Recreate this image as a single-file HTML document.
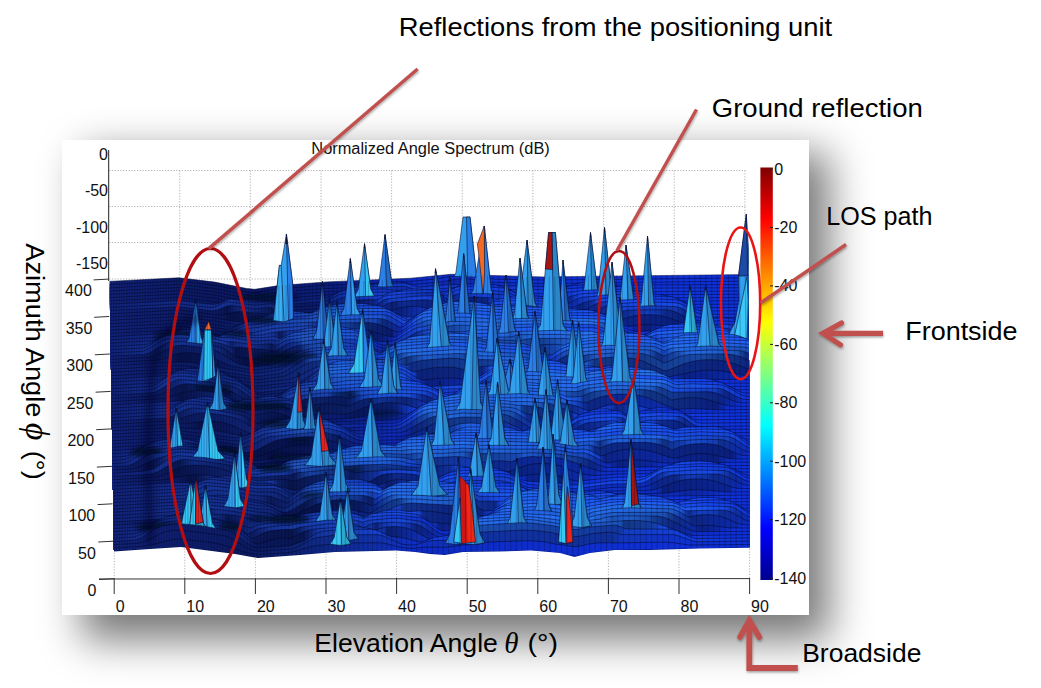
<!DOCTYPE html>
<html><head><meta charset="utf-8"><title>Normalized Angle Spectrum</title>
<style>
html,body{margin:0;padding:0;background:#fff;}
body{width:1041px;height:688px;overflow:hidden;position:relative;font-family:"Liberation Sans", sans-serif;}
.panel{position:absolute;left:62px;top:140px;width:747px;height:475px;background:#fff;}
.sh{position:absolute;left:82px;top:153px;width:747px;height:487px;background:rgba(0,0,0,0.53);filter:blur(20px);}
svg{position:absolute;left:0;top:0;}
text{font-family:"Liberation Sans", sans-serif;}
.tk{font-size:16px;fill:#111;}
.an{font-size:25.5px;fill:#000;}
.ml{fill:none;stroke:#02082a;stroke-width:0.6;stroke-opacity:0.85;}
.pk{stroke:#06103a;stroke-width:0.6;stroke-linejoin:round;}
.rl{fill:none;stroke:#06103a;stroke-width:0.5;stroke-opacity:0.7;}
</style></head><body>
<div class="sh"></div>
<div class="panel"></div>
<svg width="1041" height="688" viewBox="0 0 1041 688">
<defs>
<linearGradient id="jet" x1="0" y1="0" x2="0" y2="1">
<stop offset="0" stop-color="#800000"/>
<stop offset="0.125" stop-color="#ff0000"/>
<stop offset="0.375" stop-color="#ffff00"/>
<stop offset="0.5" stop-color="#80ff80"/>
<stop offset="0.625" stop-color="#00ffff"/>
<stop offset="0.875" stop-color="#0000ff"/>
<stop offset="1" stop-color="#00008f"/>
</linearGradient>
<filter id="b3" x="-30%" y="-80%" width="160%" height="260%"><feGaussianBlur stdDeviation="2.2"/></filter>
<filter id="b4" x="-50%" y="-10%" width="200%" height="120%"><feGaussianBlur stdDeviation="3.5"/></filter>
<filter id="ash" x="-20%" y="-20%" width="140%" height="140%"><feDropShadow dx="0.5" dy="1.5" stdDeviation="1.2" flood-color="#000" flood-opacity="0.35"/></filter>
<clipPath id="sc"><path d="M109.5,281.5 L108,281.5 L112,281.4 L116,281.2 L120,281.1 L124,280.9 L128,280.7 L132,280.5 L136,280.3 L140,280.1 L144,279.8 L148,279.6 L152,279.3 L156,279.1 L160,278.8 L164,278.5 L168,278.3 L172,278 L176,277.9 L180,277.8 L184,278.1 L188,278.5 L192,279 L196,279.5 L200,280 L204,280.5 L208,281 L212,281.5 L216,282.1 L220,282.8 L224,283.6 L228,284.4 L232,285.2 L236,286 L240,286.9 L244,287.7 L248,288.5 L252,289.1 L256,289.3 L260,288.9 L264,288.3 L268,287.5 L272,286.7 L276,286.1 L280,285.6 L284,285.3 L288,284.9 L292,284.6 L296,284.2 L300,283.9 L304,283.5 L308,283.2 L312,282.9 L316,282.5 L320,282.2 L324,282 L328,281.9 L332,281.8 L336,281.7 L340,281.6 L344,281.5 L348,281.4 L352,281.3 L356,281.2 L360,281.1 L364,281 L368,280.9 L372,280.7 L376,280.4 L380,280.2 L384,280 L388,279.7 L392,279.5 L396,279.3 L400,279 L404,278.8 L408,278.5 L412,278.2 L416,277.8 L420,277.4 L424,277 L428,276.6 L432,276.1 L436,275.7 L440,275.3 L444,274.9 L448,274.5 L452,274.3 L456,274.2 L460,274.3 L464,274.5 L468,274.7 L472,274.8 L476,275 L480,275.2 L484,275.4 L488,275.6 L492,275.7 L496,275.9 L500,276 L504,276.1 L508,276.2 L512,276.3 L516,276.4 L520,276.5 L524,276.6 L528,276.7 L532,276.8 L536,276.9 L540,276.9 L544,276.9 L548,276.8 L552,276.6 L556,276.5 L560,276.3 L564,276.1 L568,276 L572,275.8 L576,275.7 L580,275.6 L584,275.5 L588,275.4 L592,275.4 L596,275.4 L600,275.3 L604,275.3 L608,275.3 L612,275.2 L616,275.2 L620,275.2 L624,275.1 L628,275.1 L632,275.1 L636,275 L640,275 L644,275 L648,275 L652,274.9 L656,274.9 L660,274.9 L664,274.9 L668,274.9 L672,274.9 L676,274.8 L680,274.8 L684,274.8 L688,274.8 L692,274.8 L696,274.7 L700,274.7 L704,274.7 L708,274.7 L712,274.7 L716,274.6 L720,274.6 L724,274.6 L728,274.6 L732,274.6 L736,274.5 L740,274.5 L744,274.5 L748,274.5 L752,274.5 L748.5,274.5 L750,547.7 L700,548.5 L650,550 L615,550 L590,553 L574.5,557 L560,553 L531,550.5 L500,551.5 L463,552 L445,555 L430,554 L415,552 L396,550.5 L335,552 L300,555 L258,558 L235,554 L181,547 L150,549 L114,551.5Z"/></clipPath>
<clipPath id="oc"><path d="M104,150 L109.5,281.5 L114,551.5 L150,549 L181,547 L235,554 L258,558 L300,555 L335,552 L396,550.5 L415,552 L430,554 L445,555 L463,552 L500,551.5 L531,550.5 L560,553 L574.5,557 L590,553 L615,550 L650,550 L700,548.5 L750,547.7 L748.6,274.5 L753,150 Z"/></clipPath>
<linearGradient id="r0" gradientUnits="userSpaceOnUse" x1="109" y1="0" x2="751" y2="0"><stop offset="-0.004" stop-color="#12237b"/><stop offset="0.171" stop-color="#0c1a64"/><stop offset="0.352" stop-color="#0c1e7e"/><stop offset="0.389" stop-color="#0d2395"/><stop offset="0.427" stop-color="#0d27ac"/><stop offset="0.477" stop-color="#0e2cc5"/><stop offset="1.001" stop-color="#0e30d9"/></linearGradient>
<linearGradient id="r1" gradientUnits="userSpaceOnUse" x1="109" y1="0" x2="751" y2="0"><stop offset="-0.004" stop-color="#12237b"/><stop offset="0.171" stop-color="#0c1a64"/><stop offset="0.352" stop-color="#0c1e7e"/><stop offset="0.389" stop-color="#0d2395"/><stop offset="0.421" stop-color="#0e28ac"/><stop offset="0.477" stop-color="#0e2cc5"/><stop offset="0.576" stop-color="#1032d4"/><stop offset="1.001" stop-color="#0e30d9"/></linearGradient>
<linearGradient id="r2" gradientUnits="userSpaceOnUse" x1="109" y1="0" x2="751" y2="0"><stop offset="-0.004" stop-color="#12237b"/><stop offset="0.171" stop-color="#0c1a64"/><stop offset="0.352" stop-color="#0c1e7e"/><stop offset="0.389" stop-color="#0e2599"/><stop offset="0.408" stop-color="#1130b1"/><stop offset="0.452" stop-color="#1234c9"/><stop offset="0.539" stop-color="#0d27a7"/><stop offset="0.583" stop-color="#0e2dc1"/><stop offset="0.889" stop-color="#0e30d8"/><stop offset="1.001" stop-color="#0e30d9"/></linearGradient>
<linearGradient id="r3" gradientUnits="userSpaceOnUse" x1="109" y1="0" x2="751" y2="0"><stop offset="-0.004" stop-color="#12237b"/><stop offset="0.171" stop-color="#0c1a64"/><stop offset="0.352" stop-color="#0c1e7e"/><stop offset="0.377" stop-color="#0e2798"/><stop offset="0.396" stop-color="#1232b2"/><stop offset="0.433" stop-color="#153ac9"/><stop offset="1.001" stop-color="#0e30d9"/></linearGradient>
<linearGradient id="r4" gradientUnits="userSpaceOnUse" x1="109" y1="0" x2="751" y2="0"><stop offset="-0.004" stop-color="#12237b"/><stop offset="0.171" stop-color="#0c1a64"/><stop offset="0.346" stop-color="#0b1f7c"/><stop offset="0.358" stop-color="#0f2893"/><stop offset="0.371" stop-color="#1233ac"/><stop offset="0.402" stop-color="#153bc3"/><stop offset="0.458" stop-color="#102ea9"/><stop offset="0.477" stop-color="#0f2fc9"/><stop offset="0.726" stop-color="#133ee2"/><stop offset="1.001" stop-color="#0e30d9"/></linearGradient>
<linearGradient id="r5" gradientUnits="userSpaceOnUse" x1="109" y1="0" x2="751" y2="0"><stop offset="-0.003" stop-color="#12237b"/><stop offset="0.171" stop-color="#0c1a64"/><stop offset="0.346" stop-color="#0d2486"/><stop offset="0.358" stop-color="#1232a6"/><stop offset="0.383" stop-color="#143abd"/><stop offset="0.533" stop-color="#1033d4"/><stop offset="1.001" stop-color="#0e30d9"/></linearGradient>
<linearGradient id="r6" gradientUnits="userSpaceOnUse" x1="109" y1="0" x2="751" y2="0"><stop offset="-0.003" stop-color="#12237b"/><stop offset="0.171" stop-color="#0c1a64"/><stop offset="0.190" stop-color="#12267c"/><stop offset="0.215" stop-color="#163294"/><stop offset="0.252" stop-color="#102373"/><stop offset="0.271" stop-color="#0b185c"/><stop offset="0.333" stop-color="#0b1c73"/><stop offset="0.358" stop-color="#102e97"/><stop offset="0.371" stop-color="#1438b5"/><stop offset="0.433" stop-color="#163ecf"/><stop offset="0.546" stop-color="#1644e6"/><stop offset="1.001" stop-color="#0e30d9"/></linearGradient>
<linearGradient id="r7" gradientUnits="userSpaceOnUse" x1="109" y1="0" x2="751" y2="0"><stop offset="-0.003" stop-color="#12237b"/><stop offset="0.190" stop-color="#173398"/><stop offset="0.265" stop-color="#0f2374"/><stop offset="0.277" stop-color="#0b185c"/><stop offset="0.334" stop-color="#0b1c73"/><stop offset="0.371" stop-color="#0e298b"/><stop offset="0.383" stop-color="#1234ac"/><stop offset="0.427" stop-color="#153dcd"/><stop offset="0.452" stop-color="#1949e4"/><stop offset="0.527" stop-color="#1031c3"/><stop offset="0.546" stop-color="#1640db"/><stop offset="0.627" stop-color="#1236c1"/><stop offset="0.633" stop-color="#123add"/><stop offset="0.689" stop-color="#0f31d5"/><stop offset="0.702" stop-color="#0d2aa2"/><stop offset="0.720" stop-color="#133ccb"/><stop offset="0.733" stop-color="#1747ea"/><stop offset="0.870" stop-color="#0e30d7"/><stop offset="1.001" stop-color="#0e30d9"/></linearGradient>
<linearGradient id="r8" gradientUnits="userSpaceOnUse" x1="109" y1="0" x2="751" y2="0"><stop offset="-0.003" stop-color="#12237b"/><stop offset="0.190" stop-color="#173295"/><stop offset="0.259" stop-color="#11277b"/><stop offset="0.271" stop-color="#0c1c63"/><stop offset="0.346" stop-color="#0b1f7b"/><stop offset="0.377" stop-color="#081759"/><stop offset="0.415" stop-color="#0d2586"/><stop offset="0.421" stop-color="#143ac4"/><stop offset="0.433" stop-color="#1947dc"/><stop offset="0.533" stop-color="#0c248d"/><stop offset="0.552" stop-color="#1133af"/><stop offset="0.558" stop-color="#143bc8"/><stop offset="0.596" stop-color="#1540d8"/><stop offset="0.608" stop-color="#1236b6"/><stop offset="0.614" stop-color="#1643e1"/><stop offset="0.702" stop-color="#1035da"/><stop offset="0.708" stop-color="#0f2fb8"/><stop offset="0.714" stop-color="#0b2384"/><stop offset="0.720" stop-color="#0e2b9b"/><stop offset="0.727" stop-color="#1239c5"/><stop offset="0.739" stop-color="#1848e8"/><stop offset="0.889" stop-color="#0e31d9"/><stop offset="1.001" stop-color="#0e30d9"/></linearGradient>
<linearGradient id="r9" gradientUnits="userSpaceOnUse" x1="109" y1="0" x2="751" y2="0"><stop offset="-0.003" stop-color="#12237b"/><stop offset="0.165" stop-color="#0c1a63"/><stop offset="0.184" stop-color="#08144c"/><stop offset="0.196" stop-color="#0f216c"/><stop offset="0.209" stop-color="#142d87"/><stop offset="0.246" stop-color="#0c1c5f"/><stop offset="0.259" stop-color="#08144d"/><stop offset="0.315" stop-color="#0a1a66"/><stop offset="0.346" stop-color="#0c207f"/><stop offset="0.377" stop-color="#0e2799"/><stop offset="0.409" stop-color="#0f2cab"/><stop offset="0.421" stop-color="#0c2380"/><stop offset="0.433" stop-color="#1234a8"/><stop offset="0.440" stop-color="#1640cb"/><stop offset="0.496" stop-color="#1845dc"/><stop offset="0.502" stop-color="#143bc1"/><stop offset="0.508" stop-color="#102e9b"/><stop offset="0.533" stop-color="#0d28ac"/><stop offset="0.539" stop-color="#0a2187"/><stop offset="0.589" stop-color="#0c237e"/><stop offset="0.596" stop-color="#123ac4"/><stop offset="0.602" stop-color="#1643e6"/><stop offset="0.714" stop-color="#1036da"/><stop offset="0.720" stop-color="#0d299f"/><stop offset="0.745" stop-color="#143dc6"/><stop offset="0.758" stop-color="#1748e8"/><stop offset="0.907" stop-color="#0e30d8"/><stop offset="1.001" stop-color="#0e30d9"/></linearGradient>
<linearGradient id="r10" gradientUnits="userSpaceOnUse" x1="109" y1="0" x2="751" y2="0"><stop offset="-0.003" stop-color="#12237b"/><stop offset="0.172" stop-color="#0d1a64"/><stop offset="0.190" stop-color="#071247"/><stop offset="0.240" stop-color="#0d1e66"/><stop offset="0.246" stop-color="#11287e"/><stop offset="0.265" stop-color="#0c1b62"/><stop offset="0.327" stop-color="#0e237f"/><stop offset="0.340" stop-color="#112d97"/><stop offset="0.359" stop-color="#1539b3"/><stop offset="0.434" stop-color="#0e288c"/><stop offset="0.440" stop-color="#0b1e6d"/><stop offset="0.458" stop-color="#0f2b91"/><stop offset="0.508" stop-color="#0b217c"/><stop offset="0.521" stop-color="#1134d5"/><stop offset="0.608" stop-color="#194cee"/><stop offset="0.720" stop-color="#1035da"/><stop offset="0.727" stop-color="#0e2eb4"/><stop offset="0.733" stop-color="#0a207c"/><stop offset="0.752" stop-color="#0f2e9e"/><stop offset="0.758" stop-color="#143fcd"/><stop offset="0.770" stop-color="#194dec"/><stop offset="0.908" stop-color="#1035dd"/><stop offset="1.001" stop-color="#0e30d9"/></linearGradient>
<linearGradient id="r11" gradientUnits="userSpaceOnUse" x1="109" y1="0" x2="751" y2="0"><stop offset="-0.003" stop-color="#12237b"/><stop offset="0.172" stop-color="#0c1a64"/><stop offset="0.246" stop-color="#12287f"/><stop offset="0.328" stop-color="#1535a4"/><stop offset="0.340" stop-color="#1840bd"/><stop offset="0.365" stop-color="#1e57d8"/><stop offset="0.427" stop-color="#153dce"/><stop offset="0.452" stop-color="#0b2079"/><stop offset="0.496" stop-color="#1134c3"/><stop offset="0.533" stop-color="#1238da"/><stop offset="0.627" stop-color="#1a50f1"/><stop offset="0.727" stop-color="#1034d9"/><stop offset="0.739" stop-color="#0e2dbd"/><stop offset="0.745" stop-color="#0d299f"/><stop offset="0.758" stop-color="#0d288c"/><stop offset="0.770" stop-color="#1239b6"/><stop offset="0.777" stop-color="#1644d5"/><stop offset="0.789" stop-color="#1a4ff2"/><stop offset="0.914" stop-color="#1035dc"/><stop offset="1.001" stop-color="#0e30d9"/></linearGradient>
<linearGradient id="r12" gradientUnits="userSpaceOnUse" x1="109" y1="0" x2="751" y2="0"><stop offset="-0.003" stop-color="#12237b"/><stop offset="0.172" stop-color="#0c1a64"/><stop offset="0.222" stop-color="#132a84"/><stop offset="0.240" stop-color="#1838a2"/><stop offset="0.328" stop-color="#1a45bc"/><stop offset="0.346" stop-color="#1f5ad4"/><stop offset="0.440" stop-color="#1740d5"/><stop offset="0.527" stop-color="#194bed"/><stop offset="0.702" stop-color="#1745d5"/><stop offset="0.758" stop-color="#0e2da7"/><stop offset="0.764" stop-color="#0b227e"/><stop offset="0.783" stop-color="#133cbf"/><stop offset="0.789" stop-color="#1747da"/><stop offset="0.883" stop-color="#194deb"/><stop offset="0.895" stop-color="#143fcc"/><stop offset="1.001" stop-color="#0e30d9"/></linearGradient>
<linearGradient id="r13" gradientUnits="userSpaceOnUse" x1="109" y1="0" x2="751" y2="0"><stop offset="-0.003" stop-color="#12237b"/><stop offset="0.172" stop-color="#0c1a64"/><stop offset="0.209" stop-color="#142c88"/><stop offset="0.222" stop-color="#1938a3"/><stop offset="0.321" stop-color="#1c4dc2"/><stop offset="0.353" stop-color="#2161db"/><stop offset="0.427" stop-color="#1f5be5"/><stop offset="0.446" stop-color="#1742d9"/><stop offset="0.509" stop-color="#1e57f0"/><stop offset="0.527" stop-color="#2570f3"/><stop offset="0.602" stop-color="#1a4ef0"/><stop offset="0.764" stop-color="#1036db"/><stop offset="0.777" stop-color="#0e2b9d"/><stop offset="0.802" stop-color="#1643d0"/><stop offset="0.883" stop-color="#1237ad"/><stop offset="0.895" stop-color="#0d298f"/><stop offset="0.914" stop-color="#0e2cba"/><stop offset="0.920" stop-color="#0e2fd2"/><stop offset="1.001" stop-color="#0e30d9"/></linearGradient>
<linearGradient id="r14" gradientUnits="userSpaceOnUse" x1="109" y1="0" x2="751" y2="0"><stop offset="-0.003" stop-color="#12237b"/><stop offset="0.172" stop-color="#0c1a64"/><stop offset="0.197" stop-color="#12257b"/><stop offset="0.209" stop-color="#18349a"/><stop offset="0.297" stop-color="#183aa6"/><stop offset="0.322" stop-color="#1d50c2"/><stop offset="0.353" stop-color="#2162da"/><stop offset="0.440" stop-color="#1844d4"/><stop offset="0.490" stop-color="#1c52ed"/><stop offset="0.502" stop-color="#256ef3"/><stop offset="0.739" stop-color="#1c56f2"/><stop offset="0.770" stop-color="#143fe3"/><stop offset="0.789" stop-color="#0b2481"/><stop offset="0.820" stop-color="#1133a4"/><stop offset="0.839" stop-color="#143cbd"/><stop offset="0.858" stop-color="#1033a2"/><stop offset="0.864" stop-color="#0e2a8a"/><stop offset="0.895" stop-color="#0a207d"/><stop offset="0.901" stop-color="#0b2595"/><stop offset="0.908" stop-color="#0d2bb8"/><stop offset="0.914" stop-color="#0e2fd2"/><stop offset="1.001" stop-color="#0e30d9"/></linearGradient>
<linearGradient id="r15" gradientUnits="userSpaceOnUse" x1="109" y1="0" x2="751" y2="0"><stop offset="-0.003" stop-color="#12237b"/><stop offset="0.172" stop-color="#0c1a64"/><stop offset="0.203" stop-color="#142b85"/><stop offset="0.216" stop-color="#18369c"/><stop offset="0.303" stop-color="#1c4dba"/><stop offset="0.353" stop-color="#205cd1"/><stop offset="0.421" stop-color="#1e59db"/><stop offset="0.434" stop-color="#153eb0"/><stop offset="0.459" stop-color="#1235cc"/><stop offset="0.477" stop-color="#1a4bea"/><stop offset="0.490" stop-color="#246af1"/><stop offset="0.771" stop-color="#194ef1"/><stop offset="0.795" stop-color="#133ce1"/><stop offset="0.802" stop-color="#0b2486"/><stop offset="0.883" stop-color="#0a1f7c"/><stop offset="0.889" stop-color="#0b2497"/><stop offset="0.895" stop-color="#0d2bba"/><stop offset="0.901" stop-color="#0e30d3"/><stop offset="0.951" stop-color="#1645ea"/><stop offset="1.001" stop-color="#0e30d9"/></linearGradient>
<linearGradient id="r16" gradientUnits="userSpaceOnUse" x1="109" y1="0" x2="751" y2="0"><stop offset="-0.003" stop-color="#12237b"/><stop offset="0.172" stop-color="#0c1a64"/><stop offset="0.197" stop-color="#12267c"/><stop offset="0.209" stop-color="#18359c"/><stop offset="0.303" stop-color="#1c48b3"/><stop offset="0.322" stop-color="#143594"/><stop offset="0.340" stop-color="#1948af"/><stop offset="0.353" stop-color="#1d57ca"/><stop offset="0.415" stop-color="#1845b1"/><stop offset="0.421" stop-color="#123693"/><stop offset="0.428" stop-color="#0e287c"/><stop offset="0.453" stop-color="#0e289b"/><stop offset="0.459" stop-color="#1337ce"/><stop offset="0.471" stop-color="#1948e5"/><stop offset="0.484" stop-color="#2265ef"/><stop offset="0.783" stop-color="#194cf0"/><stop offset="0.808" stop-color="#1034da"/><stop offset="0.814" stop-color="#0d2bb2"/><stop offset="0.820" stop-color="#0b2495"/><stop offset="0.839" stop-color="#0a1f7e"/><stop offset="0.858" stop-color="#0d29a7"/><stop offset="0.864" stop-color="#0f31c8"/><stop offset="0.920" stop-color="#133ce2"/><stop offset="1.001" stop-color="#0e30d9"/></linearGradient>
<linearGradient id="r17" gradientUnits="userSpaceOnUse" x1="109" y1="0" x2="751" y2="0"><stop offset="-0.002" stop-color="#12237b"/><stop offset="0.197" stop-color="#173398"/><stop offset="0.303" stop-color="#1c48b7"/><stop offset="0.334" stop-color="#183fba"/><stop offset="0.372" stop-color="#153fa2"/><stop offset="0.378" stop-color="#12348b"/><stop offset="0.397" stop-color="#0d2670"/><stop offset="0.440" stop-color="#091a69"/><stop offset="0.446" stop-color="#0e279b"/><stop offset="0.453" stop-color="#1130c4"/><stop offset="0.471" stop-color="#1948e6"/><stop offset="0.484" stop-color="#1b50c6"/><stop offset="0.496" stop-color="#256ee9"/><stop offset="0.783" stop-color="#1a50f3"/><stop offset="0.808" stop-color="#1035db"/><stop offset="1.001" stop-color="#0e30d9"/></linearGradient>
<linearGradient id="r18" gradientUnits="userSpaceOnUse" x1="109" y1="0" x2="751" y2="0"><stop offset="-0.002" stop-color="#12237b"/><stop offset="0.178" stop-color="#163295"/><stop offset="0.247" stop-color="#193aa6"/><stop offset="0.259" stop-color="#132c85"/><stop offset="0.266" stop-color="#0a1a59"/><stop offset="0.272" stop-color="#0f2472"/><stop offset="0.278" stop-color="#153396"/><stop offset="0.297" stop-color="#183aa6"/><stop offset="0.309" stop-color="#1e51c1"/><stop offset="0.390" stop-color="#1945d1"/><stop offset="0.397" stop-color="#1335a9"/><stop offset="0.403" stop-color="#0d257f"/><stop offset="0.409" stop-color="#091a61"/><stop offset="0.434" stop-color="#0c2186"/><stop offset="0.440" stop-color="#0d26a3"/><stop offset="0.446" stop-color="#102dbd"/><stop offset="0.465" stop-color="#1744de"/><stop offset="0.490" stop-color="#1a4cb7"/><stop offset="0.503" stop-color="#2161d3"/><stop offset="0.621" stop-color="#246be5"/><stop offset="0.764" stop-color="#2672f2"/><stop offset="0.783" stop-color="#184bd6"/><stop offset="0.808" stop-color="#1032ce"/><stop offset="0.864" stop-color="#1543e8"/><stop offset="0.951" stop-color="#194cf1"/><stop offset="0.964" stop-color="#1542d7"/><stop offset="0.970" stop-color="#1238b7"/><stop offset="0.976" stop-color="#0c2481"/><stop offset="0.983" stop-color="#1239ce"/><stop offset="1.001" stop-color="#0e30d9"/></linearGradient>
<linearGradient id="r19" gradientUnits="userSpaceOnUse" x1="109" y1="0" x2="751" y2="0"><stop offset="-0.002" stop-color="#12237b"/><stop offset="0.097" stop-color="#163294"/><stop offset="0.260" stop-color="#193aa5"/><stop offset="0.303" stop-color="#1f54c4"/><stop offset="0.378" stop-color="#1d55d9"/><stop offset="0.397" stop-color="#163ec7"/><stop offset="0.415" stop-color="#0f2bad"/><stop offset="0.478" stop-color="#1640c4"/><stop offset="0.484" stop-color="#1a4fdb"/><stop offset="0.503" stop-color="#194bb1"/><stop offset="0.528" stop-color="#2060cf"/><stop offset="0.596" stop-color="#256de8"/><stop offset="0.758" stop-color="#2774f5"/><stop offset="0.771" stop-color="#1a4fb9"/><stop offset="0.783" stop-color="#1133a2"/><stop offset="0.802" stop-color="#0f31bb"/><stop offset="0.808" stop-color="#1035db"/><stop offset="0.858" stop-color="#194ef1"/><stop offset="1.001" stop-color="#123be2"/></linearGradient>
<linearGradient id="r20" gradientUnits="userSpaceOnUse" x1="109" y1="0" x2="751" y2="0"><stop offset="-0.002" stop-color="#12237b"/><stop offset="0.085" stop-color="#173499"/><stop offset="0.179" stop-color="#1a3aa4"/><stop offset="0.260" stop-color="#132c84"/><stop offset="0.266" stop-color="#18379e"/><stop offset="0.303" stop-color="#2059c8"/><stop offset="0.384" stop-color="#1d56db"/><stop offset="0.403" stop-color="#163dc8"/><stop offset="0.422" stop-color="#0e29ad"/><stop offset="0.472" stop-color="#0c247f"/><stop offset="0.490" stop-color="#153eb3"/><stop offset="0.496" stop-color="#1a4bd0"/><stop offset="0.509" stop-color="#1d55e2"/><stop offset="0.521" stop-color="#1a4cba"/><stop offset="0.534" stop-color="#16439d"/><stop offset="0.565" stop-color="#1f5cc8"/><stop offset="0.577" stop-color="#2369e9"/><stop offset="0.777" stop-color="#1747db"/><stop offset="0.852" stop-color="#1a50f3"/><stop offset="1.001" stop-color="#1541e8"/></linearGradient>
<linearGradient id="r21" gradientUnits="userSpaceOnUse" x1="109" y1="0" x2="751" y2="0"><stop offset="-0.002" stop-color="#12237b"/><stop offset="0.079" stop-color="#17359a"/><stop offset="0.179" stop-color="#1a3aa5"/><stop offset="0.191" stop-color="#0e2068"/><stop offset="0.197" stop-color="#132a81"/><stop offset="0.216" stop-color="#173498"/><stop offset="0.247" stop-color="#0e226d"/><stop offset="0.253" stop-color="#0a1956"/><stop offset="0.260" stop-color="#0e226d"/><stop offset="0.266" stop-color="#132e89"/><stop offset="0.285" stop-color="#1739a3"/><stop offset="0.303" stop-color="#1f57c3"/><stop offset="0.378" stop-color="#1d57d8"/><stop offset="0.391" stop-color="#1743bb"/><stop offset="0.422" stop-color="#0e29aa"/><stop offset="0.453" stop-color="#1030c4"/><stop offset="0.478" stop-color="#1641df"/><stop offset="0.521" stop-color="#1e58f0"/><stop offset="0.559" stop-color="#1b4ecd"/><stop offset="0.571" stop-color="#2266ee"/><stop offset="0.777" stop-color="#1a4ff2"/><stop offset="0.895" stop-color="#2267f4"/><stop offset="0.964" stop-color="#1a50f4"/><stop offset="1.001" stop-color="#1440e1"/></linearGradient>
<linearGradient id="r22" gradientUnits="userSpaceOnUse" x1="109" y1="0" x2="751" y2="0"><stop offset="-0.002" stop-color="#12237b"/><stop offset="0.091" stop-color="#18369b"/><stop offset="0.191" stop-color="#102371"/><stop offset="0.197" stop-color="#08144c"/><stop offset="0.266" stop-color="#0d1f66"/><stop offset="0.285" stop-color="#122d86"/><stop offset="0.297" stop-color="#17379f"/><stop offset="0.303" stop-color="#1e52bc"/><stop offset="0.409" stop-color="#1336bc"/><stop offset="0.453" stop-color="#163fd8"/><stop offset="0.478" stop-color="#1f5cee"/><stop offset="0.497" stop-color="#2673f3"/><stop offset="0.559" stop-color="#1c54f0"/><stop offset="0.615" stop-color="#2368e1"/><stop offset="0.627" stop-color="#1d55bc"/><stop offset="0.634" stop-color="#2265d8"/><stop offset="0.752" stop-color="#2774f5"/><stop offset="0.827" stop-color="#1c57f3"/><stop offset="0.852" stop-color="#1849cf"/><stop offset="0.858" stop-color="#1c56e7"/><stop offset="0.883" stop-color="#1f5fe9"/><stop offset="0.989" stop-color="#1644ea"/><stop offset="1.001" stop-color="#1541e8"/></linearGradient>
<linearGradient id="r23" gradientUnits="userSpaceOnUse" x1="109" y1="0" x2="751" y2="0"><stop offset="-0.002" stop-color="#12237b"/><stop offset="0.073" stop-color="#0c1c63"/><stop offset="0.098" stop-color="#122a7e"/><stop offset="0.110" stop-color="#17379b"/><stop offset="0.173" stop-color="#112676"/><stop offset="0.185" stop-color="#0b1b5d"/><stop offset="0.216" stop-color="#071146"/><stop offset="0.297" stop-color="#0e226d"/><stop offset="0.303" stop-color="#14358a"/><stop offset="0.316" stop-color="#1a47ad"/><stop offset="0.347" stop-color="#1d52c6"/><stop offset="0.409" stop-color="#1438c0"/><stop offset="0.441" stop-color="#1742d7"/><stop offset="0.459" stop-color="#2264ee"/><stop offset="0.565" stop-color="#2774f4"/><stop offset="0.634" stop-color="#1a4dae"/><stop offset="0.652" stop-color="#2162d3"/><stop offset="0.727" stop-color="#2367dd"/><stop offset="0.740" stop-color="#2774f5"/><stop offset="0.846" stop-color="#1e5bf4"/><stop offset="0.864" stop-color="#1747c2"/><stop offset="0.871" stop-color="#1f5df2"/><stop offset="0.902" stop-color="#2674f5"/><stop offset="0.989" stop-color="#1c55f4"/><stop offset="1.001" stop-color="#1748ee"/></linearGradient>
<linearGradient id="r24" gradientUnits="userSpaceOnUse" x1="109" y1="0" x2="751" y2="0"><stop offset="-0.002" stop-color="#12237b"/><stop offset="0.079" stop-color="#0b1a5c"/><stop offset="0.285" stop-color="#10287d"/><stop offset="0.291" stop-color="#143395"/><stop offset="0.310" stop-color="#193eaf"/><stop offset="0.335" stop-color="#1d4fc8"/><stop offset="0.422" stop-color="#1338c4"/><stop offset="0.434" stop-color="#1946dc"/><stop offset="0.447" stop-color="#2265ec"/><stop offset="0.652" stop-color="#17459e"/><stop offset="0.659" stop-color="#123683"/><stop offset="0.684" stop-color="#1745a0"/><stop offset="0.715" stop-color="#1f5cca"/><stop offset="0.721" stop-color="#2774f5"/><stop offset="0.858" stop-color="#1d59f3"/><stop offset="0.883" stop-color="#2673f5"/><stop offset="1.001" stop-color="#1b53f4"/></linearGradient>
<linearGradient id="r25" gradientUnits="userSpaceOnUse" x1="109" y1="0" x2="751" y2="0"><stop offset="-0.002" stop-color="#12237b"/><stop offset="0.092" stop-color="#0c1b62"/><stop offset="0.110" stop-color="#071249"/><stop offset="0.185" stop-color="#0c1a61"/><stop offset="0.285" stop-color="#122b85"/><stop offset="0.297" stop-color="#183aa6"/><stop offset="0.316" stop-color="#1c4cbf"/><stop offset="0.353" stop-color="#1f5ad6"/><stop offset="0.422" stop-color="#1640cf"/><stop offset="0.441" stop-color="#2366ec"/><stop offset="0.665" stop-color="#1b51cf"/><stop offset="0.671" stop-color="#103083"/><stop offset="0.702" stop-color="#194db9"/><stop offset="0.709" stop-color="#2267f4"/><stop offset="1.001" stop-color="#2164f5"/></linearGradient>
<linearGradient id="r26" gradientUnits="userSpaceOnUse" x1="109" y1="0" x2="751" y2="0"><stop offset="-0.002" stop-color="#12237b"/><stop offset="0.142" stop-color="#0c1c64"/><stop offset="0.291" stop-color="#122d88"/><stop offset="0.304" stop-color="#193fa6"/><stop offset="0.322" stop-color="#1c4ec0"/><stop offset="0.391" stop-color="#1d54d7"/><stop offset="0.416" stop-color="#153dbe"/><stop offset="0.422" stop-color="#1845d9"/><stop offset="0.441" stop-color="#2266e1"/><stop offset="0.671" stop-color="#194ef0"/><stop offset="0.684" stop-color="#1031a6"/><stop offset="0.690" stop-color="#143dca"/><stop offset="0.702" stop-color="#1c54e2"/><stop offset="0.715" stop-color="#256eea"/><stop offset="0.864" stop-color="#1c57db"/><stop offset="0.877" stop-color="#2671f0"/><stop offset="1.002" stop-color="#1e5dde"/></linearGradient>
<linearGradient id="r27" gradientUnits="userSpaceOnUse" x1="109" y1="0" x2="751" y2="0"><stop offset="-0.002" stop-color="#12237b"/><stop offset="0.173" stop-color="#0c1a64"/><stop offset="0.304" stop-color="#10297b"/><stop offset="0.310" stop-color="#153896"/><stop offset="0.316" stop-color="#1944ae"/><stop offset="0.354" stop-color="#1c51c6"/><stop offset="0.378" stop-color="#1c52cf"/><stop offset="0.428" stop-color="#1947dc"/><stop offset="0.435" stop-color="#143aa8"/><stop offset="0.447" stop-color="#1e59c3"/><stop offset="0.459" stop-color="#256ee9"/><stop offset="0.665" stop-color="#1b51d9"/><stop offset="0.684" stop-color="#123acd"/><stop offset="0.690" stop-color="#1033b2"/><stop offset="0.709" stop-color="#194cb7"/><stop offset="0.721" stop-color="#2163d6"/><stop offset="0.734" stop-color="#256fed"/><stop offset="0.852" stop-color="#1f5bc8"/><stop offset="0.864" stop-color="#1540b2"/><stop offset="0.877" stop-color="#1e5dcb"/><stop offset="0.883" stop-color="#246be5"/><stop offset="0.995" stop-color="#1b51bc"/><stop offset="1.002" stop-color="#1541ab"/></linearGradient>
<linearGradient id="r28" gradientUnits="userSpaceOnUse" x1="109" y1="0" x2="751" y2="0"><stop offset="-0.002" stop-color="#12237b"/><stop offset="0.168" stop-color="#0c1a64"/><stop offset="0.324" stop-color="#102c7f"/><stop offset="0.337" stop-color="#163ea4"/><stop offset="0.350" stop-color="#1d51ce"/><stop offset="0.444" stop-color="#1948b7"/><stop offset="0.450" stop-color="#143c8f"/><stop offset="0.462" stop-color="#1e58c1"/><stop offset="0.469" stop-color="#2366da"/><stop offset="0.556" stop-color="#246ce6"/><stop offset="0.569" stop-color="#1e58c1"/><stop offset="0.582" stop-color="#246be4"/><stop offset="0.657" stop-color="#194cb9"/><stop offset="0.663" stop-color="#1b52dd"/><stop offset="0.707" stop-color="#0d2982"/><stop offset="0.726" stop-color="#194baa"/><stop offset="0.732" stop-color="#1f5bc8"/><stop offset="0.738" stop-color="#2368df"/><stop offset="0.839" stop-color="#1d56be"/><stop offset="0.845" stop-color="#1846a2"/><stop offset="0.857" stop-color="#0f2e84"/><stop offset="0.889" stop-color="#1a4eb1"/><stop offset="0.895" stop-color="#205ecd"/><stop offset="0.908" stop-color="#246be4"/><stop offset="0.976" stop-color="#1d57c0"/><stop offset="0.983" stop-color="#1745a0"/><stop offset="0.989" stop-color="#113486"/><stop offset="1.002" stop-color="#0d2783"/></linearGradient>
<linearGradient id="r29" gradientUnits="userSpaceOnUse" x1="109" y1="0" x2="751" y2="0"><stop offset="-0.001" stop-color="#12237b"/><stop offset="0.180" stop-color="#0d1b64"/><stop offset="0.318" stop-color="#112b86"/><stop offset="0.325" stop-color="#1638a9"/><stop offset="0.343" stop-color="#1945c2"/><stop offset="0.356" stop-color="#2160dc"/><stop offset="0.456" stop-color="#1642a3"/><stop offset="0.462" stop-color="#103079"/><stop offset="0.481" stop-color="#1a4cab"/><stop offset="0.494" stop-color="#205dcc"/><stop offset="0.550" stop-color="#194bab"/><stop offset="0.556" stop-color="#143c8f"/><stop offset="0.569" stop-color="#2161d2"/><stop offset="0.632" stop-color="#2165de"/><stop offset="0.694" stop-color="#194ef0"/><stop offset="0.719" stop-color="#113496"/><stop offset="0.738" stop-color="#123684"/><stop offset="0.751" stop-color="#1a4eb0"/><stop offset="0.763" stop-color="#205fcf"/><stop offset="0.820" stop-color="#194aa8"/><stop offset="0.826" stop-color="#133a8b"/><stop offset="0.926" stop-color="#1847a4"/><stop offset="0.958" stop-color="#123684"/><stop offset="1.002" stop-color="#0b2380"/></linearGradient>
<linearGradient id="r30" gradientUnits="userSpaceOnUse" x1="109" y1="0" x2="751" y2="0"><stop offset="-0.001" stop-color="#12237b"/><stop offset="0.143" stop-color="#163193"/><stop offset="0.187" stop-color="#11267b"/><stop offset="0.206" stop-color="#0d1b63"/><stop offset="0.312" stop-color="#102985"/><stop offset="0.325" stop-color="#173aad"/><stop offset="0.337" stop-color="#1e56ce"/><stop offset="0.362" stop-color="#246be5"/><stop offset="0.456" stop-color="#1c4fe8"/><stop offset="0.469" stop-color="#0f2c83"/><stop offset="0.600" stop-color="#153e97"/><stop offset="0.607" stop-color="#1b51ba"/><stop offset="0.613" stop-color="#2267e5"/><stop offset="0.720" stop-color="#194ef0"/><stop offset="0.745" stop-color="#1d57d0"/><stop offset="0.751" stop-color="#16429c"/><stop offset="0.757" stop-color="#123684"/><stop offset="0.995" stop-color="#0a1f7d"/><stop offset="1.002" stop-color="#0b2494"/></linearGradient>
<linearGradient id="r31" gradientUnits="userSpaceOnUse" x1="109" y1="0" x2="751" y2="0"><stop offset="-0.001" stop-color="#12237b"/><stop offset="0.105" stop-color="#163192"/><stop offset="0.212" stop-color="#0f2170"/><stop offset="0.312" stop-color="#132f92"/><stop offset="0.325" stop-color="#183eb5"/><stop offset="0.331" stop-color="#1f56cc"/><stop offset="0.356" stop-color="#256ce5"/><stop offset="0.463" stop-color="#1b4de9"/><stop offset="0.475" stop-color="#153ed0"/><stop offset="0.481" stop-color="#0c2279"/><stop offset="0.582" stop-color="#0d2782"/><stop offset="0.588" stop-color="#1234a0"/><stop offset="0.594" stop-color="#1b51e7"/><stop offset="0.613" stop-color="#236af3"/><stop offset="0.757" stop-color="#1a51f2"/><stop offset="0.851" stop-color="#1137dd"/><stop offset="0.883" stop-color="#0d2ab3"/><stop offset="0.889" stop-color="#0c269b"/><stop offset="0.895" stop-color="#0a2083"/><stop offset="0.983" stop-color="#0c28a9"/><stop offset="0.995" stop-color="#0e2ece"/><stop offset="1.002" stop-color="#0e30d7"/></linearGradient>
<linearGradient id="r32" gradientUnits="userSpaceOnUse" x1="109" y1="0" x2="751" y2="0"><stop offset="-0.001" stop-color="#12237b"/><stop offset="0.093" stop-color="#153092"/><stop offset="0.218" stop-color="#112578"/><stop offset="0.231" stop-color="#0c1a60"/><stop offset="0.306" stop-color="#10277f"/><stop offset="0.318" stop-color="#1637a2"/><stop offset="0.331" stop-color="#1c4eba"/><stop offset="0.344" stop-color="#2366dc"/><stop offset="0.463" stop-color="#1844c9"/><stop offset="0.488" stop-color="#0f2bae"/><stop offset="0.494" stop-color="#0a1f7f"/><stop offset="0.557" stop-color="#0c27a3"/><stop offset="0.569" stop-color="#1134cb"/><stop offset="0.582" stop-color="#1643e5"/><stop offset="0.601" stop-color="#2163f2"/><stop offset="0.832" stop-color="#184aee"/><stop offset="0.876" stop-color="#0f31d8"/><stop offset="1.002" stop-color="#0e30d9"/></linearGradient>
<linearGradient id="r33" gradientUnits="userSpaceOnUse" x1="109" y1="0" x2="751" y2="0"><stop offset="-0.001" stop-color="#12237b"/><stop offset="0.093" stop-color="#18369d"/><stop offset="0.218" stop-color="#132b85"/><stop offset="0.231" stop-color="#0d1d67"/><stop offset="0.293" stop-color="#11287e"/><stop offset="0.306" stop-color="#143196"/><stop offset="0.325" stop-color="#183eb5"/><stop offset="0.344" stop-color="#1d56bf"/><stop offset="0.356" stop-color="#2365d9"/><stop offset="0.438" stop-color="#2365e2"/><stop offset="0.450" stop-color="#1d55ca"/><stop offset="0.456" stop-color="#1e57e4"/><stop offset="0.475" stop-color="#153eda"/><stop offset="0.594" stop-color="#1c55e4"/><stop offset="0.607" stop-color="#2570f1"/><stop offset="0.851" stop-color="#1a50f3"/><stop offset="0.883" stop-color="#1036dc"/><stop offset="1.002" stop-color="#0e30d9"/></linearGradient>
<linearGradient id="r34" gradientUnits="userSpaceOnUse" x1="109" y1="0" x2="751" y2="0"><stop offset="-0.001" stop-color="#12237b"/><stop offset="0.106" stop-color="#18379d"/><stop offset="0.212" stop-color="#12297f"/><stop offset="0.231" stop-color="#0d1b62"/><stop offset="0.275" stop-color="#11267c"/><stop offset="0.287" stop-color="#153397"/><stop offset="0.312" stop-color="#1940b2"/><stop offset="0.369" stop-color="#1f5ccb"/><stop offset="0.438" stop-color="#1f5dd6"/><stop offset="0.475" stop-color="#1743e0"/><stop offset="0.576" stop-color="#1237c9"/><stop offset="0.582" stop-color="#1132ad"/><stop offset="0.601" stop-color="#1a4fc0"/><stop offset="0.613" stop-color="#246dea"/><stop offset="0.851" stop-color="#2774f5"/><stop offset="0.864" stop-color="#1c57f3"/><stop offset="0.933" stop-color="#143fe5"/><stop offset="1.002" stop-color="#0e30d9"/></linearGradient>
<linearGradient id="r35" gradientUnits="userSpaceOnUse" x1="109" y1="0" x2="751" y2="0"><stop offset="-0.001" stop-color="#12237b"/><stop offset="0.087" stop-color="#0c1d63"/><stop offset="0.112" stop-color="#132d85"/><stop offset="0.124" stop-color="#18389e"/><stop offset="0.193" stop-color="#12297f"/><stop offset="0.206" stop-color="#0d1e63"/><stop offset="0.269" stop-color="#122a82"/><stop offset="0.281" stop-color="#1738a1"/><stop offset="0.312" stop-color="#1b46b8"/><stop offset="0.356" stop-color="#1d53d2"/><stop offset="0.419" stop-color="#2266e9"/><stop offset="0.469" stop-color="#1b4fea"/><stop offset="0.513" stop-color="#1135d6"/><stop offset="0.594" stop-color="#1a4ef0"/><stop offset="0.607" stop-color="#1d55cc"/><stop offset="0.613" stop-color="#194baf"/><stop offset="0.619" stop-color="#1e5bca"/><stop offset="0.632" stop-color="#246ce5"/><stop offset="0.864" stop-color="#2673f5"/><stop offset="0.876" stop-color="#1a50f3"/><stop offset="0.970" stop-color="#1035de"/><stop offset="1.002" stop-color="#0e30d9"/></linearGradient>
<linearGradient id="r36" gradientUnits="userSpaceOnUse" x1="109" y1="0" x2="751" y2="0"><stop offset="-0.001" stop-color="#12237b"/><stop offset="0.087" stop-color="#0c1b61"/><stop offset="0.118" stop-color="#08164e"/><stop offset="0.131" stop-color="#0d2067"/><stop offset="0.187" stop-color="#08154e"/><stop offset="0.206" stop-color="#0f2473"/><stop offset="0.269" stop-color="#142f8d"/><stop offset="0.281" stop-color="#1839a4"/><stop offset="0.312" stop-color="#1c4abb"/><stop offset="0.363" stop-color="#1d55d2"/><stop offset="0.450" stop-color="#205dea"/><stop offset="0.507" stop-color="#1744e5"/><stop offset="0.601" stop-color="#1f5cf2"/><stop offset="0.638" stop-color="#2673f4"/><stop offset="0.670" stop-color="#2264d7"/><stop offset="0.688" stop-color="#2570f0"/><stop offset="0.883" stop-color="#1a51f3"/><stop offset="0.977" stop-color="#1138e0"/><stop offset="1.002" stop-color="#0e30d9"/></linearGradient>
<linearGradient id="r37" gradientUnits="userSpaceOnUse" x1="109" y1="0" x2="751" y2="0"><stop offset="-0.001" stop-color="#12237b"/><stop offset="0.099" stop-color="#0c1b62"/><stop offset="0.112" stop-color="#08134b"/><stop offset="0.162" stop-color="#0e226c"/><stop offset="0.181" stop-color="#132b83"/><stop offset="0.225" stop-color="#18369d"/><stop offset="0.319" stop-color="#1a47b7"/><stop offset="0.356" stop-color="#1b4ac6"/><stop offset="0.425" stop-color="#205de1"/><stop offset="0.507" stop-color="#1745df"/><stop offset="0.557" stop-color="#1a4def"/><stop offset="0.576" stop-color="#2265f2"/><stop offset="0.858" stop-color="#2673f2"/><stop offset="0.876" stop-color="#1d57d8"/><stop offset="0.933" stop-color="#1a50ef"/><stop offset="0.964" stop-color="#1540d1"/><stop offset="1.002" stop-color="#0e30d9"/></linearGradient>
<linearGradient id="r38" gradientUnits="userSpaceOnUse" x1="109" y1="0" x2="751" y2="0"><stop offset="-0.001" stop-color="#12237b"/><stop offset="0.206" stop-color="#18369e"/><stop offset="0.288" stop-color="#112b81"/><stop offset="0.306" stop-color="#173a9f"/><stop offset="0.338" stop-color="#1945b8"/><stop offset="0.369" stop-color="#13369d"/><stop offset="0.375" stop-color="#0d2671"/><stop offset="0.382" stop-color="#143b9d"/><stop offset="0.388" stop-color="#1949bc"/><stop offset="0.413" stop-color="#1d55d4"/><stop offset="0.476" stop-color="#1d54e6"/><stop offset="0.494" stop-color="#1640c7"/><stop offset="0.507" stop-color="#1131a8"/><stop offset="0.519" stop-color="#1132bf"/><stop offset="0.526" stop-color="#1238da"/><stop offset="0.551" stop-color="#1d57f0"/><stop offset="0.588" stop-color="#2671f4"/><stop offset="0.726" stop-color="#2369e2"/><stop offset="0.732" stop-color="#1e59c3"/><stop offset="0.739" stop-color="#2266dc"/><stop offset="0.851" stop-color="#256eea"/><stop offset="0.864" stop-color="#1d56bf"/><stop offset="0.883" stop-color="#194ce3"/><stop offset="0.945" stop-color="#143ec2"/><stop offset="0.952" stop-color="#10319e"/><stop offset="0.964" stop-color="#0c2584"/><stop offset="0.977" stop-color="#0d28a0"/><stop offset="0.983" stop-color="#0d2cba"/><stop offset="0.989" stop-color="#0e2fd3"/><stop offset="1.002" stop-color="#0e30d9"/></linearGradient>
<linearGradient id="r39" gradientUnits="userSpaceOnUse" x1="109" y1="0" x2="751" y2="0"><stop offset="-0.001" stop-color="#12237b"/><stop offset="0.131" stop-color="#163194"/><stop offset="0.281" stop-color="#183aa6"/><stop offset="0.294" stop-color="#0d2069"/><stop offset="0.300" stop-color="#08154e"/><stop offset="0.325" stop-color="#0c216a"/><stop offset="0.369" stop-color="#09195a"/><stop offset="0.382" stop-color="#0d257b"/><stop offset="0.394" stop-color="#163eaf"/><stop offset="0.407" stop-color="#1b4fd1"/><stop offset="0.463" stop-color="#1c50da"/><stop offset="0.476" stop-color="#1640ba"/><stop offset="0.488" stop-color="#0e2a8e"/><stop offset="0.501" stop-color="#0c247e"/><stop offset="0.507" stop-color="#153fdc"/><stop offset="0.551" stop-color="#2162f2"/><stop offset="0.707" stop-color="#2060d8"/><stop offset="0.714" stop-color="#1a4db3"/><stop offset="0.739" stop-color="#153f95"/><stop offset="0.745" stop-color="#1a4eb0"/><stop offset="0.751" stop-color="#205fce"/><stop offset="0.764" stop-color="#246ce6"/><stop offset="0.845" stop-color="#1f5cc9"/><stop offset="0.852" stop-color="#194aa9"/><stop offset="0.858" stop-color="#143c8f"/><stop offset="0.952" stop-color="#0c2481"/><stop offset="0.977" stop-color="#0d2cbe"/><stop offset="0.983" stop-color="#0e2fd5"/><stop offset="1.002" stop-color="#0e30d9"/></linearGradient>
<linearGradient id="r40" gradientUnits="userSpaceOnUse" x1="109" y1="0" x2="751" y2="0"><stop offset="-0.001" stop-color="#12237b"/><stop offset="0.119" stop-color="#163396"/><stop offset="0.288" stop-color="#0f2575"/><stop offset="0.300" stop-color="#091754"/><stop offset="0.407" stop-color="#0c226d"/><stop offset="0.419" stop-color="#113293"/><stop offset="0.463" stop-color="#0c2477"/><stop offset="0.488" stop-color="#1130a6"/><stop offset="0.494" stop-color="#1641e1"/><stop offset="0.545" stop-color="#1f5cf1"/><stop offset="0.576" stop-color="#2774f4"/><stop offset="0.714" stop-color="#1e5cef"/><stop offset="0.733" stop-color="#194bc2"/><stop offset="0.739" stop-color="#10328a"/><stop offset="0.770" stop-color="#1847a3"/><stop offset="0.783" stop-color="#1d56bf"/><stop offset="0.826" stop-color="#17449e"/><stop offset="0.833" stop-color="#123685"/><stop offset="0.946" stop-color="#0a1f7c"/><stop offset="0.958" stop-color="#0d29b0"/><stop offset="0.964" stop-color="#0e2dca"/><stop offset="1.002" stop-color="#0e30d9"/></linearGradient>
<linearGradient id="r41" gradientUnits="userSpaceOnUse" x1="109" y1="0" x2="751" y2="0"><stop offset="-0.000" stop-color="#12237b"/><stop offset="0.112" stop-color="#163295"/><stop offset="0.269" stop-color="#0f2472"/><stop offset="0.275" stop-color="#0a1a59"/><stop offset="0.350" stop-color="#0b1d72"/><stop offset="0.388" stop-color="#081659"/><stop offset="0.444" stop-color="#0b2070"/><stop offset="0.476" stop-color="#143cd8"/><stop offset="0.507" stop-color="#1d54ef"/><stop offset="0.520" stop-color="#256ff3"/><stop offset="0.701" stop-color="#2062d6"/><stop offset="0.726" stop-color="#1849cc"/><stop offset="0.733" stop-color="#133ab0"/><stop offset="0.745" stop-color="#0c2682"/><stop offset="0.877" stop-color="#0e2cb1"/><stop offset="0.933" stop-color="#0e2ecb"/><stop offset="1.002" stop-color="#0e30d9"/></linearGradient>
<linearGradient id="r42" gradientUnits="userSpaceOnUse" x1="109" y1="0" x2="751" y2="0"><stop offset="-0.000" stop-color="#12237b"/><stop offset="0.125" stop-color="#163393"/><stop offset="0.225" stop-color="#0c1d61"/><stop offset="0.275" stop-color="#071349"/><stop offset="0.288" stop-color="#0c1c62"/><stop offset="0.344" stop-color="#0b1d79"/><stop offset="0.382" stop-color="#0c2290"/><stop offset="0.413" stop-color="#0a1d75"/><stop offset="0.457" stop-color="#0f2db5"/><stop offset="0.469" stop-color="#1236d0"/><stop offset="0.488" stop-color="#1a4bec"/><stop offset="0.501" stop-color="#246cf3"/><stop offset="0.682" stop-color="#246be5"/><stop offset="0.695" stop-color="#1b4fb2"/><stop offset="0.720" stop-color="#0e2b86"/><stop offset="0.739" stop-color="#1134af"/><stop offset="0.745" stop-color="#1441e5"/><stop offset="0.783" stop-color="#1339b8"/><stop offset="0.789" stop-color="#0c2682"/><stop offset="0.833" stop-color="#133bcb"/><stop offset="0.839" stop-color="#1542e7"/><stop offset="1.002" stop-color="#0e30d9"/></linearGradient>
<linearGradient id="r43" gradientUnits="userSpaceOnUse" x1="109" y1="0" x2="751" y2="0"><stop offset="-0.000" stop-color="#12237b"/><stop offset="0.106" stop-color="#0c1c61"/><stop offset="0.138" stop-color="#132d85"/><stop offset="0.156" stop-color="#18379d"/><stop offset="0.206" stop-color="#112778"/><stop offset="0.219" stop-color="#0b1a5b"/><stop offset="0.257" stop-color="#102477"/><stop offset="0.382" stop-color="#0c2290"/><stop offset="0.419" stop-color="#0d26a7"/><stop offset="0.457" stop-color="#102fc5"/><stop offset="0.476" stop-color="#1846e4"/><stop offset="0.488" stop-color="#2163f0"/><stop offset="0.657" stop-color="#2265d8"/><stop offset="0.670" stop-color="#1d56bf"/><stop offset="0.676" stop-color="#1848a5"/><stop offset="0.683" stop-color="#133888"/><stop offset="0.720" stop-color="#0c2580"/><stop offset="0.726" stop-color="#133ed0"/><stop offset="0.745" stop-color="#1646ea"/><stop offset="1.002" stop-color="#0e30d9"/></linearGradient>
<linearGradient id="r44" gradientUnits="userSpaceOnUse" x1="109" y1="0" x2="751" y2="0"><stop offset="-0.000" stop-color="#12237b"/><stop offset="0.113" stop-color="#0c1a5f"/><stop offset="0.257" stop-color="#112679"/><stop offset="0.288" stop-color="#143090"/><stop offset="0.419" stop-color="#0d26a7"/><stop offset="0.451" stop-color="#0f2dbe"/><stop offset="0.470" stop-color="#1742df"/><stop offset="0.482" stop-color="#1f5bee"/><stop offset="0.495" stop-color="#2773f3"/><stop offset="0.639" stop-color="#1f5dca"/><stop offset="0.645" stop-color="#123683"/><stop offset="0.708" stop-color="#0a217d"/><stop offset="0.714" stop-color="#0f30b5"/><stop offset="0.720" stop-color="#123bdf"/><stop offset="1.002" stop-color="#0e30d9"/></linearGradient>
<linearGradient id="r45" gradientUnits="userSpaceOnUse" x1="109" y1="0" x2="751" y2="0"><stop offset="-0.000" stop-color="#12237b"/><stop offset="0.125" stop-color="#0c1c64"/><stop offset="0.144" stop-color="#071349"/><stop offset="0.213" stop-color="#0e1d68"/><stop offset="0.238" stop-color="#132982"/><stop offset="0.250" stop-color="#173499"/><stop offset="0.294" stop-color="#183aa6"/><stop offset="0.363" stop-color="#0d228b"/><stop offset="0.413" stop-color="#0d25a4"/><stop offset="0.476" stop-color="#153cc0"/><stop offset="0.488" stop-color="#1f5dce"/><stop offset="0.501" stop-color="#256eea"/><stop offset="0.639" stop-color="#1c57cc"/><stop offset="0.651" stop-color="#10309a"/><stop offset="0.658" stop-color="#0d2682"/><stop offset="0.701" stop-color="#0c269c"/><stop offset="0.708" stop-color="#0e2ec4"/><stop offset="0.726" stop-color="#1645df"/><stop offset="0.795" stop-color="#194def"/><stop offset="0.808" stop-color="#143fd8"/><stop offset="0.833" stop-color="#1a4ef0"/><stop offset="0.902" stop-color="#133ed8"/><stop offset="1.002" stop-color="#0e30d9"/></linearGradient>
<linearGradient id="r46" gradientUnits="userSpaceOnUse" x1="109" y1="0" x2="751" y2="0"><stop offset="-0.000" stop-color="#12237b"/><stop offset="0.157" stop-color="#0d1b64"/><stop offset="0.225" stop-color="#132a83"/><stop offset="0.238" stop-color="#1937a0"/><stop offset="0.301" stop-color="#1e50bf"/><stop offset="0.351" stop-color="#1539b2"/><stop offset="0.370" stop-color="#0f2999"/><stop offset="0.438" stop-color="#0e28b2"/><stop offset="0.470" stop-color="#0f2a97"/><stop offset="0.495" stop-color="#194aa8"/><stop offset="0.507" stop-color="#2265da"/><stop offset="0.626" stop-color="#1b51b4"/><stop offset="0.639" stop-color="#123798"/><stop offset="0.683" stop-color="#0d2dbe"/><stop offset="0.695" stop-color="#0e30d5"/><stop offset="0.714" stop-color="#0d29a7"/><stop offset="0.720" stop-color="#0c258c"/><stop offset="0.733" stop-color="#1033a3"/><stop offset="0.739" stop-color="#1542d1"/><stop offset="0.783" stop-color="#184ae4"/><stop offset="0.795" stop-color="#1136af"/><stop offset="0.802" stop-color="#0d298c"/><stop offset="0.808" stop-color="#1134ba"/><stop offset="0.820" stop-color="#0d2789"/><stop offset="0.827" stop-color="#1134a7"/><stop offset="0.833" stop-color="#1644d4"/><stop offset="0.877" stop-color="#184ae4"/><stop offset="0.889" stop-color="#1135ab"/><stop offset="0.896" stop-color="#0d288b"/><stop offset="0.908" stop-color="#0c28a3"/><stop offset="0.914" stop-color="#0e2ec7"/><stop offset="1.002" stop-color="#0e30d9"/></linearGradient>
<linearGradient id="r47" gradientUnits="userSpaceOnUse" x1="109" y1="0" x2="751" y2="0"><stop offset="0.000" stop-color="#12237b"/><stop offset="0.169" stop-color="#0c1a64"/><stop offset="0.219" stop-color="#132a84"/><stop offset="0.232" stop-color="#1a39a5"/><stop offset="0.301" stop-color="#2057c6"/><stop offset="0.357" stop-color="#173ebd"/><stop offset="0.376" stop-color="#102da1"/><stop offset="0.451" stop-color="#0e29b9"/><stop offset="0.464" stop-color="#0d259b"/><stop offset="0.476" stop-color="#0b217a"/><stop offset="0.507" stop-color="#133786"/><stop offset="0.514" stop-color="#1846a1"/><stop offset="0.520" stop-color="#1d56c0"/><stop offset="0.532" stop-color="#2368df"/><stop offset="0.608" stop-color="#1b50b3"/><stop offset="0.614" stop-color="#153f94"/><stop offset="0.639" stop-color="#0d2782"/><stop offset="0.658" stop-color="#0e2eb1"/><stop offset="0.664" stop-color="#1034d8"/><stop offset="0.727" stop-color="#1032b9"/><stop offset="0.733" stop-color="#0b237f"/><stop offset="0.777" stop-color="#1033a6"/><stop offset="0.783" stop-color="#1542d0"/><stop offset="0.789" stop-color="#194cf0"/><stop offset="0.846" stop-color="#1645d9"/><stop offset="0.852" stop-color="#1238b1"/><stop offset="0.858" stop-color="#0e2b8d"/><stop offset="0.896" stop-color="#0a217e"/><stop offset="0.902" stop-color="#0e2db4"/><stop offset="0.908" stop-color="#0f32da"/><stop offset="1.002" stop-color="#0e30d9"/></linearGradient>
<linearGradient id="r48" gradientUnits="userSpaceOnUse" x1="109" y1="0" x2="751" y2="0"><stop offset="0.000" stop-color="#12237b"/><stop offset="0.169" stop-color="#0c1a64"/><stop offset="0.219" stop-color="#132981"/><stop offset="0.232" stop-color="#18359a"/><stop offset="0.301" stop-color="#1f58c4"/><stop offset="0.351" stop-color="#163cb5"/><stop offset="0.382" stop-color="#0e299b"/><stop offset="0.439" stop-color="#0e28b2"/><stop offset="0.476" stop-color="#0b2288"/><stop offset="0.545" stop-color="#133a8b"/><stop offset="0.626" stop-color="#1132a2"/><stop offset="0.639" stop-color="#1237c2"/><stop offset="0.645" stop-color="#133cdf"/><stop offset="1.002" stop-color="#0e30d9"/></linearGradient>
<linearGradient id="r49" gradientUnits="userSpaceOnUse" x1="109" y1="0" x2="751" y2="0"><stop offset="0.000" stop-color="#12237b"/><stop offset="0.169" stop-color="#0c1a64"/><stop offset="0.238" stop-color="#132b82"/><stop offset="0.251" stop-color="#18379f"/><stop offset="0.301" stop-color="#1d51ba"/><stop offset="0.345" stop-color="#14369a"/><stop offset="0.376" stop-color="#0d2483"/><stop offset="0.401" stop-color="#0d249c"/><stop offset="0.445" stop-color="#0e29b6"/><stop offset="0.501" stop-color="#0e2998"/><stop offset="0.507" stop-color="#0c227d"/><stop offset="0.539" stop-color="#1540aa"/><stop offset="0.545" stop-color="#1a4fc3"/><stop offset="0.558" stop-color="#2162e1"/><stop offset="0.620" stop-color="#194aec"/><stop offset="0.783" stop-color="#2164f4"/><stop offset="0.871" stop-color="#184bef"/><stop offset="0.971" stop-color="#1034dd"/><stop offset="1.002" stop-color="#0e30d9"/></linearGradient>
<linearGradient id="r50" gradientUnits="userSpaceOnUse" x1="109" y1="0" x2="751" y2="0"><stop offset="0.000" stop-color="#12237b"/><stop offset="0.169" stop-color="#0c1a64"/><stop offset="0.257" stop-color="#122a80"/><stop offset="0.276" stop-color="#17359a"/><stop offset="0.301" stop-color="#1b4ab3"/><stop offset="0.326" stop-color="#143894"/><stop offset="0.332" stop-color="#102c7c"/><stop offset="0.357" stop-color="#091a5e"/><stop offset="0.376" stop-color="#0b1e77"/><stop offset="0.389" stop-color="#0c2294"/><stop offset="0.426" stop-color="#0d27ab"/><stop offset="0.470" stop-color="#0f2cc4"/><stop offset="0.520" stop-color="#143ddf"/><stop offset="0.539" stop-color="#1a4def"/><stop offset="0.558" stop-color="#2266f2"/><stop offset="0.639" stop-color="#1a4ef0"/><stop offset="0.670" stop-color="#2368f3"/><stop offset="0.752" stop-color="#1a4ff1"/><stop offset="0.771" stop-color="#2369f4"/><stop offset="0.877" stop-color="#1a50f3"/><stop offset="0.983" stop-color="#1036de"/><stop offset="1.002" stop-color="#0e30d9"/></linearGradient>
<linearGradient id="r51" gradientUnits="userSpaceOnUse" x1="109" y1="0" x2="751" y2="0"><stop offset="0.000" stop-color="#12237b"/><stop offset="0.169" stop-color="#0c1a64"/><stop offset="0.238" stop-color="#071248"/><stop offset="0.364" stop-color="#0a1c6b"/><stop offset="0.376" stop-color="#0c218b"/><stop offset="0.414" stop-color="#0d25a4"/><stop offset="0.451" stop-color="#0f2dbf"/><stop offset="0.476" stop-color="#153edb"/><stop offset="0.526" stop-color="#1a4def"/><stop offset="0.539" stop-color="#2265f2"/><stop offset="0.977" stop-color="#1748ed"/><stop offset="1.002" stop-color="#0e30d9"/></linearGradient>
<linearGradient id="r52" gradientUnits="userSpaceOnUse" x1="109" y1="0" x2="751" y2="0"><stop offset="0.000" stop-color="#12237b"/><stop offset="0.088" stop-color="#163194"/><stop offset="0.144" stop-color="#112479"/><stop offset="0.182" stop-color="#0c1a62"/><stop offset="0.257" stop-color="#071246"/><stop offset="0.339" stop-color="#0a1a62"/><stop offset="0.357" stop-color="#0d2082"/><stop offset="0.401" stop-color="#0d249c"/><stop offset="0.439" stop-color="#102ebb"/><stop offset="0.458" stop-color="#1640da"/><stop offset="0.483" stop-color="#2160ef"/><stop offset="0.977" stop-color="#1747e1"/><stop offset="1.002" stop-color="#0e2fd6"/></linearGradient>
<linearGradient id="r53" gradientUnits="userSpaceOnUse" x1="109" y1="0" x2="751" y2="0"><stop offset="0.001" stop-color="#12237b"/><stop offset="0.063" stop-color="#17349a"/><stop offset="0.157" stop-color="#132881"/><stop offset="0.195" stop-color="#0e1c66"/><stop offset="0.351" stop-color="#0c1e7d"/><stop offset="0.376" stop-color="#0e2899"/><stop offset="0.401" stop-color="#1130b0"/><stop offset="0.433" stop-color="#1131bd"/><stop offset="0.445" stop-color="#163fd6"/><stop offset="0.464" stop-color="#215fed"/><stop offset="0.752" stop-color="#2269f1"/><stop offset="0.764" stop-color="#1e5ad4"/><stop offset="0.858" stop-color="#2267eb"/><stop offset="0.871" stop-color="#1a4dbf"/><stop offset="0.883" stop-color="#1b52e1"/><stop offset="0.965" stop-color="#1541be"/><stop offset="0.971" stop-color="#1133a4"/><stop offset="0.996" stop-color="#0e2dbf"/><stop offset="1.002" stop-color="#0e2fd5"/></linearGradient>
<linearGradient id="r54" gradientUnits="userSpaceOnUse" x1="109" y1="0" x2="751" y2="0"><stop offset="0.001" stop-color="#12237b"/><stop offset="0.051" stop-color="#173499"/><stop offset="0.201" stop-color="#12277e"/><stop offset="0.220" stop-color="#0d1a62"/><stop offset="0.339" stop-color="#0c1f79"/><stop offset="0.357" stop-color="#112d9c"/><stop offset="0.370" stop-color="#1437b5"/><stop offset="0.389" stop-color="#1742cd"/><stop offset="0.439" stop-color="#1741d7"/><stop offset="0.458" stop-color="#2368ef"/><stop offset="0.752" stop-color="#1c56cc"/><stop offset="0.758" stop-color="#1745b2"/><stop offset="0.764" stop-color="#0f2e83"/><stop offset="0.777" stop-color="#194dbb"/><stop offset="0.789" stop-color="#2061de"/><stop offset="0.852" stop-color="#1a51c1"/><stop offset="0.858" stop-color="#1540a0"/><stop offset="0.865" stop-color="#102f85"/><stop offset="0.896" stop-color="#143fb2"/><stop offset="0.908" stop-color="#194dd2"/><stop offset="0.946" stop-color="#143daf"/><stop offset="0.952" stop-color="#0f2f8d"/><stop offset="0.990" stop-color="#0d2aaf"/><stop offset="0.996" stop-color="#0d2fd1"/><stop offset="1.002" stop-color="#0e30d9"/></linearGradient>
<linearGradient id="r55" gradientUnits="userSpaceOnUse" x1="109" y1="0" x2="751" y2="0"><stop offset="0.001" stop-color="#12237b"/><stop offset="0.051" stop-color="#18369c"/><stop offset="0.220" stop-color="#112578"/><stop offset="0.239" stop-color="#0c185d"/><stop offset="0.307" stop-color="#0f257b"/><stop offset="0.333" stop-color="#112c92"/><stop offset="0.351" stop-color="#1538b0"/><stop offset="0.364" stop-color="#1843ca"/><stop offset="0.383" stop-color="#205ddf"/><stop offset="0.527" stop-color="#2774f4"/><stop offset="0.746" stop-color="#1b53c9"/><stop offset="0.752" stop-color="#143da6"/><stop offset="0.758" stop-color="#0d2986"/><stop offset="0.971" stop-color="#0a1f7c"/><stop offset="0.977" stop-color="#0c27a1"/><stop offset="0.984" stop-color="#0e2dc6"/><stop offset="1.002" stop-color="#0e30d9"/></linearGradient>
<linearGradient id="r56" gradientUnits="userSpaceOnUse" x1="109" y1="0" x2="751" y2="0"><stop offset="0.001" stop-color="#12237b"/><stop offset="0.063" stop-color="#173598"/><stop offset="0.226" stop-color="#122880"/><stop offset="0.239" stop-color="#0d1c65"/><stop offset="0.283" stop-color="#112981"/><stop offset="0.301" stop-color="#16379f"/><stop offset="0.326" stop-color="#183eb6"/><stop offset="0.358" stop-color="#1e55d4"/><stop offset="0.426" stop-color="#2368eb"/><stop offset="0.458" stop-color="#2161d4"/><stop offset="0.470" stop-color="#2670ec"/><stop offset="0.746" stop-color="#1b53dd"/><stop offset="0.764" stop-color="#1239c7"/><stop offset="0.771" stop-color="#0c2384"/><stop offset="0.877" stop-color="#0c28a5"/><stop offset="0.890" stop-color="#0b228d"/><stop offset="0.946" stop-color="#0a1f7c"/><stop offset="0.959" stop-color="#0c29ac"/><stop offset="0.965" stop-color="#0d2dc5"/><stop offset="1.002" stop-color="#0e30d9"/></linearGradient>
<linearGradient id="r57" gradientUnits="userSpaceOnUse" x1="109" y1="0" x2="751" y2="0"><stop offset="0.001" stop-color="#12237b"/><stop offset="0.045" stop-color="#0c1b61"/><stop offset="0.076" stop-color="#122c82"/><stop offset="0.089" stop-color="#17369c"/><stop offset="0.233" stop-color="#12267c"/><stop offset="0.245" stop-color="#0c1a61"/><stop offset="0.264" stop-color="#11277d"/><stop offset="0.276" stop-color="#173499"/><stop offset="0.295" stop-color="#183aa6"/><stop offset="0.301" stop-color="#1e51c0"/><stop offset="0.358" stop-color="#2161dc"/><stop offset="0.464" stop-color="#1e57c0"/><stop offset="0.477" stop-color="#246be3"/><stop offset="0.577" stop-color="#1d57c1"/><stop offset="0.589" stop-color="#2266dd"/><stop offset="0.739" stop-color="#1848b8"/><stop offset="0.758" stop-color="#0f2fa3"/><stop offset="0.777" stop-color="#0d2bb7"/><stop offset="0.783" stop-color="#0c279f"/><stop offset="0.796" stop-color="#0a207f"/><stop offset="0.846" stop-color="#0c269d"/><stop offset="0.858" stop-color="#0d2dbe"/><stop offset="0.871" stop-color="#0e2fd5"/><stop offset="1.002" stop-color="#0e30d9"/></linearGradient>
<linearGradient id="r58" gradientUnits="userSpaceOnUse" x1="109" y1="0" x2="751" y2="0"><stop offset="0.001" stop-color="#12237b"/><stop offset="0.051" stop-color="#0d1b61"/><stop offset="0.064" stop-color="#08134a"/><stop offset="0.082" stop-color="#0e226c"/><stop offset="0.089" stop-color="#15308e"/><stop offset="0.107" stop-color="#193ba5"/><stop offset="0.233" stop-color="#142b85"/><stop offset="0.270" stop-color="#1939a4"/><stop offset="0.301" stop-color="#2058c7"/><stop offset="0.370" stop-color="#2265df"/><stop offset="0.470" stop-color="#16429f"/><stop offset="0.489" stop-color="#1d57c0"/><stop offset="0.502" stop-color="#2264d9"/><stop offset="0.552" stop-color="#1d57bf"/><stop offset="0.558" stop-color="#1949a7"/><stop offset="0.564" stop-color="#133989"/><stop offset="0.639" stop-color="#1849b2"/><stop offset="0.646" stop-color="#1d58cd"/><stop offset="0.727" stop-color="#143b97"/><stop offset="0.752" stop-color="#0c247f"/><stop offset="0.765" stop-color="#0c28a0"/><stop offset="0.771" stop-color="#0d2bb9"/><stop offset="0.777" stop-color="#0e2fd1"/><stop offset="1.002" stop-color="#0e30d9"/></linearGradient>
<linearGradient id="r59" gradientUnits="userSpaceOnUse" x1="109" y1="0" x2="751" y2="0"><stop offset="0.001" stop-color="#12237b"/><stop offset="0.114" stop-color="#17369b"/><stop offset="0.208" stop-color="#102676"/><stop offset="0.214" stop-color="#1a39a4"/><stop offset="0.301" stop-color="#215ccb"/><stop offset="0.439" stop-color="#2264e2"/><stop offset="0.464" stop-color="#1948b9"/><stop offset="0.470" stop-color="#194bd7"/><stop offset="0.483" stop-color="#153ea6"/><stop offset="0.489" stop-color="#10307f"/><stop offset="0.577" stop-color="#133abf"/><stop offset="0.589" stop-color="#0e298b"/><stop offset="0.758" stop-color="#0c27a3"/><stop offset="0.765" stop-color="#0e2dc3"/><stop offset="0.871" stop-color="#1034db"/><stop offset="1.002" stop-color="#0e30d9"/></linearGradient>
<linearGradient id="r60" gradientUnits="userSpaceOnUse" x1="109" y1="0" x2="751" y2="0"><stop offset="0.001" stop-color="#12237b"/><stop offset="0.083" stop-color="#0b1a5e"/><stop offset="0.108" stop-color="#091751"/><stop offset="0.120" stop-color="#0e226b"/><stop offset="0.133" stop-color="#142e87"/><stop offset="0.189" stop-color="#0d2067"/><stop offset="0.201" stop-color="#0a1957"/><stop offset="0.208" stop-color="#1937a0"/><stop offset="0.302" stop-color="#2058c4"/><stop offset="0.427" stop-color="#2060db"/><stop offset="0.445" stop-color="#1a4cba"/><stop offset="0.464" stop-color="#1b4fe9"/><stop offset="0.502" stop-color="#102e98"/><stop offset="0.508" stop-color="#0d2681"/><stop offset="0.533" stop-color="#10309e"/><stop offset="0.539" stop-color="#1743d5"/><stop offset="0.546" stop-color="#194aec"/><stop offset="0.633" stop-color="#0a217c"/><stop offset="0.746" stop-color="#0d29ad"/><stop offset="0.752" stop-color="#0e2ec6"/><stop offset="0.852" stop-color="#1137dd"/><stop offset="0.884" stop-color="#194ef1"/><stop offset="0.977" stop-color="#1034dc"/><stop offset="1.002" stop-color="#0e30d9"/></linearGradient>
<linearGradient id="r61" gradientUnits="userSpaceOnUse" x1="109" y1="0" x2="751" y2="0"><stop offset="0.001" stop-color="#12237b"/><stop offset="0.089" stop-color="#0c1b62"/><stop offset="0.101" stop-color="#07134a"/><stop offset="0.189" stop-color="#0f226d"/><stop offset="0.195" stop-color="#142c87"/><stop offset="0.208" stop-color="#163191"/><stop offset="0.270" stop-color="#1838a2"/><stop offset="0.283" stop-color="#122c84"/><stop offset="0.295" stop-color="#17379e"/><stop offset="0.302" stop-color="#1e53bd"/><stop offset="0.383" stop-color="#0e2b76"/><stop offset="0.421" stop-color="#13378e"/><stop offset="0.439" stop-color="#1846b8"/><stop offset="0.446" stop-color="#1a4cd4"/><stop offset="0.508" stop-color="#1135c8"/><stop offset="0.527" stop-color="#1541e3"/><stop offset="0.640" stop-color="#1033d7"/><stop offset="0.646" stop-color="#0f2dbb"/><stop offset="0.652" stop-color="#0b238d"/><stop offset="0.702" stop-color="#0a1f7b"/><stop offset="0.715" stop-color="#0c269b"/><stop offset="0.727" stop-color="#0d2cbf"/><stop offset="0.746" stop-color="#0e30d6"/><stop offset="0.859" stop-color="#1749ed"/><stop offset="0.996" stop-color="#0e30d9"/><stop offset="1.002" stop-color="#0e30d9"/></linearGradient>
<linearGradient id="r62" gradientUnits="userSpaceOnUse" x1="109" y1="0" x2="751" y2="0"><stop offset="0.001" stop-color="#12237b"/><stop offset="0.108" stop-color="#0c1b62"/><stop offset="0.126" stop-color="#071248"/><stop offset="0.145" stop-color="#0c1c60"/><stop offset="0.152" stop-color="#112779"/><stop offset="0.158" stop-color="#153090"/><stop offset="0.289" stop-color="#0a1957"/><stop offset="0.302" stop-color="#133586"/><stop offset="0.314" stop-color="#1844a5"/><stop offset="0.364" stop-color="#0f2c7c"/><stop offset="0.377" stop-color="#091b5d"/><stop offset="0.421" stop-color="#1234a5"/><stop offset="0.427" stop-color="#1640c7"/><stop offset="0.477" stop-color="#1845d9"/><stop offset="0.483" stop-color="#153dc2"/><stop offset="0.489" stop-color="#102e98"/><stop offset="0.496" stop-color="#0c2581"/><stop offset="0.508" stop-color="#1238d9"/><stop offset="0.577" stop-color="#1a4ef0"/><stop offset="0.640" stop-color="#1137db"/><stop offset="0.865" stop-color="#194eed"/><stop offset="0.990" stop-color="#0f34d5"/><stop offset="1.003" stop-color="#0e30d9"/></linearGradient>
<linearGradient id="r63" gradientUnits="userSpaceOnUse" x1="109" y1="0" x2="751" y2="0"><stop offset="0.001" stop-color="#12237b"/><stop offset="0.158" stop-color="#163192"/><stop offset="0.252" stop-color="#193aa5"/><stop offset="0.258" stop-color="#132e89"/><stop offset="0.264" stop-color="#0c1f64"/><stop offset="0.283" stop-color="#08144c"/><stop offset="0.333" stop-color="#0c2268"/><stop offset="0.339" stop-color="#102c7f"/><stop offset="0.352" stop-color="#1539a8"/><stop offset="0.358" stop-color="#1740bf"/><stop offset="0.414" stop-color="#091a62"/><stop offset="0.433" stop-color="#0b1f6d"/><stop offset="0.446" stop-color="#0f298a"/><stop offset="0.489" stop-color="#0b227a"/><stop offset="0.496" stop-color="#0d2793"/><stop offset="0.502" stop-color="#1236d6"/><stop offset="0.527" stop-color="#1a4ced"/><stop offset="0.646" stop-color="#1034d6"/><stop offset="0.834" stop-color="#0e2dbc"/><stop offset="0.846" stop-color="#0d2997"/><stop offset="0.865" stop-color="#1237af"/><stop offset="0.871" stop-color="#1643d0"/><stop offset="0.940" stop-color="#194ce7"/><stop offset="0.959" stop-color="#133bb9"/><stop offset="0.965" stop-color="#10319f"/><stop offset="0.978" stop-color="#0d2996"/><stop offset="0.990" stop-color="#0d2bb6"/><stop offset="0.996" stop-color="#0e2ece"/><stop offset="1.003" stop-color="#0e30d9"/></linearGradient>
<linearGradient id="r64" gradientUnits="userSpaceOnUse" x1="109" y1="0" x2="751" y2="0"><stop offset="0.002" stop-color="#12237b"/><stop offset="0.145" stop-color="#163295"/><stop offset="0.283" stop-color="#0e2271"/><stop offset="0.308" stop-color="#112b88"/><stop offset="0.327" stop-color="#1535a3"/><stop offset="0.346" stop-color="#1840be"/><stop offset="0.427" stop-color="#0e2997"/><stop offset="0.433" stop-color="#0a1b67"/><stop offset="0.458" stop-color="#102d9a"/><stop offset="0.465" stop-color="#153bc8"/><stop offset="0.515" stop-color="#1743e5"/><stop offset="0.527" stop-color="#153fc9"/><stop offset="0.533" stop-color="#1848e2"/><stop offset="0.621" stop-color="#1640ca"/><stop offset="0.633" stop-color="#1541e1"/><stop offset="0.840" stop-color="#0d2bb7"/><stop offset="0.846" stop-color="#0b2491"/><stop offset="0.884" stop-color="#0d2783"/><stop offset="0.890" stop-color="#10319d"/><stop offset="0.902" stop-color="#133bba"/><stop offset="0.934" stop-color="#1133a3"/><stop offset="0.940" stop-color="#0e2a8b"/><stop offset="0.984" stop-color="#0d29ad"/><stop offset="0.990" stop-color="#0e2ece"/><stop offset="1.003" stop-color="#0e30d9"/></linearGradient>
<linearGradient id="r65" gradientUnits="userSpaceOnUse" x1="109" y1="0" x2="751" y2="0"><stop offset="0.002" stop-color="#12237b"/><stop offset="0.139" stop-color="#173397"/><stop offset="0.264" stop-color="#1939a4"/><stop offset="0.277" stop-color="#122a83"/><stop offset="0.289" stop-color="#0e2170"/><stop offset="0.302" stop-color="#132f8e"/><stop offset="0.314" stop-color="#183cae"/><stop offset="0.333" stop-color="#1d51c9"/><stop offset="0.421" stop-color="#1337c3"/><stop offset="0.465" stop-color="#1640dc"/><stop offset="0.852" stop-color="#0d2cbd"/><stop offset="0.859" stop-color="#0c269d"/><stop offset="0.865" stop-color="#0a1f7c"/><stop offset="0.965" stop-color="#0b2493"/><stop offset="0.971" stop-color="#0d2bb6"/><stop offset="0.978" stop-color="#0e2ecf"/><stop offset="1.003" stop-color="#0e30d9"/></linearGradient>
<linearGradient id="r66" gradientUnits="userSpaceOnUse" x1="109" y1="0" x2="751" y2="0"><stop offset="0.002" stop-color="#12237b"/><stop offset="0.146" stop-color="#173598"/><stop offset="0.277" stop-color="#11287d"/><stop offset="0.296" stop-color="#153397"/><stop offset="0.308" stop-color="#1a44b4"/><stop offset="0.327" stop-color="#1f55cb"/><stop offset="0.427" stop-color="#153ccc"/><stop offset="0.452" stop-color="#1a4ae6"/><stop offset="0.471" stop-color="#2366ef"/><stop offset="0.546" stop-color="#1a4def"/><stop offset="0.665" stop-color="#0f33d7"/><stop offset="0.884" stop-color="#0d2bb8"/><stop offset="0.896" stop-color="#0c269e"/><stop offset="0.940" stop-color="#0d2ab5"/><stop offset="0.953" stop-color="#0e2fcf"/><stop offset="1.003" stop-color="#0e30d9"/></linearGradient>
<linearGradient id="r67" gradientUnits="userSpaceOnUse" x1="109" y1="0" x2="751" y2="0"><stop offset="0.002" stop-color="#12237b"/><stop offset="0.164" stop-color="#18379d"/><stop offset="0.258" stop-color="#11297d"/><stop offset="0.277" stop-color="#0d2068"/><stop offset="0.283" stop-color="#122a83"/><stop offset="0.296" stop-color="#183aa5"/><stop offset="0.308" stop-color="#1e50c0"/><stop offset="0.346" stop-color="#2161da"/><stop offset="0.421" stop-color="#1948dc"/><stop offset="0.446" stop-color="#2262ec"/><stop offset="0.646" stop-color="#194bed"/><stop offset="0.784" stop-color="#0f33d9"/><stop offset="1.003" stop-color="#0e30d9"/></linearGradient>
<linearGradient id="r68" gradientUnits="userSpaceOnUse" x1="109" y1="0" x2="751" y2="0"><stop offset="0.002" stop-color="#12237b"/><stop offset="0.183" stop-color="#163393"/><stop offset="0.240" stop-color="#102575"/><stop offset="0.252" stop-color="#0a1958"/><stop offset="0.283" stop-color="#0f2475"/><stop offset="0.296" stop-color="#14308e"/><stop offset="0.308" stop-color="#1c4cb7"/><stop offset="0.340" stop-color="#1f5ace"/><stop offset="0.408" stop-color="#1e55d9"/><stop offset="0.440" stop-color="#256cee"/><stop offset="0.571" stop-color="#1c53f0"/><stop offset="0.796" stop-color="#1137dc"/><stop offset="1.003" stop-color="#0e30d9"/></linearGradient>
<linearGradient id="r69" gradientUnits="userSpaceOnUse" x1="109" y1="0" x2="751" y2="0"><stop offset="0.002" stop-color="#12237b"/><stop offset="0.152" stop-color="#163294"/><stop offset="0.265" stop-color="#0f2272"/><stop offset="0.308" stop-color="#13348a"/><stop offset="0.315" stop-color="#1942a6"/><stop offset="0.327" stop-color="#1d52c3"/><stop offset="0.396" stop-color="#1d54d2"/><stop offset="0.409" stop-color="#153ca4"/><stop offset="0.421" stop-color="#1948dc"/><stop offset="0.434" stop-color="#246bed"/><stop offset="0.577" stop-color="#1a4de1"/><stop offset="0.652" stop-color="#2164f3"/><stop offset="0.790" stop-color="#184bee"/><stop offset="0.846" stop-color="#1034da"/><stop offset="1.003" stop-color="#0e30d9"/></linearGradient>
<linearGradient id="r70" gradientUnits="userSpaceOnUse" x1="109" y1="0" x2="751" y2="0"><stop offset="0.002" stop-color="#12237b"/><stop offset="0.140" stop-color="#17349a"/><stop offset="0.258" stop-color="#122982"/><stop offset="0.271" stop-color="#0d1d66"/><stop offset="0.302" stop-color="#08154d"/><stop offset="0.321" stop-color="#0d2368"/><stop offset="0.327" stop-color="#112f81"/><stop offset="0.340" stop-color="#1742a7"/><stop offset="0.390" stop-color="#12348f"/><stop offset="0.396" stop-color="#0e2776"/><stop offset="0.409" stop-color="#0a1d65"/><stop offset="0.415" stop-color="#102f9d"/><stop offset="0.421" stop-color="#143ab6"/><stop offset="0.434" stop-color="#205dd0"/><stop offset="0.446" stop-color="#266fec"/><stop offset="0.565" stop-color="#1f5cd3"/><stop offset="0.577" stop-color="#143cbb"/><stop offset="0.621" stop-color="#1a4ef0"/><stop offset="0.640" stop-color="#2570f4"/><stop offset="0.759" stop-color="#1c56f2"/><stop offset="0.859" stop-color="#143fe4"/><stop offset="1.003" stop-color="#0e30d9"/></linearGradient>
<linearGradient id="r71" gradientUnits="userSpaceOnUse" x1="109" y1="0" x2="751" y2="0"><stop offset="0.002" stop-color="#12237b"/><stop offset="0.133" stop-color="#18369e"/><stop offset="0.265" stop-color="#122a83"/><stop offset="0.277" stop-color="#0c1c65"/><stop offset="0.309" stop-color="#071349"/><stop offset="0.390" stop-color="#091b60"/><stop offset="0.415" stop-color="#0d2788"/><stop offset="0.440" stop-color="#1a4eb0"/><stop offset="0.446" stop-color="#205fcd"/><stop offset="0.459" stop-color="#256de6"/><stop offset="0.552" stop-color="#1f5dcb"/><stop offset="0.559" stop-color="#194caf"/><stop offset="0.571" stop-color="#102e94"/><stop offset="0.603" stop-color="#0d2783"/><stop offset="0.609" stop-color="#1849e7"/><stop offset="0.628" stop-color="#246bf4"/><stop offset="0.771" stop-color="#1b54f2"/><stop offset="0.790" stop-color="#246df5"/><stop offset="0.859" stop-color="#1a50f3"/><stop offset="0.978" stop-color="#1138e0"/><stop offset="1.003" stop-color="#0e30d9"/></linearGradient>
<linearGradient id="r72" gradientUnits="userSpaceOnUse" x1="109" y1="0" x2="751" y2="0"><stop offset="0.002" stop-color="#12237b"/><stop offset="0.134" stop-color="#163395"/><stop offset="0.271" stop-color="#102578"/><stop offset="0.284" stop-color="#0b195e"/><stop offset="0.315" stop-color="#0d2175"/><stop offset="0.334" stop-color="#112d95"/><stop offset="0.359" stop-color="#1436ae"/><stop offset="0.377" stop-color="#102c96"/><stop offset="0.390" stop-color="#0c217c"/><stop offset="0.452" stop-color="#143c8e"/><stop offset="0.459" stop-color="#1a4dad"/><stop offset="0.465" stop-color="#1f5ac5"/><stop offset="0.477" stop-color="#2367dc"/><stop offset="0.534" stop-color="#1e59c3"/><stop offset="0.540" stop-color="#194aa8"/><stop offset="0.546" stop-color="#13398a"/><stop offset="0.578" stop-color="#0b227d"/><stop offset="0.584" stop-color="#0c2694"/><stop offset="0.590" stop-color="#1134c7"/><stop offset="0.603" stop-color="#1642e5"/><stop offset="0.621" stop-color="#2267f3"/><stop offset="0.878" stop-color="#1a50f3"/><stop offset="0.990" stop-color="#1136de"/><stop offset="1.003" stop-color="#0e30d9"/></linearGradient>
<linearGradient id="r73" gradientUnits="userSpaceOnUse" x1="109" y1="0" x2="751" y2="0"><stop offset="0.002" stop-color="#12237b"/><stop offset="0.152" stop-color="#17369a"/><stop offset="0.246" stop-color="#122b81"/><stop offset="0.259" stop-color="#163295"/><stop offset="0.271" stop-color="#102578"/><stop offset="0.309" stop-color="#132f90"/><stop offset="0.327" stop-color="#1638aa"/><stop offset="0.428" stop-color="#1337c4"/><stop offset="0.440" stop-color="#1844db"/><stop offset="0.453" stop-color="#163fb6"/><stop offset="0.459" stop-color="#11328a"/><stop offset="0.571" stop-color="#0a1f7a"/><stop offset="0.578" stop-color="#0e2db5"/><stop offset="0.584" stop-color="#1033d5"/><stop offset="0.609" stop-color="#1a4def"/><stop offset="0.621" stop-color="#2267f3"/><stop offset="0.890" stop-color="#1a50f3"/><stop offset="0.990" stop-color="#1139db"/><stop offset="1.003" stop-color="#0e30d8"/></linearGradient>
<linearGradient id="r74" gradientUnits="userSpaceOnUse" x1="109" y1="0" x2="751" y2="0"><stop offset="0.002" stop-color="#12237b"/><stop offset="0.140" stop-color="#0a1956"/><stop offset="0.159" stop-color="#0f2472"/><stop offset="0.171" stop-color="#153190"/><stop offset="0.234" stop-color="#0f236f"/><stop offset="0.240" stop-color="#14308d"/><stop offset="0.303" stop-color="#183aa6"/><stop offset="0.340" stop-color="#1840bd"/><stop offset="0.421" stop-color="#1844d6"/><stop offset="0.478" stop-color="#1a4bea"/><stop offset="0.484" stop-color="#153ec5"/><stop offset="0.490" stop-color="#0e2986"/><stop offset="0.553" stop-color="#0a1f7a"/><stop offset="0.565" stop-color="#0f30c8"/><stop offset="0.590" stop-color="#1540e2"/><stop offset="0.609" stop-color="#1f5df2"/><stop offset="0.628" stop-color="#2774f4"/><stop offset="0.890" stop-color="#1f5df4"/><stop offset="0.959" stop-color="#194be7"/><stop offset="0.972" stop-color="#1236ad"/><stop offset="0.984" stop-color="#0d2a99"/><stop offset="0.997" stop-color="#0e2dbe"/><stop offset="1.003" stop-color="#0e2fd6"/></linearGradient>
<linearGradient id="r75" gradientUnits="userSpaceOnUse" x1="109" y1="0" x2="751" y2="0"><stop offset="0.002" stop-color="#12237b"/><stop offset="0.153" stop-color="#173498"/><stop offset="0.178" stop-color="#0f226d"/><stop offset="0.184" stop-color="#0a1854"/><stop offset="0.228" stop-color="#132c86"/><stop offset="0.234" stop-color="#18369d"/><stop offset="0.321" stop-color="#1942b8"/><stop offset="0.378" stop-color="#1845cf"/><stop offset="0.453" stop-color="#1a4ce6"/><stop offset="0.509" stop-color="#0f2fb2"/><stop offset="0.515" stop-color="#0b207f"/><stop offset="0.540" stop-color="#0c28a7"/><stop offset="0.546" stop-color="#0e2fcb"/><stop offset="0.584" stop-color="#1540e2"/><stop offset="0.609" stop-color="#2368f3"/><stop offset="0.734" stop-color="#2265da"/><stop offset="0.759" stop-color="#2672f2"/><stop offset="0.890" stop-color="#1e5ade"/><stop offset="0.903" stop-color="#0e2b8d"/><stop offset="0.909" stop-color="#1135aa"/><stop offset="0.922" stop-color="#1540c6"/><stop offset="0.947" stop-color="#1237ae"/><stop offset="0.953" stop-color="#0f2d93"/><stop offset="0.990" stop-color="#0d2aaf"/><stop offset="0.997" stop-color="#0e2fd1"/><stop offset="1.003" stop-color="#0e30d9"/></linearGradient>
<linearGradient id="r76" gradientUnits="userSpaceOnUse" x1="109" y1="0" x2="751" y2="0"><stop offset="0.003" stop-color="#12237b"/><stop offset="0.090" stop-color="#163397"/><stop offset="0.209" stop-color="#0f226d"/><stop offset="0.228" stop-color="#132c86"/><stop offset="0.240" stop-color="#1738a0"/><stop offset="0.321" stop-color="#1b45ba"/><stop offset="0.403" stop-color="#1945d5"/><stop offset="0.521" stop-color="#0e2ecf"/><stop offset="0.571" stop-color="#1745e7"/><stop offset="0.584" stop-color="#1a4ff0"/><stop offset="0.597" stop-color="#2267f3"/><stop offset="0.753" stop-color="#2061d2"/><stop offset="0.759" stop-color="#256de9"/><stop offset="0.878" stop-color="#1f5bc7"/><stop offset="0.890" stop-color="#153ead"/><stop offset="0.909" stop-color="#0c2681"/><stop offset="0.978" stop-color="#0c28aa"/><stop offset="0.984" stop-color="#0e2ecb"/><stop offset="1.003" stop-color="#0e30d9"/></linearGradient>
<linearGradient id="r77" gradientUnits="userSpaceOnUse" x1="109" y1="0" x2="751" y2="0"><stop offset="0.003" stop-color="#12237b"/><stop offset="0.071" stop-color="#163295"/><stop offset="0.209" stop-color="#12277e"/><stop offset="0.221" stop-color="#0c1b5f"/><stop offset="0.240" stop-color="#11287c"/><stop offset="0.253" stop-color="#17349a"/><stop offset="0.321" stop-color="#1841b2"/><stop offset="0.378" stop-color="#1742c6"/><stop offset="0.390" stop-color="#1334a3"/><stop offset="0.409" stop-color="#163fc2"/><stop offset="0.459" stop-color="#1a49d9"/><stop offset="0.490" stop-color="#1233a8"/><stop offset="0.503" stop-color="#0e2a9b"/><stop offset="0.515" stop-color="#0d2bbb"/><stop offset="0.540" stop-color="#1032d4"/><stop offset="0.565" stop-color="#194bed"/><stop offset="0.578" stop-color="#2265f3"/><stop offset="0.753" stop-color="#2774f5"/><stop offset="0.759" stop-color="#2162d5"/><stop offset="0.865" stop-color="#1b51b6"/><stop offset="0.872" stop-color="#16429a"/><stop offset="0.884" stop-color="#0f2d83"/><stop offset="0.909" stop-color="#0d29a2"/><stop offset="0.922" stop-color="#0a2084"/><stop offset="0.947" stop-color="#0c269c"/><stop offset="0.959" stop-color="#0d2cc1"/><stop offset="0.972" stop-color="#0e30d9"/><stop offset="1.003" stop-color="#0e30d9"/></linearGradient>
<linearGradient id="r78" gradientUnits="userSpaceOnUse" x1="109" y1="0" x2="751" y2="0"><stop offset="0.003" stop-color="#12237b"/><stop offset="0.065" stop-color="#173499"/><stop offset="0.215" stop-color="#11267b"/><stop offset="0.228" stop-color="#0a1856"/><stop offset="0.284" stop-color="#08144c"/><stop offset="0.297" stop-color="#0d216a"/><stop offset="0.309" stop-color="#133191"/><stop offset="0.322" stop-color="#173ba9"/><stop offset="0.359" stop-color="#1842c1"/><stop offset="0.409" stop-color="#1233a2"/><stop offset="0.415" stop-color="#0c2274"/><stop offset="0.422" stop-color="#102e95"/><stop offset="0.428" stop-color="#1336ac"/><stop offset="0.447" stop-color="#1640c5"/><stop offset="0.465" stop-color="#1336ad"/><stop offset="0.472" stop-color="#0f2c92"/><stop offset="0.478" stop-color="#0c237a"/><stop offset="0.503" stop-color="#0d269b"/><stop offset="0.509" stop-color="#1031d2"/><stop offset="0.559" stop-color="#1a4def"/><stop offset="0.572" stop-color="#246bf3"/><stop offset="0.772" stop-color="#2162d3"/><stop offset="0.784" stop-color="#1b4fb3"/><stop offset="0.809" stop-color="#1f5dcb"/><stop offset="0.840" stop-color="#194baa"/><stop offset="0.847" stop-color="#153e93"/><stop offset="0.878" stop-color="#0d2783"/><stop offset="0.903" stop-color="#0c289f"/><stop offset="0.909" stop-color="#0d2bb7"/><stop offset="0.915" stop-color="#0d2fd0"/><stop offset="1.003" stop-color="#0e30d9"/></linearGradient>
<linearGradient id="r79" gradientUnits="userSpaceOnUse" x1="109" y1="0" x2="751" y2="0"><stop offset="0.003" stop-color="#12237b"/><stop offset="0.072" stop-color="#18379c"/><stop offset="0.209" stop-color="#11277b"/><stop offset="0.228" stop-color="#0b195e"/><stop offset="0.303" stop-color="#081650"/><stop offset="0.315" stop-color="#0f2677"/><stop offset="0.322" stop-color="#133194"/><stop offset="0.328" stop-color="#173aad"/><stop offset="0.353" stop-color="#1842c4"/><stop offset="0.428" stop-color="#1132a5"/><stop offset="0.434" stop-color="#0b1f6d"/><stop offset="0.490" stop-color="#102fb9"/><stop offset="0.497" stop-color="#1032d2"/><stop offset="0.559" stop-color="#1a4ee9"/><stop offset="0.572" stop-color="#2570f1"/><stop offset="0.797" stop-color="#1b51b6"/><stop offset="0.803" stop-color="#123684"/><stop offset="0.847" stop-color="#143da0"/><stop offset="0.853" stop-color="#1642b8"/><stop offset="0.859" stop-color="#1645d5"/><stop offset="0.865" stop-color="#194ef1"/><stop offset="0.897" stop-color="#1035dd"/><stop offset="1.003" stop-color="#0e30d9"/></linearGradient>
<linearGradient id="r80" gradientUnits="userSpaceOnUse" x1="109" y1="0" x2="751" y2="0"><stop offset="0.003" stop-color="#12237b"/><stop offset="0.222" stop-color="#0c1b61"/><stop offset="0.303" stop-color="#0f2579"/><stop offset="0.315" stop-color="#14339b"/><stop offset="0.372" stop-color="#153fb2"/><stop offset="0.422" stop-color="#1742d0"/><stop offset="0.447" stop-color="#102eb0"/><stop offset="0.478" stop-color="#0f2ec7"/><stop offset="0.503" stop-color="#143ddf"/><stop offset="0.559" stop-color="#1134a8"/><stop offset="0.578" stop-color="#1a4dae"/><stop offset="0.797" stop-color="#12369b"/><stop offset="0.803" stop-color="#143ec1"/><stop offset="0.891" stop-color="#133fd8"/><stop offset="1.003" stop-color="#0e30d9"/></linearGradient>
<linearGradient id="r81" gradientUnits="userSpaceOnUse" x1="109" y1="0" x2="751" y2="0"><stop offset="0.003" stop-color="#12237b"/><stop offset="0.215" stop-color="#0c1b63"/><stop offset="0.309" stop-color="#0f277d"/><stop offset="0.365" stop-color="#113097"/><stop offset="0.434" stop-color="#1232af"/><stop offset="0.478" stop-color="#0f2ec7"/><stop offset="0.566" stop-color="#1031a1"/><stop offset="0.784" stop-color="#0f2f98"/><stop offset="0.797" stop-color="#1236b6"/><stop offset="0.909" stop-color="#0e31d0"/><stop offset="1.003" stop-color="#0e30d9"/></linearGradient>
<linearGradient id="r82" gradientUnits="userSpaceOnUse" x1="109" y1="0" x2="751" y2="0"><stop offset="0.003" stop-color="#12237b"/><stop offset="0.209" stop-color="#0c1a61"/><stop offset="0.316" stop-color="#0e2479"/><stop offset="0.359" stop-color="#0f2a91"/><stop offset="0.422" stop-color="#102ea9"/><stop offset="0.466" stop-color="#0e2bc0"/><stop offset="0.909" stop-color="#0e30d7"/><stop offset="1.003" stop-color="#0e30d9"/></linearGradient>
<linearGradient id="r83" gradientUnits="userSpaceOnUse" x1="109" y1="0" x2="751" y2="0"><stop offset="0.003" stop-color="#12237b"/><stop offset="0.172" stop-color="#0c1a64"/><stop offset="0.353" stop-color="#0c1e7e"/><stop offset="0.391" stop-color="#0d2396"/><stop offset="0.428" stop-color="#0d27ad"/><stop offset="0.478" stop-color="#0e2cc5"/><stop offset="1.003" stop-color="#0e30d9"/></linearGradient>
</defs>
<g stroke="#b2b2b2" stroke-width="1" stroke-dasharray="1.2,1.6" fill="none">
<line x1="109" y1="170.5" x2="745.5" y2="170.5"/>
<line x1="109" y1="206.5" x2="745.5" y2="206.5"/>
<line x1="109" y1="242.5" x2="745.5" y2="242.5"/>
<line x1="109" y1="279" x2="745.5" y2="279"/>
<line x1="179.7" y1="170.5" x2="179.7" y2="290"/>
<line x1="250.3" y1="170.5" x2="250.3" y2="290"/>
<line x1="321" y1="170.5" x2="321" y2="290"/>
<line x1="391.6" y1="170.5" x2="391.6" y2="290"/>
<line x1="462.2" y1="170.5" x2="462.2" y2="290"/>
<line x1="532.9" y1="170.5" x2="532.9" y2="290"/>
<line x1="603.6" y1="170.5" x2="603.6" y2="290"/>
<line x1="674.2" y1="170.5" x2="674.2" y2="290"/>
<line x1="744.9" y1="170.5" x2="744.9" y2="290"/>
</g>
<line x1="108.7" y1="150" x2="108.7" y2="281" stroke="#222" stroke-width="1"/>
<g clip-path="url(#oc)">
<path d="M106.5,281.5 178.6,277.8 214.7,282.1 246.7,288.5 254.7,289.3 278.8,285.6 326.8,281.9 411,278.2 451,274.3 543.2,276.9 751.5,274.5 L751.5,566 L106.5,566Z" fill="url(#r0)"/>
<path d="M106.5,281.5 178.6,277.8 214.7,282.1 246.7,288.5 254.7,289.3 278.8,285.6 326.8,281.9 411,278.2 451,274.3 543.2,276.9 751.5,274.5" class="ml"/>
<path d="M463,217 L470,217 L476.2,273 L482.1,281.7 L467.8,283.5 L449.9,282.3 L455.9,273Z" fill="#33a0ee" class="pk"/><path d="M466.5,217 L470,217 L476.2,273 L482.1,281.7 L467.8,283.5Z" fill="#2a80e6" class="pk"/>
<path d="M106.6,284.7 178.7,281 214.7,285.3 246.8,291.7 254.8,292.5 278.8,288.9 326.9,285.1 366.9,284 387,282.1 407,281.8 439.1,278.6 451.1,276.3 479.1,277.2 495.1,279.2 547.2,280.1 751.5,277.8 L751.5,566 L106.6,566Z" fill="url(#r1)"/>
<path d="M106.6,284.7 178.7,281 214.7,285.3 246.8,291.7 254.8,292.5 278.8,288.9 326.9,285.1 366.9,284 387,282.1 407,281.8 439.1,278.6 451.1,276.3 479.1,277.2 495.1,279.2 547.2,280.1 751.5,277.8" class="ml"/>
<path d="M106.6,288 178.7,284.3 214.8,288.6 246.8,295 254.8,295.8 278.9,292.1 326.9,288.4 355,287.7 359,287 371,283.7 395,282 399,282 411,283.9 415.1,284.3 443.1,281.6 455.1,279.2 463.1,278.8 471.1,279.2 487.2,282.1 547.2,283.4 751.5,281.1 L751.5,566 L106.6,566Z" fill="url(#r2)"/>
<path d="M106.6,288 178.7,284.3 214.8,288.6 246.8,295 254.8,295.8 278.9,292.1 326.9,288.4 355,287.7 359,287 371,283.7 395,282 399,282 411,283.9 415.1,284.3 443.1,281.6 455.1,279.2 463.1,278.8 471.1,279.2 487.2,282.1 547.2,283.4 751.5,281.1" class="ml"/>
<path d="M106.7,291.2 178.8,287.5 214.8,291.8 246.9,298.2 254.9,299 278.9,295.4 327,291.7 339,291.3 359,288 363,286.2 367,285.1 403.1,283 407.1,283.5 415.1,286.4 419.1,287.2 451.1,284.4 547.3,286.7 571.3,285.9 587.3,284.2 599.3,284.4 611.4,285.2 751.6,284.4 L751.6,566 L106.7,566Z" fill="url(#r3)"/>
<path d="M106.7,291.2 178.8,287.5 214.8,291.8 246.9,298.2 254.9,299 278.9,295.4 327,291.7 339,291.3 359,288 363,286.2 367,285.1 403.1,283 407.1,283.5 415.1,286.4 419.1,287.2 451.1,284.4 547.3,286.7 571.3,285.9 587.3,284.2 599.3,284.4 611.4,285.2 751.6,284.4" class="ml"/>
<path d="M385,234.5 L391.7,282.8 L396.1,290.4 L386.5,292.2 L374.6,291 L378.9,282.8Z" fill="#2a80e6" class="pk"/><path d="M385,234.5 L391.7,282.8 L396.1,290.4 L386.5,292.2Z" fill="#236bc1" class="pk"/><path d="M385,234 L385.9,239 L384.1,239 Z" fill="#0a1238" fill-opacity="0.85"/>
<path d="M106.7,294.5 178.8,290.8 214.9,295.1 246.9,301.4 254.9,302.2 278.9,298.7 331,294.6 335,293.5 347,288.8 351,287.8 359.1,286.9 375.1,286.5 383.1,287 403.1,286.3 407.1,286.9 415.1,289.7 419.1,290.5 455.2,287.5 471.2,284.6 479.2,284.1 487.2,284.6 507.2,289.1 511.3,289.6 555.3,289.8 559.3,289.4 563.3,288.4 575.3,284.2 583.3,282.5 591.4,281.9 599.4,282.4 607.4,284 619.4,287.7 623.4,288.3 751.6,287.7 L751.6,566 L106.7,566Z" fill="url(#r4)"/>
<path d="M106.7,294.5 178.8,290.8 214.9,295.1 246.9,301.4 254.9,302.2 278.9,298.7 331,294.6 335,293.5 347,288.8 351,287.8 359.1,286.9 375.1,286.5 383.1,287 403.1,286.3 407.1,286.9 415.1,289.7 419.1,290.5 455.2,287.5 471.2,284.6 479.2,284.1 487.2,284.6 507.2,289.1 511.3,289.6 555.3,289.8 559.3,289.4 563.3,288.4 575.3,284.2 583.3,282.5 591.4,281.9 599.4,282.4 607.4,284 619.4,287.7 623.4,288.3 751.6,287.7" class="ml"/>
<path d="M106.8,297.7 178.9,294 214.9,298.3 234.9,302.1 255,304.3 263,304.1 327.1,297.8 331.1,296.3 339.1,292.1 343.1,290.8 383.1,288.9 387.1,289.3 391.1,290.2 395.1,290.1 399.1,290.4 403.1,291.2 407.2,292.4 411.2,293 431.2,292.9 443.2,291.7 447.2,290.8 459.2,285.8 463.2,284.6 467.2,283.9 491.3,284.4 495.3,284.8 499.3,285.7 515.3,292.1 519.3,293 547.3,293.3 551.3,293.2 555.3,292.2 567.4,286.6 571.4,285.4 595.4,284.2 607.4,284.3 611.4,284.8 619.4,287.5 631.4,290.7 635.4,291.4 751.6,291 L751.6,566 L106.8,566Z" fill="url(#r5)"/>
<path d="M106.8,297.7 178.9,294 214.9,298.3 234.9,302.1 255,304.3 263,304.1 327.1,297.8 331.1,296.3 339.1,292.1 343.1,290.8 383.1,288.9 387.1,289.3 391.1,290.2 395.1,290.1 399.1,290.4 403.1,291.2 407.2,292.4 411.2,293 431.2,292.9 443.2,291.7 447.2,290.8 459.2,285.8 463.2,284.6 467.2,283.9 491.3,284.4 495.3,284.8 499.3,285.7 515.3,292.1 519.3,293 547.3,293.3 551.3,293.2 555.3,292.2 567.4,286.6 571.4,285.4 595.4,284.2 607.4,284.3 611.4,284.8 619.4,287.5 631.4,290.7 635.4,291.4 751.6,291" class="ml"/>
<path d="M106.8,301 178.9,297.3 219,302.2 223,302.1 235,299.4 239,299 243,299.1 255,300.4 263,301 267,301.7 275,303.9 279,304.8 283,304.8 323.1,301.6 327.1,300.6 339.1,294.5 343.1,293.7 367.1,292.2 387.2,292.1 391.2,293 403.2,289.8 411.2,288.8 419.2,289 423.2,289.6 439.2,294.4 443.2,294.3 455.2,287.8 459.3,286.6 487.3,287 503.3,288.1 507.3,289.2 519.3,295.2 523.3,296.3 547.4,296.6 551.4,296 555.4,294.3 563.4,290 567.4,288.7 607.4,286.3 619.4,286.5 623.5,287.1 627.5,288.3 639.5,293.2 651.5,294.7 751.6,294.3 L751.6,566 L106.8,566Z" fill="url(#r6)"/>
<path d="M106.8,301 178.9,297.3 219,302.2 223,302.1 235,299.4 239,299 243,299.1 255,300.4 263,301 267,301.7 275,303.9 279,304.8 283,304.8 323.1,301.6 327.1,300.6 339.1,294.5 343.1,293.7 367.1,292.2 387.2,292.1 391.2,293 403.2,289.8 411.2,288.8 419.2,289 423.2,289.6 439.2,294.4 443.2,294.3 455.2,287.8 459.3,286.6 487.3,287 503.3,288.1 507.3,289.2 519.3,295.2 523.3,296.3 547.4,296.6 551.4,296 555.4,294.3 563.4,290 567.4,288.7 607.4,286.3 619.4,286.5 623.5,287.1 627.5,288.3 639.5,293.2 651.5,294.7 751.6,294.3" class="ml"/>
<path d="M364.5,243.7 L370.8,289.5 L375,296.7 L365.7,298.5 L354,297.3 L358.2,289.5Z" fill="#33a0ee" class="pk"/><path d="M364.5,243.7 L370.8,289.5 L375,296.7 L365.7,298.5Z" fill="#36c8f3" class="pk"/><path d="M364.5,243.2 L365.4,248.2 L363.6,248.2 Z" fill="#0a1238" fill-opacity="0.85"/>
<path d="M590.5,232.5 L597.3,289 L601.7,297.7 L591.8,299.5 L579.5,298.3 L583.9,289Z" fill="#33a0ee" class="pk"/><path d="M590.5,232.5 L597.3,289 L601.7,297.7 L591.8,299.5Z" fill="#2a86c7" class="pk"/><path d="M590.5,232 L591.3,237 L589.7,237 Z" fill="#0a1238" fill-opacity="0.85"/>
<path d="M106.9,304.2 179,300.5 211,304.3 215,304.3 219,303.2 227,299.8 231,299.1 251,302.1 255.1,302.4 267.1,301.1 271.1,301.3 275.1,302.8 283.1,306.8 287.1,307.7 327.1,304.4 331.1,302.9 339.1,298.8 343.2,297.4 383.2,295.5 387.2,293.6 391.2,292.2 427.3,289.6 431.3,290.1 435.3,291.4 443.3,295.6 447.3,294.8 451.3,292.3 455.3,290.4 459.3,289.7 483.3,289.7 503.3,291.3 507.3,291.8 511.3,293.5 519.4,297.9 523.4,299.4 547.4,300 551.4,299.5 555.4,297.9 563.4,293.6 567.4,292.2 579.4,291.1 583.4,290.3 611.5,289.2 631.5,289.6 639.5,290.5 647.5,292.6 659.5,296.8 663.5,297.7 751.6,297.5 L751.6,566 L106.9,566Z" fill="url(#r7)"/>
<path d="M106.9,304.2 179,300.5 211,304.3 215,304.3 219,303.2 227,299.8 231,299.1 251,302.1 255.1,302.4 267.1,301.1 271.1,301.3 275.1,302.8 283.1,306.8 287.1,307.7 327.1,304.4 331.1,302.9 339.1,298.8 343.2,297.4 383.2,295.5 387.2,293.6 391.2,292.2 427.3,289.6 431.3,290.1 435.3,291.4 443.3,295.6 447.3,294.8 451.3,292.3 455.3,290.4 459.3,289.7 483.3,289.7 503.3,291.3 507.3,291.8 511.3,293.5 519.4,297.9 523.4,299.4 547.4,300 551.4,299.5 555.4,297.9 563.4,293.6 567.4,292.2 579.4,291.1 583.4,290.3 611.5,289.2 631.5,289.6 639.5,290.5 647.5,292.6 659.5,296.8 663.5,297.7 751.6,297.5" class="ml"/>
<path d="M484.3,226 L491.2,290.5 L496.7,299.2 L483.4,301 L466.8,299.8 L473,290.5Z" fill="#2a80e6" class="pk"/><path d="M484.3,226 L491.2,290.5 L496.7,299.2 L483.4,301Z" fill="#2a80e6" class="pk"/><path d="M484.3,225.5 L485.3,230.5 L483.3,230.5 Z" fill="#0a1238" fill-opacity="0.85"/>
<path d="M484.3,226 L477.4,244 L479.6,262 L483.2,296 L484.6,272 Z" fill="#f26a22" class="pk"/>
<path d="M106.9,307.5 179,303.8 211,307.5 215.1,306.7 223.1,302.9 227.1,301.7 255.1,305.2 271.1,303.7 275.1,304.4 283.1,308.9 287.1,310.6 291.1,310.7 331.2,307.7 335.2,306.8 347.2,302.2 351.2,301.1 359.2,300 371.2,299.6 375.2,299.8 379.2,299.2 383.2,296.7 387.2,295.5 411.3,293.1 431.3,292.5 435.3,292.7 439.3,294.2 447.3,299 455.3,294.8 459.3,293.5 487.4,293.7 503.4,294.8 507.4,296.1 511.4,298 515.4,298.3 523.4,297.6 531.4,297.8 555.4,302.2 559.4,301.2 567.4,297.6 571.4,296.1 575.5,295.3 579.5,294 623.5,291.2 643.5,291.4 647.5,291.8 651.5,292.8 659.5,296.3 663.5,297.7 675.6,300.3 683.6,301.2 751.6,300.8 L751.6,566 L106.9,566Z" fill="url(#r8)"/>
<path d="M106.9,307.5 179,303.8 211,307.5 215.1,306.7 223.1,302.9 227.1,301.7 255.1,305.2 271.1,303.7 275.1,304.4 283.1,308.9 287.1,310.6 291.1,310.7 331.2,307.7 335.2,306.8 347.2,302.2 351.2,301.1 359.2,300 371.2,299.6 375.2,299.8 379.2,299.2 383.2,296.7 387.2,295.5 411.3,293.1 431.3,292.5 435.3,292.7 439.3,294.2 447.3,299 455.3,294.8 459.3,293.5 487.4,293.7 503.4,294.8 507.4,296.1 511.4,298 515.4,298.3 523.4,297.6 531.4,297.8 555.4,302.2 559.4,301.2 567.4,297.6 571.4,296.1 575.5,295.3 579.5,294 623.5,291.2 643.5,291.4 647.5,291.8 651.5,292.8 659.5,296.3 663.5,297.7 675.6,300.3 683.6,301.2 751.6,300.8" class="ml"/>
<ellipse cx="268" cy="297" rx="30" ry="4" fill="#030820" opacity="0.7" filter="url(#b3)"/>
<path d="M604.5,227.5 L611.8,293 L616.3,301.7 L606.3,303.5 L593.7,302.3 L598,293Z" fill="#33a0ee" class="pk"/><path d="M604.5,227.5 L611.8,293 L616.3,301.7 L606.3,303.5Z" fill="#2a86c7" class="pk"/><path d="M604.5,227 L605.3,232 L603.7,232 Z" fill="#0a1238" fill-opacity="0.85"/>
<path d="M107,310.7 175.1,307.1 183.1,307.3 211.1,310.8 215.1,310.7 219.1,309.5 227.1,306.1 231.1,305.5 251.1,308.5 255.1,308.8 267.2,307.6 271.2,307.8 275.2,309.2 283.2,313.3 287.2,314.2 347.2,308.9 355.2,308.7 363.3,307.8 371.3,307.8 375.3,305.7 379.3,302.7 383.3,300.1 387.3,298.8 415.3,296.3 431.3,295.8 435.3,296.2 439.3,297.8 447.3,302.5 451.3,303.1 459.4,299.7 463.4,298.4 467.4,297.6 475.4,297.1 491.4,297.9 495.4,298.5 499.4,299.5 507.4,297.1 515.4,295.7 527.4,295.3 539.4,296.3 547.4,298 563.5,304.1 567.5,304.3 575.5,299.9 579.5,298 583.5,297.1 595.5,296.3 603.5,295.1 631.5,294 651.6,293.7 659.6,294.3 667.6,295.9 687.6,303.5 691.6,304.3 751.7,304.1 L751.7,566 L107,566Z" fill="url(#r9)"/>
<path d="M107,310.7 175.1,307.1 183.1,307.3 211.1,310.8 215.1,310.7 219.1,309.5 227.1,306.1 231.1,305.5 251.1,308.5 255.1,308.8 267.2,307.6 271.2,307.8 275.2,309.2 283.2,313.3 287.2,314.2 347.2,308.9 355.2,308.7 363.3,307.8 371.3,307.8 375.3,305.7 379.3,302.7 383.3,300.1 387.3,298.8 415.3,296.3 431.3,295.8 435.3,296.2 439.3,297.8 447.3,302.5 451.3,303.1 459.4,299.7 463.4,298.4 467.4,297.6 475.4,297.1 491.4,297.9 495.4,298.5 499.4,299.5 507.4,297.1 515.4,295.7 527.4,295.3 539.4,296.3 547.4,298 563.5,304.1 567.5,304.3 575.5,299.9 579.5,298 583.5,297.1 595.5,296.3 603.5,295.1 631.5,294 651.6,293.7 659.6,294.3 667.6,295.9 687.6,303.5 691.6,304.3 751.7,304.1" class="ml"/>
<path d="M107,314 175.1,310.3 183.1,310.6 219.2,315.2 223.2,314.9 235.2,312 239.2,311.7 243.2,311.8 255.2,313.2 263.2,313.7 267.2,314.4 275.2,316.8 279.2,317.4 307.2,315.8 315.2,313.7 331.3,308.2 339.3,306.3 347.3,305.3 355.3,305.2 363.3,305.9 375.3,308.4 379.3,308.9 387.3,303.9 391.3,302.3 395.3,301.6 423.4,299.8 427.4,299.8 431.4,300.6 435.4,302.2 443.4,306.3 447.4,307.6 451.4,307.9 459.4,307.3 471.4,305.4 479.4,304.9 483.4,305 487.4,304.5 495.4,300.4 499.4,298.9 503.4,298.1 547.5,298.4 551.5,298.8 555.5,299.9 559.5,301.6 571.5,307.8 575.5,306.4 583.5,302.7 587.5,301.4 595.5,299.8 599.5,298.6 647.6,296.1 667.6,296.4 671.6,296.8 675.6,297.8 679.6,299.5 691.6,305.8 695.6,307.2 699.6,307.7 751.7,307.4 L751.7,566 L107,566Z" fill="url(#r10)"/>
<path d="M107,314 175.1,310.3 183.1,310.6 219.2,315.2 223.2,314.9 235.2,312 239.2,311.7 243.2,311.8 255.2,313.2 263.2,313.7 267.2,314.4 275.2,316.8 279.2,317.4 307.2,315.8 315.2,313.7 331.3,308.2 339.3,306.3 347.3,305.3 355.3,305.2 363.3,305.9 375.3,308.4 379.3,308.9 387.3,303.9 391.3,302.3 395.3,301.6 423.4,299.8 427.4,299.8 431.4,300.6 435.4,302.2 443.4,306.3 447.4,307.6 451.4,307.9 459.4,307.3 471.4,305.4 479.4,304.9 483.4,305 487.4,304.5 495.4,300.4 499.4,298.9 503.4,298.1 547.5,298.4 551.5,298.8 555.5,299.9 559.5,301.6 571.5,307.8 575.5,306.4 583.5,302.7 587.5,301.4 595.5,299.8 599.5,298.6 647.6,296.1 667.6,296.4 671.6,296.8 675.6,297.8 679.6,299.5 691.6,305.8 695.6,307.2 699.6,307.7 751.7,307.4" class="ml"/>
<path d="M626,245 L633.6,298.3 L638.3,306.7 L628.3,308.5 L615.7,307.3 L620.1,298.3Z" fill="#33a0ee" class="pk"/><path d="M626,245 L633.6,298.3 L638.3,306.7 L628.3,308.5Z" fill="#2a86c7" class="pk"/><path d="M626,244.5 L626.9,249.5 L625.1,249.5 Z" fill="#0a1238" fill-opacity="0.85"/>
<path d="M107.1,317.2 175.2,313.6 183.2,313.8 215.2,317.8 231.2,320.8 251.2,323 255.2,322.6 271.2,316.4 279.3,314.5 287.3,313.8 295.3,314 307.3,315.8 311.3,314.3 319.3,309.9 327.3,306.5 335.3,304.5 347.3,303.4 363.3,303.5 371.3,304.5 379.4,306.8 387.4,310 391.4,311 399.4,308.1 407.4,306.6 415.4,306.3 419.4,306.6 427.4,308.4 435.4,310.9 439.4,310.4 451.4,307.5 459.4,306.8 467.4,307 479.4,308.5 483.4,307.6 491.5,303.2 495.5,301.6 499.5,301 527.5,300.5 555.5,301.6 559.5,302.6 563.5,304.5 571.5,309.3 575.5,311.3 579.5,312 583.5,310.9 595.6,304.1 599.6,302.5 603.6,301.8 615.6,301 619.6,300.1 651.6,298.9 675.6,299.7 679.6,300.6 683.6,302.4 695.6,309.2 699.7,310.6 703.7,311 751.7,310.7 L751.7,566 L107.1,566Z" fill="url(#r11)"/>
<path d="M107.1,317.2 175.2,313.6 183.2,313.8 215.2,317.8 231.2,320.8 251.2,323 255.2,322.6 271.2,316.4 279.3,314.5 287.3,313.8 295.3,314 307.3,315.8 311.3,314.3 319.3,309.9 327.3,306.5 335.3,304.5 347.3,303.4 363.3,303.5 371.3,304.5 379.4,306.8 387.4,310 391.4,311 399.4,308.1 407.4,306.6 415.4,306.3 419.4,306.6 427.4,308.4 435.4,310.9 439.4,310.4 451.4,307.5 459.4,306.8 467.4,307 479.4,308.5 483.4,307.6 491.5,303.2 495.5,301.6 499.5,301 527.5,300.5 555.5,301.6 559.5,302.6 563.5,304.5 571.5,309.3 575.5,311.3 579.5,312 583.5,310.9 595.6,304.1 599.6,302.5 603.6,301.8 615.6,301 619.6,300.1 651.6,298.9 675.6,299.7 679.6,300.6 683.6,302.4 695.6,309.2 699.7,310.6 703.7,311 751.7,310.7" class="ml"/>
<path d="M107.2,320.5 175.2,316.8 183.2,317.1 215.2,321.1 235.3,324.7 239.3,324.7 247.3,323.2 255.3,320.3 267.3,314.9 275.3,312.8 287.3,311.5 295.3,311.3 303.3,312.1 307.3,313 311.3,313.1 315.3,310.7 319.3,308.8 323.3,307.5 327.3,306.9 375.4,305.5 379.4,306 383.4,307.1 391.4,310.7 399.4,314.9 403.4,316.6 407.4,317.1 415.4,316.7 419.4,315.7 443.4,305.9 451.5,303.6 459.5,302.6 467.5,302.8 475.5,303.8 483.5,305.8 487.5,307.1 495.5,304.6 527.5,303.4 555.5,304.8 559.5,305.5 563.6,307.2 575.6,314.3 579.6,315.2 583.6,315.3 587.6,314.5 603.6,306.9 607.6,305.7 611.6,305.1 615.6,303.9 647.6,301.8 675.7,302.9 679.7,303.5 683.7,305.1 695.7,312.1 699.7,313.7 703.7,314.3 751.7,314 L751.7,566 L107.2,566Z" fill="url(#r12)"/>
<path d="M107.2,320.5 175.2,316.8 183.2,317.1 215.2,321.1 235.3,324.7 239.3,324.7 247.3,323.2 255.3,320.3 267.3,314.9 275.3,312.8 287.3,311.5 295.3,311.3 303.3,312.1 307.3,313 311.3,313.1 315.3,310.7 319.3,308.8 323.3,307.5 327.3,306.9 375.4,305.5 379.4,306 383.4,307.1 391.4,310.7 399.4,314.9 403.4,316.6 407.4,317.1 415.4,316.7 419.4,315.7 443.4,305.9 451.5,303.6 459.5,302.6 467.5,302.8 475.5,303.8 483.5,305.8 487.5,307.1 495.5,304.6 527.5,303.4 555.5,304.8 559.5,305.5 563.6,307.2 575.6,314.3 579.6,315.2 583.6,315.3 587.6,314.5 603.6,306.9 607.6,305.7 611.6,305.1 615.6,303.9 647.6,301.8 675.7,302.9 679.7,303.5 683.7,305.1 695.7,312.1 699.7,313.7 703.7,314.3 751.7,314" class="ml"/>
<path d="M527,240 L534.9,303 L540,311.7 L528.3,313.5 L513.7,312.3 L518.9,303Z" fill="#33a0ee" class="pk"/><path d="M527,240 L534.9,303 L540,311.7 L528.3,313.5Z" fill="#2a86c7" class="pk"/><path d="M527,239.5 L527.9,244.5 L526.1,244.5 Z" fill="#0a1238" fill-opacity="0.85"/>
<path d="M647.5,236 L653.9,303 L658,311.7 L648.7,313.5 L637,312.3 L641.1,303Z" fill="#33a0ee" class="pk"/><path d="M647.5,236 L653.9,303 L658,311.7 L648.7,313.5Z" fill="#2a86c7" class="pk"/><path d="M647.5,235.5 L648.2,240.5 L646.8,240.5 Z" fill="#0a1238" fill-opacity="0.85"/>
<path d="M107.2,323.8 175.3,320.1 183.3,320.3 219.3,325.1 227.3,326.6 231.3,326.7 235.3,326.1 255.3,319.3 271.3,315.7 303.4,313 307.4,312.9 311.4,313.3 315.4,311.6 319.4,310.6 351.4,308.5 383.4,308.5 387.4,309.4 391.4,311.1 403.4,318 407.5,319.8 411.5,318.9 431.5,308 439.5,304.7 447.5,302.5 455.5,301.6 471.5,301.9 479.5,302.7 487.5,304.3 495.5,307.2 499.5,307.5 507.5,305.9 515.5,305.3 527.6,305.5 535.6,306.7 539.6,307.6 555.6,308.5 559.6,309.8 563.6,311.6 579.6,312.8 595.6,316.1 599.6,316.6 603.6,314.9 611.6,310 615.6,308 619.6,306.9 651.7,305.7 675.7,306.5 679.7,307.6 683.7,309.5 691.7,314.2 695.7,316.2 699.7,317.4 751.7,317.3 L751.7,566 L107.2,566Z" fill="url(#r13)"/>
<path d="M107.2,323.8 175.3,320.1 183.3,320.3 219.3,325.1 227.3,326.6 231.3,326.7 235.3,326.1 255.3,319.3 271.3,315.7 303.4,313 307.4,312.9 311.4,313.3 315.4,311.6 319.4,310.6 351.4,308.5 383.4,308.5 387.4,309.4 391.4,311.1 403.4,318 407.5,319.8 411.5,318.9 431.5,308 439.5,304.7 447.5,302.5 455.5,301.6 471.5,301.9 479.5,302.7 487.5,304.3 495.5,307.2 499.5,307.5 507.5,305.9 515.5,305.3 527.6,305.5 535.6,306.7 539.6,307.6 555.6,308.5 559.6,309.8 563.6,311.6 579.6,312.8 595.6,316.1 599.6,316.6 603.6,314.9 611.6,310 615.6,308 619.6,306.9 651.7,305.7 675.7,306.5 679.7,307.6 683.7,309.5 691.7,314.2 695.7,316.2 699.7,317.4 751.7,317.3" class="ml"/>
<path d="M107.3,327 175.3,323.3 183.3,323.6 219.3,328.3 223.3,329 227.4,329.3 231.4,328.6 243.4,323.8 247.4,322.5 251.4,321.7 259.4,321 275.4,317.8 311.4,315.5 315.4,314.3 347.4,311.3 383.5,311.5 387.5,311.9 391.5,313.3 403.5,320.4 407.5,321.2 423.5,310.9 427.5,308.9 431.5,307.3 435.5,306.3 451.5,304.5 487.6,305.5 491.6,305.9 495.6,306.7 539.6,307.2 547.6,308.3 551.6,309.2 559.6,308.3 571.6,308.5 583.6,309.9 591.6,311.9 607.6,318.3 619.7,312.4 623.7,311 627.7,310.2 663.7,309.7 667.7,309.9 671.7,310.7 675.7,312.1 687.7,318 691.7,319.7 695.7,320.7 751.8,320.6 L751.8,566 L107.3,566Z" fill="url(#r14)"/>
<path d="M107.3,327 175.3,323.3 183.3,323.6 219.3,328.3 223.3,329 227.4,329.3 231.4,328.6 243.4,323.8 247.4,322.5 251.4,321.7 259.4,321 275.4,317.8 311.4,315.5 315.4,314.3 347.4,311.3 383.5,311.5 387.5,311.9 391.5,313.3 403.5,320.4 407.5,321.2 423.5,310.9 427.5,308.9 431.5,307.3 435.5,306.3 451.5,304.5 487.6,305.5 491.6,305.9 495.6,306.7 539.6,307.2 547.6,308.3 551.6,309.2 559.6,308.3 571.6,308.5 583.6,309.9 591.6,311.9 607.6,318.3 619.7,312.4 623.7,311 627.7,310.2 663.7,309.7 667.7,309.9 671.7,310.7 675.7,312.1 687.7,318 691.7,319.7 695.7,320.7 751.8,320.6" class="ml"/>
<path d="M350.3,258.5 L357.2,308.8 L361.8,316.7 L351.8,318.5 L339.3,317.3 L343.8,308.8Z" fill="#2a80e6" class="pk"/><path d="M350.3,258.5 L357.2,308.8 L361.8,316.7 L351.8,318.5Z" fill="#33a0ee" class="pk"/><path d="M350.3,258 L351.2,263 L349.4,263 Z" fill="#0a1238" fill-opacity="0.85"/>
<path d="M107.3,330.3 175.4,326.6 183.4,326.8 223.4,332.2 227.4,332.2 231.4,331.1 243.4,326 247.4,325 251.4,324.6 255.4,324.6 279.4,320.1 283.4,319.6 311.5,318.7 319.5,317.1 351.5,314.8 383.5,314.8 387.5,315.5 391.5,317.1 403.5,324.2 407.5,322 419.5,313.6 423.5,311.6 427.5,310.3 451.6,307.3 463.6,307 499.6,309.5 531.6,309.6 547.6,310.2 587.7,309.9 591.7,310.4 595.7,311.4 603.7,314.7 615.7,321 619.7,320.5 627.7,317.6 635.7,315.6 643.7,314.7 651.7,314.7 659.7,315.5 667.7,317.4 683.7,323.1 687.7,324 695.7,324.2 699.7,323.9 703.7,322.2 711.7,318.4 715.7,317.3 719.7,316.9 723.8,317.1 727.8,318.1 739.8,323.5 743.8,323.9 751.8,323.9 L751.8,566 L107.3,566Z" fill="url(#r15)"/>
<path d="M107.3,330.3 175.4,326.6 183.4,326.8 223.4,332.2 227.4,332.2 231.4,331.1 243.4,326 247.4,325 251.4,324.6 255.4,324.6 279.4,320.1 283.4,319.6 311.5,318.7 319.5,317.1 351.5,314.8 383.5,314.8 387.5,315.5 391.5,317.1 403.5,324.2 407.5,322 419.5,313.6 423.5,311.6 427.5,310.3 451.6,307.3 463.6,307 499.6,309.5 531.6,309.6 547.6,310.2 587.7,309.9 591.7,310.4 595.7,311.4 603.7,314.7 615.7,321 619.7,320.5 627.7,317.6 635.7,315.6 643.7,314.7 651.7,314.7 659.7,315.5 667.7,317.4 683.7,323.1 687.7,324 695.7,324.2 699.7,323.9 703.7,322.2 711.7,318.4 715.7,317.3 719.7,316.9 723.8,317.1 727.8,318.1 739.8,323.5 743.8,323.9 751.8,323.9" class="ml"/>
<ellipse cx="264" cy="320" rx="16" ry="3.5" fill="#030820" opacity="0.8" filter="url(#b3)"/>
<path d="M286.4,234 L292.6,283 L293.5,318.5 L284,322 L273.3,320.5 L279.4,265.4 L281.2,265.4 Z" fill="#33a0ee" class="pk"/><path d="M279.4,265.4 L281.2,265.4 L284,322 L273.3,320.5 Z" fill="#3ab0f2" class="pk"/><path d="M286.4,234 L292.6,283 L293.5,318.5 L288.5,320.5 Z" fill="#2a80e6" class="pk"/><path d="M286.4,233.5 L287.6,244 L285.2,244 Z" fill="#0a1238"/>
<path d="M107.4,333.5 175.4,329.8 183.4,330.1 219.4,334.8 223.4,335.5 227.4,335.7 231.4,334.9 243.5,330 247.5,328.7 251.5,328 259.5,327.4 275.5,324.3 311.5,322.1 315.5,322.1 323.5,320.2 375.5,318.4 379.5,318.5 383.5,319.2 387.6,320.6 399.6,327.1 403.6,326.7 415.6,317.9 419.6,315.6 423.6,314 451.6,310.3 463.6,309.7 499.6,312.4 523.6,312 543.7,313.2 595.7,312.6 599.7,313.2 603.7,314.4 607.7,316.2 623.7,325.6 627.7,326.7 639.7,324.9 647.7,324.5 659.7,325.3 675.7,327.5 691.7,327.5 695.8,326.4 703.8,320.3 707.8,318.5 723.8,318 731.8,318.3 735.8,319.8 743.8,325.8 747.8,327.2 751.8,327.2 L751.8,566 L107.4,566Z" fill="url(#r16)"/>
<path d="M107.4,333.5 175.4,329.8 183.4,330.1 219.4,334.8 223.4,335.5 227.4,335.7 231.4,334.9 243.5,330 247.5,328.7 251.5,328 259.5,327.4 275.5,324.3 311.5,322.1 315.5,322.1 323.5,320.2 375.5,318.4 379.5,318.5 383.5,319.2 387.6,320.6 399.6,327.1 403.6,326.7 415.6,317.9 419.6,315.6 423.6,314 451.6,310.3 463.6,309.7 499.6,312.4 523.6,312 543.7,313.2 595.7,312.6 599.7,313.2 603.7,314.4 607.7,316.2 623.7,325.6 627.7,326.7 639.7,324.9 647.7,324.5 659.7,325.3 675.7,327.5 691.7,327.5 695.8,326.4 703.8,320.3 707.8,318.5 723.8,318 731.8,318.3 735.8,319.8 743.8,325.8 747.8,327.2 751.8,327.2" class="ml"/>
<path d="M463.7,253.7 L469.8,313 L473.8,321.7 L464.9,323.5 L453.7,322.3 L457.7,313Z" fill="#2a80e6" class="pk"/><path d="M463.7,253.7 L469.8,313 L473.8,321.7 L464.9,323.5Z" fill="#236bc1" class="pk"/><path d="M463.7,253.2 L464.5,258.2 L462.9,258.2 Z" fill="#0a1238" fill-opacity="0.85"/>
<path d="M107.4,336.8 175.5,333 187.5,333.6 215.5,337.2 219.5,336.8 231.5,333.1 235.5,332.3 239.5,332 251.5,333 271.5,328.7 307.5,325.8 311.5,326.1 315.5,327.1 323.6,325.7 327.6,324.4 335.6,323.1 367.6,322.4 375.6,323.5 379.6,324.6 395.6,331.6 399.6,332.4 403.6,329.9 415.6,321.3 419.6,318.9 423.6,317.4 455.6,313.3 463.6,313.1 495.7,315.6 519.7,314.8 531.7,315.5 559.7,315.1 599.7,315.7 603.7,316.2 607.7,317.5 611.7,319.6 623.7,327.4 627.7,329.5 631.7,330.9 635.7,331.4 655.7,331.1 679.8,326.8 687.8,326.1 695.8,326.1 699.8,324.3 703.8,321.8 719.8,320.6 735.8,321.5 739.8,323.6 743.8,327.2 747.8,330 751.8,330.5 L751.8,566 L107.4,566Z" fill="url(#r17)"/>
<path d="M107.4,336.8 175.5,333 187.5,333.6 215.5,337.2 219.5,336.8 231.5,333.1 235.5,332.3 239.5,332 251.5,333 271.5,328.7 307.5,325.8 311.5,326.1 315.5,327.1 323.6,325.7 327.6,324.4 335.6,323.1 367.6,322.4 375.6,323.5 379.6,324.6 395.6,331.6 399.6,332.4 403.6,329.9 415.6,321.3 419.6,318.9 423.6,317.4 455.6,313.3 463.6,313.1 495.7,315.6 519.7,314.8 531.7,315.5 559.7,315.1 599.7,315.7 603.7,316.2 607.7,317.5 611.7,319.6 623.7,327.4 627.7,329.5 631.7,330.9 635.7,331.4 655.7,331.1 679.8,326.8 687.8,326.1 695.8,326.1 699.8,324.3 703.8,321.8 719.8,320.6 735.8,321.5 739.8,323.6 743.8,327.2 747.8,330 751.8,330.5" class="ml"/>
<path d="M520,258 L527.2,315 L531.6,323.7 L522,325.5 L509.9,324.3 L514.1,315Z" fill="#33a0ee" class="pk"/><path d="M520,258 L527.2,315 L531.6,323.7 L522,325.5Z" fill="#2a86c7" class="pk"/><path d="M520,257.5 L520.8,262.5 L519.2,262.5 Z" fill="#0a1238" fill-opacity="0.85"/>
<path d="M107.5,340 159.5,337.2 163.5,336.7 179.5,332.5 187.5,331.8 195.5,332.4 203.5,333.9 211.5,336.4 215.5,338 223.5,334 227.5,332.5 231.5,332.1 251.6,335.1 255.6,335.3 263.6,334.7 275.6,332 291.6,330.6 295.6,330.5 307.6,328.2 327.6,326.7 339.6,326.7 343.6,327.1 351.6,328.7 359.6,329.1 367.6,330.2 391.6,337.1 395.6,336.7 399.6,334.5 411.6,326.6 415.6,324.8 419.6,323.6 423.6,321.6 427.6,320.3 451.7,317.4 463.7,317 495.7,319.1 519.7,318.5 559.7,317.8 583.7,318.5 603.7,319.2 607.7,320.4 611.7,322.3 623.8,330.2 627.8,332.4 631.8,334 635.8,334.6 643.8,334.5 647.8,333.7 655.8,331 667.8,326.2 675.8,324 683.8,322.8 691.8,322.5 699.8,322.9 707.8,324.3 711.8,324.6 723.8,324.3 731.8,324.6 735.8,325.2 739.8,327.7 743.8,331.3 747.8,333.6 751.8,333.8 L751.8,566 L107.5,566Z" fill="url(#r18)"/>
<path d="M107.5,340 159.5,337.2 163.5,336.7 179.5,332.5 187.5,331.8 195.5,332.4 203.5,333.9 211.5,336.4 215.5,338 223.5,334 227.5,332.5 231.5,332.1 251.6,335.1 255.6,335.3 263.6,334.7 275.6,332 291.6,330.6 295.6,330.5 307.6,328.2 327.6,326.7 339.6,326.7 343.6,327.1 351.6,328.7 359.6,329.1 367.6,330.2 391.6,337.1 395.6,336.7 399.6,334.5 411.6,326.6 415.6,324.8 419.6,323.6 423.6,321.6 427.6,320.3 451.7,317.4 463.7,317 495.7,319.1 519.7,318.5 559.7,317.8 583.7,318.5 603.7,319.2 607.7,320.4 611.7,322.3 623.8,330.2 627.8,332.4 631.8,334 635.8,334.6 643.8,334.5 647.8,333.7 655.8,331 667.8,326.2 675.8,324 683.8,322.8 691.8,322.5 699.8,322.9 707.8,324.3 711.8,324.6 723.8,324.3 731.8,324.6 735.8,325.2 739.8,327.7 743.8,331.3 747.8,333.6 751.8,333.8" class="ml"/>
<path d="M563,260 L569.6,318 L573.5,326.7 L565.4,328.5 L555.2,327.3 L558.7,318Z" fill="#2a80e6" class="pk"/><path d="M563,260 L569.6,318 L573.5,326.7 L565.4,328.5Z" fill="#236bc1" class="pk"/><path d="M563,259.5 L563.7,264.5 L562.3,264.5 Z" fill="#0a1238" fill-opacity="0.85"/>
<path d="M450,277.5 L455.7,324.4 L459.4,331.7 L451.5,333.5 L441.6,332.3 L445.1,324.4Z" fill="#2a80e6" class="pk"/><path d="M450,277.5 L455.7,324.4 L459.4,331.7 L451.5,333.5Z" fill="#236bc1" class="pk"/><path d="M450,277 L450.8,282 L449.2,282 Z" fill="#0a1238" fill-opacity="0.85"/>
<path d="M107.5,343.3 151.6,340.9 155.6,339.9 171.6,332.4 175.6,330.9 179.6,330 183.6,329.6 195.6,330.5 207.6,332.7 211.6,333.9 215.6,335.5 219.6,336.5 223.6,334.7 227.6,334.4 251.6,337.7 259.6,337.9 271.6,336.8 275.6,337.1 279.6,338.9 283.6,337.1 287.6,334.9 291.6,333.3 295.6,332.4 323.6,329.5 347.6,329.5 351.6,329.7 355.7,330.6 359.7,332.3 371.7,338.9 375.7,340.7 379.7,341.5 387.7,341.7 391.7,341.3 395.7,340 399.7,337.8 411.7,329.9 415.7,328.1 419.7,327.2 423.7,326.8 431.7,324.2 435.7,323.2 451.7,321.3 487.7,322.2 495.7,322.9 507.7,322.7 515.7,321.3 559.7,320.5 579.8,321.3 587.8,321.2 591.8,321.6 595.8,322.4 599.8,322.4 603.8,323 607.8,324.4 611.8,326.5 623.8,334.3 627.8,336.3 631.8,337.6 635.8,337.9 639.8,337.1 643.8,335.7 659.8,327.4 663.8,325.9 667.8,324.9 671.8,324.4 707.8,324 711.8,324.3 715.8,325.1 719.8,326.4 723.8,328.1 727.8,328.5 731.8,329.8 735.8,332.1 743.8,331.9 747.8,332.4 751.8,333.3 L751.8,566 L107.5,566Z" fill="url(#r19)"/>
<path d="M107.5,343.3 151.6,340.9 155.6,339.9 171.6,332.4 175.6,330.9 179.6,330 183.6,329.6 195.6,330.5 207.6,332.7 211.6,333.9 215.6,335.5 219.6,336.5 223.6,334.7 227.6,334.4 251.6,337.7 259.6,337.9 271.6,336.8 275.6,337.1 279.6,338.9 283.6,337.1 287.6,334.9 291.6,333.3 295.6,332.4 323.6,329.5 347.6,329.5 351.6,329.7 355.7,330.6 359.7,332.3 371.7,338.9 375.7,340.7 379.7,341.5 387.7,341.7 391.7,341.3 395.7,340 399.7,337.8 411.7,329.9 415.7,328.1 419.7,327.2 423.7,326.8 431.7,324.2 435.7,323.2 451.7,321.3 487.7,322.2 495.7,322.9 507.7,322.7 515.7,321.3 559.7,320.5 579.8,321.3 587.8,321.2 591.8,321.6 595.8,322.4 599.8,322.4 603.8,323 607.8,324.4 611.8,326.5 623.8,334.3 627.8,336.3 631.8,337.6 635.8,337.9 639.8,337.1 643.8,335.7 659.8,327.4 663.8,325.9 667.8,324.9 671.8,324.4 707.8,324 711.8,324.3 715.8,325.1 719.8,326.4 723.8,328.1 727.8,328.5 731.8,329.8 735.8,332.1 743.8,331.9 747.8,332.4 751.8,333.3" class="ml"/>
<ellipse cx="237" cy="334" rx="14" ry="3" fill="#030820" opacity="0.7" filter="url(#b3)"/>
<path d="M107.6,346.5 143.6,344.7 147.6,344.1 151.6,342.6 163.6,335.5 167.6,333.5 171.6,332.3 179.6,331.8 207.6,334.9 215.6,336.2 219.6,337.4 223.6,337.8 227.6,337.6 255.6,341.1 271.7,340 275.7,340.2 279.7,340.9 283.7,338.4 287.7,336.8 319.7,332.4 355.7,332.7 359.7,333.7 363.7,335.5 375.7,342.6 379.7,344.3 383.7,345.1 391.7,344.8 395.7,344 399.7,342.4 415.7,332.7 419.7,331.1 423.7,330.4 435.7,329.2 439.7,328.4 447.7,326.3 455.7,325.2 471.7,325.4 483.7,326.5 503.8,326 511.8,324.6 555.8,323.2 575.8,324.4 591.8,324.3 595.8,324.9 607.8,330.2 619.8,337.3 623.8,338.9 635.8,340.1 639.8,338.5 651.8,331.3 655.8,329.3 659.8,328.1 695.8,326.6 719.8,327.3 723.8,328.3 727.9,329.9 735.9,334.2 751.9,334.3 L751.9,566 L107.6,566Z" fill="url(#r20)"/>
<path d="M107.6,346.5 143.6,344.7 147.6,344.1 151.6,342.6 163.6,335.5 167.6,333.5 171.6,332.3 179.6,331.8 207.6,334.9 215.6,336.2 219.6,337.4 223.6,337.8 227.6,337.6 255.6,341.1 271.7,340 275.7,340.2 279.7,340.9 283.7,338.4 287.7,336.8 319.7,332.4 355.7,332.7 359.7,333.7 363.7,335.5 375.7,342.6 379.7,344.3 383.7,345.1 391.7,344.8 395.7,344 399.7,342.4 415.7,332.7 419.7,331.1 423.7,330.4 435.7,329.2 439.7,328.4 447.7,326.3 455.7,325.2 471.7,325.4 483.7,326.5 503.8,326 511.8,324.6 555.8,323.2 575.8,324.4 591.8,324.3 595.8,324.9 607.8,330.2 619.8,337.3 623.8,338.9 635.8,340.1 639.8,338.5 651.8,331.3 655.8,329.3 659.8,328.1 695.8,326.6 719.8,327.3 723.8,328.3 727.9,329.9 735.9,334.2 751.9,334.3" class="ml"/>
<ellipse cx="174" cy="336" rx="20" ry="6" fill="#030820" opacity="0.6" filter="url(#b3)"/>
<ellipse cx="196" cy="338" rx="22" ry="5" fill="#030820" opacity="0.5" filter="url(#b3)"/>
<path d="M107.6,349.8 139.7,348.2 143.7,347.8 147.7,346.5 151.7,344.2 159.7,338.9 163.7,336.8 167.7,335.6 179.7,334.7 195.7,335.9 219.7,340.1 223.7,341.1 227.7,341.7 231.7,341.6 251.7,344.7 259.7,344.8 267.7,343.9 271.7,344 275.7,345.3 279.7,343.7 283.7,341.4 287.7,339.9 319.7,335.5 355.7,335.9 359.7,336.7 363.7,338.5 375.7,345.6 379.7,347.3 383.7,348.3 387.7,348.2 395.7,346.8 411.8,341.7 419.8,337.4 423.8,335.6 427.8,334.4 431.8,333.5 451.8,331.7 463.8,331.7 471.8,330.1 503.8,329.2 511.8,327.9 551.8,326.3 575.8,327.8 591.8,327.7 595.8,328.2 599.8,329.6 603.8,331.7 607.8,334.3 619.8,334.7 627.8,335.7 639.8,338.7 643.8,337.8 651.8,333 655.8,331.5 687.9,329.3 723.9,330.6 727.9,331.7 731.9,333.7 735.9,336.2 739.9,337 751.9,337.4 L751.9,566 L107.6,566Z" fill="url(#r21)"/>
<path d="M107.6,349.8 139.7,348.2 143.7,347.8 147.7,346.5 151.7,344.2 159.7,338.9 163.7,336.8 167.7,335.6 179.7,334.7 195.7,335.9 219.7,340.1 223.7,341.1 227.7,341.7 231.7,341.6 251.7,344.7 259.7,344.8 267.7,343.9 271.7,344 275.7,345.3 279.7,343.7 283.7,341.4 287.7,339.9 319.7,335.5 355.7,335.9 359.7,336.7 363.7,338.5 375.7,345.6 379.7,347.3 383.7,348.3 387.7,348.2 395.7,346.8 411.8,341.7 419.8,337.4 423.8,335.6 427.8,334.4 431.8,333.5 451.8,331.7 463.8,331.7 471.8,330.1 503.8,329.2 511.8,327.9 551.8,326.3 575.8,327.8 591.8,327.7 595.8,328.2 599.8,329.6 603.8,331.7 607.8,334.3 619.8,334.7 627.8,335.7 639.8,338.7 643.8,337.8 651.8,333 655.8,331.5 687.9,329.3 723.9,330.6 727.9,331.7 731.9,333.7 735.9,336.2 739.9,337 751.9,337.4" class="ml"/>
<path d="M548.6,232.5 L555.4,232.5 L563,325 L569.1,333.7 L553.7,335.5 L534.4,334.3 L540.5,325Z" fill="#33a0ee" class="pk"/><path d="M552,232.5 L555.4,232.5 L563,325 L569.1,333.7 L553.7,335.5Z" fill="#2a86c7" class="pk"/><path d="M548.6,232.5 L552,232.5 L552.6,269.6 L545.4,269 Z" fill="#a81410" class="pk"/>
<path d="M506,275 L514.5,328.3 L519.6,336.7 L508.8,338.5 L495.4,337.3 L500.1,328.3Z" fill="#2a80e6" class="pk"/><path d="M506,275 L514.5,328.3 L519.6,336.7 L508.8,338.5Z" fill="#236bc1" class="pk"/><path d="M506,274.5 L506.9,279.5 L505.1,279.5 Z" fill="#0a1238" fill-opacity="0.85"/>
<path d="M322.4,281.4 L327.8,330.6 L331.5,338.3 L323.3,340.1 L313,338.9 L316.7,330.6Z" fill="#2a80e6" class="pk"/><path d="M322.4,281.4 L327.8,330.6 L331.5,338.3 L323.3,340.1Z" fill="#236bc1" class="pk"/><path d="M322.4,280.9 L323.2,285.9 L321.6,285.9 Z" fill="#0a1238" fill-opacity="0.85"/>
<path d="M746.3,214 L748.6,250 L749,300 L748,345 L734,344 L716,349 L727,338 L735,322 L739,300 L738.5,276 Z" fill="#33a0ee" class="pk"/><path d="M746.3,214 L748.3,276 L738.5,276 Z" fill="#1c4aa6" class="pk"/><path d="M746.8,277 L748.6,300 L747,341 L734,338 L740,310 Z" fill="#3cc8f8" class="pk"/><path d="M746.3,214 L747.6,276 L747,341" class="rl"/>
<path d="M690,285.8 L697.5,333.7 L702.3,341.2 L691.7,343 L678.5,341.8 L683.2,333.7Z" fill="#36c8f3" class="pk"/><path d="M690,285.8 L697.5,333.7 L702.3,341.2 L691.7,343Z" fill="#2da8cc" class="pk"/><path d="M690,285.3 L691,290.3 L689,290.3 Z" fill="#0a1238" fill-opacity="0.85"/>
<path d="M107.7,353 139.7,351.5 143.7,351 147.7,349.5 159.7,341.8 163.7,339.8 167.7,338.8 179.7,337.9 195.7,339 219.7,343.3 223.7,344.3 231.7,348.2 235.7,347.5 239.7,347.3 263.7,349.5 267.7,350.3 271.7,351.6 275.7,351.3 283.7,345.8 287.8,343.8 291.8,342.6 319.8,339.3 351.8,339.2 355.8,339.7 363.8,342.7 375.8,349.1 379.8,350.8 383.8,350.8 391.8,347.6 407.8,339.8 415.8,336.7 423.8,334.5 435.8,332.8 447.8,332.2 455.8,332.6 463.8,334.2 467.8,335.5 471.8,334.1 475.8,333.5 503.8,333.1 507.8,332.7 511.8,331.6 555.8,330.3 575.8,331.4 587.8,331.2 591.8,331.4 595.8,332.4 599.8,332.5 611.9,331.4 623.9,331.8 631.9,333 639.9,335.1 647.9,338.2 651.9,336.3 655.9,334.8 687.9,332.6 699.9,332.8 711.9,332.4 719.9,333 727.9,334.3 735.9,336.6 743.9,339.8 747.9,340.8 751.9,340.9 L751.9,566 L107.7,566Z" fill="url(#r22)"/>
<path d="M107.7,353 139.7,351.5 143.7,351 147.7,349.5 159.7,341.8 163.7,339.8 167.7,338.8 179.7,337.9 195.7,339 219.7,343.3 223.7,344.3 231.7,348.2 235.7,347.5 239.7,347.3 263.7,349.5 267.7,350.3 271.7,351.6 275.7,351.3 283.7,345.8 287.8,343.8 291.8,342.6 319.8,339.3 351.8,339.2 355.8,339.7 363.8,342.7 375.8,349.1 379.8,350.8 383.8,350.8 391.8,347.6 407.8,339.8 415.8,336.7 423.8,334.5 435.8,332.8 447.8,332.2 455.8,332.6 463.8,334.2 467.8,335.5 471.8,334.1 475.8,333.5 503.8,333.1 507.8,332.7 511.8,331.6 555.8,330.3 575.8,331.4 587.8,331.2 591.8,331.4 595.8,332.4 599.8,332.5 611.9,331.4 623.9,331.8 631.9,333 639.9,335.1 647.9,338.2 651.9,336.3 655.9,334.8 687.9,332.6 699.9,332.8 711.9,332.4 719.9,333 727.9,334.3 735.9,336.6 743.9,339.8 747.9,340.8 751.9,340.9" class="ml"/>
<path d="M195.6,299 L201.2,338.1 L205.3,344.2 L196,346 L184.9,344.8 L189.1,338.1Z" fill="#2a80e6" class="pk"/><path d="M195.6,299 L201.2,338.1 L205.3,344.2 L196,346Z" fill="#35a8f0" class="pk"/><path d="M195.6,298.5 L196.6,303.5 L194.6,303.5 Z" fill="#0a1238" fill-opacity="0.85"/>
<path d="M107.7,356.3 143.8,354.5 147.8,353.6 151.8,351.7 163.8,344.4 167.8,342.7 171.8,341.8 179.8,341.4 207.8,344.5 219.8,346.8 223.8,348.4 227.8,350.9 235.8,356.9 239.8,357.4 267.8,360.2 271.8,359.7 287.8,349.6 291.8,347.6 295.8,346.2 299.8,345.3 323.8,342.9 343.8,342.6 359.8,344.7 363.8,345.8 379.8,352.7 383.8,351 399.8,341.4 407.8,338 411.8,336.8 419.8,335.6 455.8,333.5 463.8,333.7 467.8,334.3 471.8,335.4 475.8,336.9 479.8,337.5 483.8,337.1 507.9,337 511.9,336.7 515.9,335.4 519.9,334.7 559.9,334.4 575.9,335.2 587.9,334.9 615.9,333.1 635.9,333.4 639.9,333.9 643.9,334.8 647.9,336.1 655.9,339.3 659.9,338 675.9,336.9 683.9,335.1 727.9,334.1 731.9,334.4 735.9,335.1 739.9,336.2 747.9,339.6 751.9,341.8 L751.9,566 L107.7,566Z" fill="url(#r23)"/>
<path d="M107.7,356.3 143.8,354.5 147.8,353.6 151.8,351.7 163.8,344.4 167.8,342.7 171.8,341.8 179.8,341.4 207.8,344.5 219.8,346.8 223.8,348.4 227.8,350.9 235.8,356.9 239.8,357.4 267.8,360.2 271.8,359.7 287.8,349.6 291.8,347.6 295.8,346.2 299.8,345.3 323.8,342.9 343.8,342.6 359.8,344.7 363.8,345.8 379.8,352.7 383.8,351 399.8,341.4 407.8,338 411.8,336.8 419.8,335.6 455.8,333.5 463.8,333.7 467.8,334.3 471.8,335.4 475.8,336.9 479.8,337.5 483.8,337.1 507.9,337 511.9,336.7 515.9,335.4 519.9,334.7 559.9,334.4 575.9,335.2 587.9,334.9 615.9,333.1 635.9,333.4 639.9,333.9 643.9,334.8 647.9,336.1 655.9,339.3 659.9,338 675.9,336.9 683.9,335.1 727.9,334.1 731.9,334.4 735.9,335.1 739.9,336.2 747.9,339.6 751.9,341.8" class="ml"/>
<path d="M329.6,298.8 L334.8,340.3 L338.4,346.7 L330.5,348.5 L320.6,347.3 L324.2,340.3Z" fill="#33a0ee" class="pk"/><path d="M329.6,298.8 L334.8,340.3 L338.4,346.7 L330.5,348.5Z" fill="#2a86c7" class="pk"/><path d="M329.6,298.3 L330.5,303.3 L328.7,303.3 Z" fill="#0a1238" fill-opacity="0.85"/>
<path d="M107.8,359.5 147.8,357.5 151.8,356.8 155.8,355.3 167.8,349.1 171.8,347.2 175.8,346 179.8,345.3 183.8,345.3 207.8,348.3 211.8,349.3 215.8,350.7 219.8,352.7 235.8,362.6 239.8,364.3 247.8,366.1 255.8,366.8 271.8,364.6 275.8,363.4 283.8,359.8 299.8,351.6 311.8,348.3 335.8,346.2 363.9,346.3 367.9,347.1 371.9,348.4 379.9,352.5 383.9,350.8 391.9,345.3 395.9,343 399.9,341.2 403.9,340 451.9,336.4 471.9,337 475.9,337.5 483.9,339.6 511.9,340.4 515.9,341 519.9,340.7 523.9,339.6 531.9,338.3 563.9,338.5 575.9,339.3 607.9,336.1 643.9,336.5 647.9,336.8 651.9,337.8 655.9,339.3 659.9,341.4 663.9,342.5 671.9,339.1 675.9,338.1 715.9,336.7 739.9,337.3 743.9,338 747.9,339.3 751.9,341.2 L751.9,566 L107.8,566Z" fill="url(#r24)"/>
<path d="M107.8,359.5 147.8,357.5 151.8,356.8 155.8,355.3 167.8,349.1 171.8,347.2 175.8,346 179.8,345.3 183.8,345.3 207.8,348.3 211.8,349.3 215.8,350.7 219.8,352.7 235.8,362.6 239.8,364.3 247.8,366.1 255.8,366.8 271.8,364.6 275.8,363.4 283.8,359.8 299.8,351.6 311.8,348.3 335.8,346.2 363.9,346.3 367.9,347.1 371.9,348.4 379.9,352.5 383.9,350.8 391.9,345.3 395.9,343 399.9,341.2 403.9,340 451.9,336.4 471.9,337 475.9,337.5 483.9,339.6 511.9,340.4 515.9,341 519.9,340.7 523.9,339.6 531.9,338.3 563.9,338.5 575.9,339.3 607.9,336.1 643.9,336.5 647.9,336.8 651.9,337.8 655.9,339.3 659.9,341.4 663.9,342.5 671.9,339.1 675.9,338.1 715.9,336.7 739.9,337.3 743.9,338 747.9,339.3 751.9,341.2" class="ml"/>
<path d="M107.9,362.8 155.9,360.2 159.9,359.7 167.9,357.3 175.9,354.5 179.9,353.4 183.9,352.9 191.9,352.9 199.9,354 207.9,356.1 215.9,359.3 227.9,364.8 231.9,366.1 247.9,369.3 255.9,370 275.9,367.5 279.9,366.8 283.9,365.2 287.9,362.8 295.9,357 299.9,354.5 303.9,352.7 307.9,351.7 331.9,349.1 367.9,349.2 371.9,349.8 375.9,351.3 379.9,353.4 383.9,351.7 391.9,346.2 395.9,344.3 399.9,343.1 451.9,339.2 479.9,340.7 483.9,341.9 487.9,342.4 523.9,343.8 531.9,346.1 543.9,344.5 555.9,344.3 563.9,345.2 567.9,343.5 571.9,342.5 607.9,338.8 651.9,339.9 655.9,340.8 663.9,344 667.9,342.3 671.9,341.3 707.9,339.3 744,340.5 748,341.1 752,342.5 L752,566 L107.9,566Z" fill="url(#r25)"/>
<path d="M107.9,362.8 155.9,360.2 159.9,359.7 167.9,357.3 175.9,354.5 179.9,353.4 183.9,352.9 191.9,352.9 199.9,354 207.9,356.1 215.9,359.3 227.9,364.8 231.9,366.1 247.9,369.3 255.9,370 275.9,367.5 279.9,366.8 283.9,365.2 287.9,362.8 295.9,357 299.9,354.5 303.9,352.7 307.9,351.7 331.9,349.1 367.9,349.2 371.9,349.8 375.9,351.3 379.9,353.4 383.9,351.7 391.9,346.2 395.9,344.3 399.9,343.1 451.9,339.2 479.9,340.7 483.9,341.9 487.9,342.4 523.9,343.8 531.9,346.1 543.9,344.5 555.9,344.3 563.9,345.2 567.9,343.5 571.9,342.5 607.9,338.8 651.9,339.9 655.9,340.8 663.9,344 667.9,342.3 671.9,341.3 707.9,339.3 744,340.5 748,341.1 752,342.5" class="ml"/>
<path d="M107.9,366 179.9,361.9 191.9,362.4 247.9,372.5 255.9,373.2 275.9,370.8 279.9,369.9 283.9,368 295.9,359.6 299.9,357.2 303.9,355.6 335.9,351.8 367.9,352.4 371.9,352.7 375.9,354 379.9,354.8 383.9,353.9 387.9,351 391.9,348.6 395.9,346.9 399.9,346.2 439.9,342.6 459.9,342.4 479.9,343.9 487.9,345.1 527.9,347 531.9,348 535.9,349.8 544,355 552,354.8 560,349.8 564,347.7 568,346.3 572,345.6 612,341.3 652,343.1 656,343.6 660,345 664,346.8 668,345.2 672,344.5 708,342.1 748,344.1 752,345.3 L752,566 L107.9,566Z" fill="url(#r26)"/>
<path d="M107.9,366 179.9,361.9 191.9,362.4 247.9,372.5 255.9,373.2 275.9,370.8 279.9,369.9 283.9,368 295.9,359.6 299.9,357.2 303.9,355.6 335.9,351.8 367.9,352.4 371.9,352.7 375.9,354 379.9,354.8 383.9,353.9 387.9,351 391.9,348.6 395.9,346.9 399.9,346.2 439.9,342.6 459.9,342.4 479.9,343.9 487.9,345.1 527.9,347 531.9,348 535.9,349.8 544,355 552,354.8 560,349.8 564,347.7 568,346.3 572,345.6 612,341.3 652,343.1 656,343.6 660,345 664,346.8 668,345.2 672,344.5 708,342.1 748,344.1 752,345.3" class="ml"/>
<ellipse cx="287" cy="356" rx="32" ry="4" fill="#030820" opacity="0.75" filter="url(#b3)"/>
<path d="M337,301.7 L343.7,348.4 L348,355.7 L338.7,357.5 L327,356.3 L331.2,348.4Z" fill="#33a0ee" class="pk"/><path d="M337,301.7 L343.7,348.4 L348,355.7 L338.7,357.5Z" fill="#2a86c7" class="pk"/><path d="M337,301.2 L337.9,306.2 L336.1,306.2 Z" fill="#0a1238" fill-opacity="0.85"/>
<path d="M705.6,285.8 L718.9,344 L726.3,352.7 L710.7,354.5 L691.1,353.3 L697.7,344Z" fill="#33a0ee" class="pk"/><path d="M705.6,285.8 L718.9,344 L726.3,352.7 L710.7,354.5Z" fill="#2a86c7" class="pk"/><path d="M705.6,285.3 L706.7,290.3 L704.5,290.3 Z" fill="#0a1238" fill-opacity="0.85"/>
<path d="M435.5,268.7 L449.5,343 L456.1,351.7 L441.8,353.5 L423.9,352.3 L429.5,343Z" fill="#33a0ee" class="pk"/><path d="M435.5,268.7 L449.5,343 L456.1,351.7 L441.8,353.5Z" fill="#2a86c7" class="pk"/><path d="M435.5,268.2 L436.4,273.2 L434.6,273.2 Z" fill="#0a1238" fill-opacity="0.85"/>
<path d="M612,262 L622,343 L627.8,351.7 L614.2,353.5 L597.2,352.3 L602.9,343Z" fill="#33a0ee" class="pk"/><path d="M612,262 L622,343 L627.8,351.7 L614.2,353.5Z" fill="#2a86c7" class="pk"/><path d="M612,261.5 L612.8,266.5 L611.2,266.5 Z" fill="#0a1238" fill-opacity="0.85"/>
<path d="M108,369.3 176,365.5 184,365.8 252,376.3 260,376.2 280,373.4 284,371.9 288,369.7 300,361.5 304,359.5 308,358.3 332,355.8 368,355.9 372,356.7 376,358.3 384,357.4 392,352.3 396,350.5 400,349.5 452,345.8 480,347.3 484,348.2 492,348 528,350.2 532,350.9 536,352.5 548,360.5 552,359.2 560,353.7 564,351.5 568,350 572,349.1 608,345.3 652,346.5 656,347.2 660,348.7 664,350.9 668,349.1 672,348 708,346 744,347.1 748,347.8 752,349.3 L752,566 L108,566Z" fill="url(#r27)"/>
<path d="M108,369.3 176,365.5 184,365.8 252,376.3 260,376.2 280,373.4 284,371.9 288,369.7 300,361.5 304,359.5 308,358.3 332,355.8 368,355.9 372,356.7 376,358.3 384,357.4 392,352.3 396,350.5 400,349.5 452,345.8 480,347.3 484,348.2 492,348 528,350.2 532,350.9 536,352.5 548,360.5 552,359.2 560,353.7 564,351.5 568,350 572,349.1 608,345.3 652,346.5 656,347.2 660,348.7 664,350.9 668,349.1 672,348 708,346 744,347.1 748,347.8 752,349.3" class="ml"/>
<path d="M492.5,292.5 L498.8,348 L503,356.7 L493.7,358.5 L482,357.3 L486.2,348Z" fill="#2a80e6" class="pk"/><path d="M492.5,292.5 L498.8,348 L503,356.7 L493.7,358.5Z" fill="#236bc1" class="pk"/><path d="M492.5,292 L493.3,297 L491.7,297 Z" fill="#0a1238" fill-opacity="0.85"/>
<path d="M108,372.5 176.4,368.7 184.5,369.1 252.9,379.6 261,379.4 281.1,376.8 285.1,376 289.1,374.3 305.2,364.5 309.3,362.7 313.3,361.4 333.4,359.5 353.5,359 365.6,358.4 373.7,358.7 385.7,360.7 389.8,359 393.8,356.5 397.8,354.5 401.8,353.2 454.2,349.6 474.3,350.4 482.3,351.9 526.6,353.5 530.6,354.3 534.7,355.9 546.7,363.8 550.8,365.1 562.8,357.4 566.9,355.4 570.9,353.8 574.9,352.7 607.1,349.3 647.4,349.8 651.4,350.4 655.4,351.7 659.4,353.6 663.5,356 667.5,354.7 671.5,352.8 675.5,351.6 711.8,349.9 739.9,350.6 744,351.5 748,352.9 752,354.9 L752,566 L108,566Z" fill="url(#r28)"/>
<path d="M108,372.5 176.4,368.7 184.5,369.1 252.9,379.6 261,379.4 281.1,376.8 285.1,376 289.1,374.3 305.2,364.5 309.3,362.7 313.3,361.4 333.4,359.5 353.5,359 365.6,358.4 373.7,358.7 385.7,360.7 389.8,359 393.8,356.5 397.8,354.5 401.8,353.2 454.2,349.6 474.3,350.4 482.3,351.9 526.6,353.5 530.6,354.3 534.7,355.9 546.7,363.8 550.8,365.1 562.8,357.4 566.9,355.4 570.9,353.8 574.9,352.7 607.1,349.3 647.4,349.8 651.4,350.4 655.4,351.7 659.4,353.6 663.5,356 667.5,354.7 671.5,352.8 675.5,351.6 711.8,349.9 739.9,350.6 744,351.5 748,352.9 752,354.9" class="ml"/>
<ellipse cx="277" cy="361" rx="24" ry="4" fill="#030820" opacity="0.75" filter="url(#b3)"/>
<path d="M108.1,375.8 176.5,372 204.7,373.5 216.7,375.6 248.9,382.4 253,382.8 261,382.6 289.2,379.3 293.2,378.2 301.3,374.6 313.3,368.5 321.4,365.6 329.4,364 333.5,362.5 337.5,361.4 341.5,360.8 381.8,359.4 385.8,359.6 389.8,360.3 393.8,361.5 397.9,360.9 401.9,359 405.9,357.4 409.9,356.4 413.9,355.8 458.2,353.5 466.3,353.7 470.3,354.3 474.3,355.4 478.3,355.7 522.6,357 526.6,357.9 530.7,359.5 546.8,361 554.8,362.7 558.8,363.9 562.9,364.4 570.9,360.2 579,356.8 583,355.6 587,354.8 615.2,352.9 639.3,353.3 643.4,353.8 647.4,354.9 651.4,356.4 659.5,360.5 663.5,362.9 667.5,362.1 675.6,358.1 679.6,356.5 683.6,355.4 691.7,354.3 723.9,353.9 731.9,354.6 735.9,355.4 740,356.6 748,360.2 752,362.4 L752,566 L108.1,566Z" fill="url(#r29)"/>
<path d="M108.1,375.8 176.5,372 204.7,373.5 216.7,375.6 248.9,382.4 253,382.8 261,382.6 289.2,379.3 293.2,378.2 301.3,374.6 313.3,368.5 321.4,365.6 329.4,364 333.5,362.5 337.5,361.4 341.5,360.8 381.8,359.4 385.8,359.6 389.8,360.3 393.8,361.5 397.9,360.9 401.9,359 405.9,357.4 409.9,356.4 413.9,355.8 458.2,353.5 466.3,353.7 470.3,354.3 474.3,355.4 478.3,355.7 522.6,357 526.6,357.9 530.7,359.5 546.8,361 554.8,362.7 558.8,363.9 562.9,364.4 570.9,360.2 579,356.8 583,355.6 587,354.8 615.2,352.9 639.3,353.3 643.4,353.8 647.4,354.9 651.4,356.4 659.5,360.5 663.5,362.9 667.5,362.1 675.6,358.1 679.6,356.5 683.6,355.4 691.7,354.3 723.9,353.9 731.9,354.6 735.9,355.4 740,356.6 748,360.2 752,362.4" class="ml"/>
<path d="M108.1,379.1 164.5,375.9 168.5,375.4 184.6,371.3 192.6,370.2 200.7,370 208.7,370.8 216.8,372.7 224.8,375.8 240.9,383.3 245,384.7 253,386.1 261.1,385.8 297.3,381.9 301.3,380.8 305.3,378.8 321.4,367.9 325.4,365.9 329.5,364.6 389.8,362.1 393.9,362.3 397.9,363.1 401.9,364.7 405.9,365.3 414,362.2 422,360.3 450.2,358.1 458.3,358.5 466.3,360.3 470.3,360.2 478.4,359.6 506.5,360.1 514.6,360.6 522.6,359.8 550.8,360.5 558.9,361.7 562.9,363 570.9,366.6 575,366.8 583,362.9 591.1,359.9 599.1,358.2 615.2,357 627.3,357.6 635.3,358.9 643.4,361.3 663.5,370.5 667.5,370.5 683.6,363.9 691.7,361.6 699.7,360.2 707.8,359.7 715.8,359.9 723.9,360.9 731.9,362.8 752,370.5 L752,566 L108.1,566Z" fill="url(#r30)"/>
<path d="M108.1,379.1 164.5,375.9 168.5,375.4 184.6,371.3 192.6,370.2 200.7,370 208.7,370.8 216.8,372.7 224.8,375.8 240.9,383.3 245,384.7 253,386.1 261.1,385.8 297.3,381.9 301.3,380.8 305.3,378.8 321.4,367.9 325.4,365.9 329.5,364.6 389.8,362.1 393.9,362.3 397.9,363.1 401.9,364.7 405.9,365.3 414,362.2 422,360.3 450.2,358.1 458.3,358.5 466.3,360.3 470.3,360.2 478.4,359.6 506.5,360.1 514.6,360.6 522.6,359.8 550.8,360.5 558.9,361.7 562.9,363 570.9,366.6 575,366.8 583,362.9 591.1,359.9 599.1,358.2 615.2,357 627.3,357.6 635.3,358.9 643.4,361.3 663.5,370.5 667.5,370.5 683.6,363.9 691.7,361.6 699.7,360.2 707.8,359.7 715.8,359.9 723.9,360.9 731.9,362.8 752,370.5" class="ml"/>
<path d="M108.2,382.3 156.5,379.6 160.5,379 164.5,377.7 176.6,371.6 180.6,369.9 184.6,368.9 188.7,368.4 196.7,368.5 212.8,370.4 220.9,372.2 224.9,373.5 228.9,375.3 237,379.9 245,385.3 249,387.5 253.1,389 257.1,389.3 293.3,385.6 297.3,384.8 301.3,383 305.4,380.5 317.4,371.6 321.5,369.4 325.5,368 361.7,365.2 397.9,365.3 402,366.3 406,368.1 410,370.5 414,372.1 422.1,369.7 434.1,367.7 446.2,367 454.3,367.4 466.3,370 474.4,367.8 482.4,366.4 490.5,366 494.5,366.1 502.6,363.8 506.6,363.1 530.7,362.5 562.9,363.9 566.9,364.7 571,365.9 587.1,365.7 599.1,367.4 607.2,366 615.2,365.6 623.3,366.2 631.3,367.6 659.5,376.3 663.5,377 667.6,377.2 695.7,371.3 703.8,370.3 711.8,370.1 723.9,371.3 748,376.1 752.1,376.5 L752.1,566 L108.2,566Z" fill="url(#r31)"/>
<path d="M108.2,382.3 156.5,379.6 160.5,379 164.5,377.7 176.6,371.6 180.6,369.9 184.6,368.9 188.7,368.4 196.7,368.5 212.8,370.4 220.9,372.2 224.9,373.5 228.9,375.3 237,379.9 245,385.3 249,387.5 253.1,389 257.1,389.3 293.3,385.6 297.3,384.8 301.3,383 305.4,380.5 317.4,371.6 321.5,369.4 325.5,368 361.7,365.2 397.9,365.3 402,366.3 406,368.1 410,370.5 414,372.1 422.1,369.7 434.1,367.7 446.2,367 454.3,367.4 466.3,370 474.4,367.8 482.4,366.4 490.5,366 494.5,366.1 502.6,363.8 506.6,363.1 530.7,362.5 562.9,363.9 566.9,364.7 571,365.9 587.1,365.7 599.1,367.4 607.2,366 615.2,365.6 623.3,366.2 631.3,367.6 659.5,376.3 663.5,377 667.6,377.2 695.7,371.3 703.8,370.3 711.8,370.1 723.9,371.3 748,376.1 752.1,376.5" class="ml"/>
<path d="M108.2,385.6 152.5,383.1 156.5,382.2 160.5,380.3 172.6,372.9 176.6,371 180.7,370.1 208.8,372.6 229,376.3 233,377.4 237,379.3 241,381.9 249.1,388 253.1,390.6 257.1,392 261.1,392.3 293.3,388.8 297.4,387.9 301.4,386 317.5,374.4 321.5,372.3 325.5,371.1 361.7,368.1 398,368.5 402,369.3 406,371 418.1,378.6 422.1,380.2 438.2,378.4 450.3,378 458.3,378.5 466.4,379.5 478.4,377.2 490.5,369.7 494.5,367.8 498.6,366.6 530.8,365.2 558.9,366.5 575,368.4 595.1,367.2 599.2,367.4 603.2,368 607.2,369.3 611.2,369.7 619.3,368.9 627.3,369.1 635.4,370.1 647.5,373.1 663.5,378.4 671.6,380.2 675.6,380.6 715.9,379.4 752.1,379.8 L752.1,566 L108.2,566Z" fill="url(#r32)"/>
<path d="M108.2,385.6 152.5,383.1 156.5,382.2 160.5,380.3 172.6,372.9 176.6,371 180.7,370.1 208.8,372.6 229,376.3 233,377.4 237,379.3 241,381.9 249.1,388 253.1,390.6 257.1,392 261.1,392.3 293.3,388.8 297.4,387.9 301.4,386 317.5,374.4 321.5,372.3 325.5,371.1 361.7,368.1 398,368.5 402,369.3 406,371 418.1,378.6 422.1,380.2 438.2,378.4 450.3,378 458.3,378.5 466.4,379.5 478.4,377.2 490.5,369.7 494.5,367.8 498.6,366.6 530.8,365.2 558.9,366.5 575,368.4 595.1,367.2 599.2,367.4 603.2,368 607.2,369.3 611.2,369.7 619.3,368.9 627.3,369.1 635.4,370.1 647.5,373.1 663.5,378.4 671.6,380.2 675.6,380.6 715.9,379.4 752.1,379.8" class="ml"/>
<path d="M362.5,309.5 L370.3,364.1 L375.7,372.7 L363.5,374.5 L348.3,373.3 L353.9,364.1Z" fill="#36c8f3" class="pk"/><path d="M362.5,309.5 L370.3,364.1 L375.7,372.7 L363.5,374.5Z" fill="#2a80e6" class="pk"/><path d="M362.5,309 L363.5,314 L361.5,314 Z" fill="#0a1238" fill-opacity="0.85"/>
<path d="M108.3,388.8 148.5,386.7 152.6,386 156.6,384.3 168.6,376.4 172.7,374.2 176.7,373.1 184.7,373 208.9,375.2 237.1,381.3 241.1,383.2 253.1,392.2 257.2,394.3 261.2,395.3 281.3,392.9 285.3,391.8 305.5,383.3 313.5,380.9 321.6,376.4 325.6,374.8 329.6,374.1 390,371.8 398,372.2 402,373.4 406.1,375.4 418.1,383 422.1,385 426.2,386.3 430.2,386.6 466.4,384.8 470.4,383.8 474.5,382 486.5,374.2 490.5,371.9 494.6,370.3 498.6,369.6 534.8,367.9 571,371.1 595.2,370.1 599.2,369.6 607.2,367.9 615.3,367.1 631.4,367.1 639.4,368 647.5,369.8 655.5,372.7 671.6,380.3 675.6,381.8 679.7,383 683.7,383.3 752.1,383.1 L752.1,566 L108.3,566Z" fill="url(#r33)"/>
<path d="M108.3,388.8 148.5,386.7 152.6,386 156.6,384.3 168.6,376.4 172.7,374.2 176.7,373.1 184.7,373 208.9,375.2 237.1,381.3 241.1,383.2 253.1,392.2 257.2,394.3 261.2,395.3 281.3,392.9 285.3,391.8 305.5,383.3 313.5,380.9 321.6,376.4 325.6,374.8 329.6,374.1 390,371.8 398,372.2 402,373.4 406.1,375.4 418.1,383 422.1,385 426.2,386.3 430.2,386.6 466.4,384.8 470.4,383.8 474.5,382 486.5,374.2 490.5,371.9 494.6,370.3 498.6,369.6 534.8,367.9 571,371.1 595.2,370.1 599.2,369.6 607.2,367.9 615.3,367.1 631.4,367.1 639.4,368 647.5,369.8 655.5,372.7 671.6,380.3 675.6,381.8 679.7,383 683.7,383.3 752.1,383.1" class="ml"/>
<path d="M535,311 L542.7,368 L547.6,376.7 L536.8,378.5 L523.4,377.3 L528.2,368Z" fill="#2a80e6" class="pk"/><path d="M535,311 L542.7,368 L547.6,376.7 L536.8,378.5Z" fill="#236bc1" class="pk"/><path d="M535,310.5 L535.9,315.5 L534.1,315.5 Z" fill="#0a1238" fill-opacity="0.85"/>
<path d="M108.3,392.1 148.6,389.9 152.6,389.1 156.6,387.4 168.7,379.3 172.7,377.2 176.7,376.3 184.8,376.2 208.9,378.3 237.1,384.4 241.1,386.2 245.1,389 253.2,395.2 257.2,397.4 261.2,398.5 269.3,397.7 273.3,397 277.3,395.6 293.4,386.6 297.5,384.7 301.5,383.2 305.5,382.3 325.6,380.1 329.6,378.4 333.7,377.4 386,375.4 390,375.4 402.1,376.9 406.1,378.1 414.1,381.9 434.3,388.8 438.3,389.5 466.4,388.2 470.5,387.3 474.5,385.6 490.6,375.7 494.6,373.9 498.6,373 530.8,371.5 559,373.1 575.1,374 583.1,373.6 587.1,373.1 591.2,371.7 595.2,371 619.3,369.4 647.5,369.8 651.5,370.3 655.5,371.3 659.6,372.8 667.6,376.8 675.7,381.1 683.7,379.8 691.8,379.4 699.8,380 707.9,381.5 723.9,385.8 728,386.4 752.1,386.4 L752.1,566 L108.3,566Z" fill="url(#r34)"/>
<path d="M108.3,392.1 148.6,389.9 152.6,389.1 156.6,387.4 168.7,379.3 172.7,377.2 176.7,376.3 184.8,376.2 208.9,378.3 237.1,384.4 241.1,386.2 245.1,389 253.2,395.2 257.2,397.4 261.2,398.5 269.3,397.7 273.3,397 277.3,395.6 293.4,386.6 297.5,384.7 301.5,383.2 305.5,382.3 325.6,380.1 329.6,378.4 333.7,377.4 386,375.4 390,375.4 402.1,376.9 406.1,378.1 414.1,381.9 434.3,388.8 438.3,389.5 466.4,388.2 470.5,387.3 474.5,385.6 490.6,375.7 494.6,373.9 498.6,373 530.8,371.5 559,373.1 575.1,374 583.1,373.6 587.1,373.1 591.2,371.7 595.2,371 619.3,369.4 647.5,369.8 651.5,370.3 655.5,371.3 659.6,372.8 667.6,376.8 675.7,381.1 683.7,379.8 691.8,379.4 699.8,380 707.9,381.5 723.9,385.8 728,386.4 752.1,386.4" class="ml"/>
<path d="M204.4,330 L208.7,321.6 L211.5,330 L215.5,376 L206,382 L197,382.5 Z" fill="#2a80e6" class="pk"/><path d="M204.4,330 L211.5,330 L213,377.5 L203,381.5 Z" fill="#30c8f4" class="pk"/><path d="M211.5,330 L215.5,376 L213,377.5 Z" fill="#33a0ee" class="pk"/><path d="M204.6,329.6 L208.7,321.3 L211.6,329.8 Z" fill="#f0642a" class="pk"/>
<path d="M572.5,320 L579.7,373.3 L584.3,381.7 L574.3,383.5 L561.7,382.3 L566.2,373.3Z" fill="#33a0ee" class="pk"/><path d="M572.5,320 L579.7,373.3 L584.3,381.7 L574.3,383.5Z" fill="#2a86c7" class="pk"/><path d="M572.5,319.5 L573.4,324.5 L571.6,324.5 Z" fill="#0a1238" fill-opacity="0.85"/>
<path d="M108.4,395.3 152.7,392.8 156.7,391.5 160.7,389.3 172.8,381.7 176.8,380.1 180.8,379.6 209,382.1 233.1,386.9 237.1,388.4 241.2,390.8 253.2,399.7 257.3,401.4 261.3,402 269.3,400.7 273.4,399 289.4,388.7 293.5,387 297.5,386 321.6,383.3 333.7,382.8 345.8,380.7 394.1,379.5 406.1,380.2 410.1,381.1 414.2,381.3 418.2,381.8 422.2,382.9 430.3,386.4 438.3,390.4 442.3,391.8 446.4,392.5 458.4,391.6 478.5,387.4 482.6,386 490.6,381 494.6,378.9 498.7,377.3 502.7,376.4 530.8,375.4 575.1,377.1 579.1,376.8 587.2,374.8 615.3,372.1 655.6,372.9 659.6,373.4 663.6,374.7 667.6,376.5 671.7,378.9 703.9,378.6 707.9,378.9 711.9,379.6 715.9,380.8 732,387.9 736,389.2 740.1,389.8 752.1,389.7 L752.1,566 L108.4,566Z" fill="url(#r35)"/>
<path d="M108.4,395.3 152.7,392.8 156.7,391.5 160.7,389.3 172.8,381.7 176.8,380.1 180.8,379.6 209,382.1 233.1,386.9 237.1,388.4 241.2,390.8 253.2,399.7 257.3,401.4 261.3,402 269.3,400.7 273.4,399 289.4,388.7 293.5,387 297.5,386 321.6,383.3 333.7,382.8 345.8,380.7 394.1,379.5 406.1,380.2 410.1,381.1 414.2,381.3 418.2,381.8 422.2,382.9 430.3,386.4 438.3,390.4 442.3,391.8 446.4,392.5 458.4,391.6 478.5,387.4 482.6,386 490.6,381 494.6,378.9 498.7,377.3 502.7,376.4 530.8,375.4 575.1,377.1 579.1,376.8 587.2,374.8 615.3,372.1 655.6,372.9 659.6,373.4 663.6,374.7 667.6,376.5 671.7,378.9 703.9,378.6 707.9,378.9 711.9,379.6 715.9,380.8 732,387.9 736,389.2 740.1,389.8 752.1,389.7" class="ml"/>
<path d="M108.5,398.6 156.7,395.8 160.8,394.7 164.8,392.9 176.8,386.2 180.9,384.7 184.9,383.9 188.9,383.8 217.1,387.2 225.1,388.9 229.1,390.3 233.2,392.3 249.3,402.9 253.3,402.9 265.4,400.9 269.4,400.5 273.4,400.5 277.4,398.5 285.5,392.8 289.5,390.7 293.5,389.6 321.7,386 333.7,385.7 374,382.6 402.1,383.1 422.3,384.4 426.3,385 430.3,386.5 442.4,393.1 446.4,394.7 450.4,395.1 470.5,386.7 478.6,384.1 486.6,382.6 498.7,381.9 502.7,382 510.8,380 530.9,379.3 551,380.1 575.1,380 611.3,375.2 627.4,374.8 659.6,376.1 663.6,376.7 667.7,378 671.7,380.1 675.7,381.7 715.9,381.6 720,382.2 724,383.6 736.1,390.2 740.1,391.9 744.1,392.9 752.2,393 L752.2,566 L108.5,566Z" fill="url(#r36)"/>
<path d="M108.5,398.6 156.7,395.8 160.8,394.7 164.8,392.9 176.8,386.2 180.9,384.7 184.9,383.9 188.9,383.8 217.1,387.2 225.1,388.9 229.1,390.3 233.2,392.3 249.3,402.9 253.3,402.9 265.4,400.9 269.4,400.5 273.4,400.5 277.4,398.5 285.5,392.8 289.5,390.7 293.5,389.6 321.7,386 333.7,385.7 374,382.6 402.1,383.1 422.3,384.4 426.3,385 430.3,386.5 442.4,393.1 446.4,394.7 450.4,395.1 470.5,386.7 478.6,384.1 486.6,382.6 498.7,381.9 502.7,382 510.8,380 530.9,379.3 551,380.1 575.1,380 611.3,375.2 627.4,374.8 659.6,376.1 663.6,376.7 667.7,378 671.7,380.1 675.7,381.7 715.9,381.6 720,382.2 724,383.6 736.1,390.2 740.1,391.9 744.1,392.9 752.2,393" class="ml"/>
<ellipse cx="213" cy="388" rx="20" ry="6" fill="#030820" opacity="0.55" filter="url(#b3)"/>
<path d="M371,330 L378.7,379 L383.6,386.7 L372.8,388.5 L359.4,387.3 L364.2,379Z" fill="#33a0ee" class="pk"/><path d="M371,330 L378.7,379 L383.6,386.7 L372.8,388.5Z" fill="#2a86c7" class="pk"/><path d="M371,329.5 L372,334.5 L370,334.5 Z" fill="#0a1238" fill-opacity="0.85"/>
<path d="M578.7,322.5 L585.7,378 L590,386.7 L580.7,388.5 L569,387.3 L573.1,378Z" fill="#33a0ee" class="pk"/><path d="M578.7,322.5 L585.7,378 L590,386.7 L580.7,388.5Z" fill="#2a86c7" class="pk"/><path d="M578.7,322 L579.5,327 L577.9,327 Z" fill="#0a1238" fill-opacity="0.85"/>
<path d="M323.8,339.5 L330.7,383.8 L335.4,390.7 L325,392.5 L312.1,391.3 L316.8,383.8Z" fill="#33a0ee" class="pk"/><path d="M323.8,339.5 L330.7,383.8 L335.4,390.7 L325,392.5Z" fill="#2a86c7" class="pk"/><path d="M323.8,339 L324.8,344 L322.8,344 Z" fill="#0a1238" fill-opacity="0.85"/>
<path d="M108.5,401.8 164.8,398.4 168.8,397.4 180.9,393 189,391.2 197,390.6 205.1,391 213.1,392.3 221.1,394.8 229.2,398.5 237.2,402.9 241.3,402.1 249.3,399.7 265.4,397 273.4,396.5 277.5,397 281.5,398 289.5,394.1 293.6,392.9 321.7,389.4 337.8,389 341.8,388.4 390.1,386.1 418.3,387.1 426.3,387.7 430.3,388.7 434.4,390.4 442.4,395.2 446.4,397.2 450.5,395.8 462.5,388.5 466.5,386.6 470.6,385.1 474.6,384.3 494.7,383.8 510.8,382.3 526.9,382.4 534.9,383.1 539,383.8 563.1,383.5 575.2,383.7 591.3,380.6 619.4,377.6 663.7,379.7 667.7,380.9 675.7,384.7 691.8,383.8 720,384.9 724,385.7 728,387.4 740.1,394.4 744.1,395.8 748.1,396.3 752.2,396.3 L752.2,566 L108.5,566Z" fill="url(#r37)"/>
<path d="M108.5,401.8 164.8,398.4 168.8,397.4 180.9,393 189,391.2 197,390.6 205.1,391 213.1,392.3 221.1,394.8 229.2,398.5 237.2,402.9 241.3,402.1 249.3,399.7 265.4,397 273.4,396.5 277.5,397 281.5,398 289.5,394.1 293.6,392.9 321.7,389.4 337.8,389 341.8,388.4 390.1,386.1 418.3,387.1 426.3,387.7 430.3,388.7 434.4,390.4 442.4,395.2 446.4,397.2 450.5,395.8 462.5,388.5 466.5,386.6 470.6,385.1 474.6,384.3 494.7,383.8 510.8,382.3 526.9,382.4 534.9,383.1 539,383.8 563.1,383.5 575.2,383.7 591.3,380.6 619.4,377.6 663.7,379.7 667.7,380.9 675.7,384.7 691.8,383.8 720,384.9 724,385.7 728,387.4 740.1,394.4 744.1,395.8 748.1,396.3 752.2,396.3" class="ml"/>
<path d="M620,297.5 L630,378 L635.5,386.7 L622.6,388.5 L606.5,387.3 L611.8,378Z" fill="#33a0ee" class="pk"/><path d="M620,297.5 L630,378 L635.5,386.7 L622.6,388.5Z" fill="#2a86c7" class="pk"/><path d="M620,297 L620.8,302 L619.2,302 Z" fill="#0a1238" fill-opacity="0.85"/>
<path d="M395,342.5 L400.7,386.8 L404.4,393.7 L396.5,395.5 L386.6,394.3 L390.1,386.8Z" fill="#33a0ee" class="pk"/><path d="M395,342.5 L400.7,386.8 L404.4,393.7 L396.5,395.5Z" fill="#2a86c7" class="pk"/><path d="M395,342 L395.9,347 L394.1,347 Z" fill="#0a1238" fill-opacity="0.85"/>
<path d="M108.6,405.1 193,400.3 205.1,398.6 213.1,398.5 221.2,399.7 229.2,401.9 233.3,403.4 241.3,400.2 245.3,399.5 253.4,400 261.4,399.6 281.5,397.7 285.6,398.1 289.6,399 293.6,397.1 297.6,395.9 321.8,393.2 341.9,392.7 345.9,392.3 349.9,391.5 390.1,389.4 418.3,390.4 426.4,391.2 430.4,392.3 434.4,394.2 442.4,398.9 446.5,399 458.5,390.6 462.6,388.6 466.6,387.3 482.7,386.6 490.7,385.5 530.9,385.1 547,386.3 551.1,387.1 575.2,387.7 583.2,385.4 615.4,381.6 659.7,382.8 663.7,383.5 667.7,384.9 671.7,387.1 675.8,388.2 716,388.2 720,388.5 724,389.7 736.1,396.3 740.1,398.3 744.1,399.4 752.2,399.6 L752.2,566 L108.6,566Z" fill="url(#r38)"/>
<path d="M108.6,405.1 193,400.3 205.1,398.6 213.1,398.5 221.2,399.7 229.2,401.9 233.3,403.4 241.3,400.2 245.3,399.5 253.4,400 261.4,399.6 281.5,397.7 285.6,398.1 289.6,399 293.6,397.1 297.6,395.9 321.8,393.2 341.9,392.7 345.9,392.3 349.9,391.5 390.1,389.4 418.3,390.4 426.4,391.2 430.4,392.3 434.4,394.2 442.4,398.9 446.5,399 458.5,390.6 462.6,388.6 466.6,387.3 482.7,386.6 490.7,385.5 530.9,385.1 547,386.3 551.1,387.1 575.2,387.7 583.2,385.4 615.4,381.6 659.7,382.8 663.7,383.5 667.7,384.9 671.7,387.1 675.8,388.2 716,388.2 720,388.5 724,389.7 736.1,396.3 740.1,398.3 744.1,399.4 752.2,399.6" class="ml"/>
<ellipse cx="345" cy="395" rx="14" ry="3.5" fill="#030820" opacity="0.55" filter="url(#b3)"/>
<path d="M387.5,340 L393.8,386.4 L398,393.7 L388.7,395.5 L377,394.3 L381.2,386.4Z" fill="#33a0ee" class="pk"/><path d="M387.5,340 L393.8,386.4 L398,393.7 L388.7,395.5Z" fill="#2a86c7" class="pk"/><path d="M387.5,339.5 L388.4,344.5 L386.6,344.5 Z" fill="#0a1238" fill-opacity="0.85"/>
<path d="M108.6,408.3 173,404.5 177,403.6 193.1,398.2 197.1,397.3 201.1,396.8 209.2,396.9 225.3,399.4 237.3,402.5 241.4,401.7 253.4,402.8 273.5,400.9 285.6,400.6 289.6,400.8 293.6,402.4 297.7,401.9 301.7,400.2 305.7,399.1 313.8,397.7 333.9,396.5 341.9,396.9 350,398.6 354,396.8 358,395.5 390.2,393.2 414.3,393.7 422.4,394.7 426.4,395.8 430.4,397.5 438.5,402 442.5,403.3 446.5,400.8 454.5,394.7 458.6,392.3 462.6,390.7 478.7,389.6 482.7,388.8 522.9,387.6 555.1,389.9 559.1,390.9 575.2,391.6 579.2,391.3 583.3,389.5 587.3,388.3 615.4,385.5 655.7,386.3 659.7,387.1 663.7,388.5 671.8,392.2 708,391.7 712,392.1 716,393.1 720,394.6 732.1,400.4 736.1,401.9 740.1,402.8 752.2,402.9 L752.2,566 L108.6,566Z" fill="url(#r39)"/>
<path d="M108.6,408.3 173,404.5 177,403.6 193.1,398.2 197.1,397.3 201.1,396.8 209.2,396.9 225.3,399.4 237.3,402.5 241.4,401.7 253.4,402.8 273.5,400.9 285.6,400.6 289.6,400.8 293.6,402.4 297.7,401.9 301.7,400.2 305.7,399.1 313.8,397.7 333.9,396.5 341.9,396.9 350,398.6 354,396.8 358,395.5 390.2,393.2 414.3,393.7 422.4,394.7 426.4,395.8 430.4,397.5 438.5,402 442.5,403.3 446.5,400.8 454.5,394.7 458.6,392.3 462.6,390.7 478.7,389.6 482.7,388.8 522.9,387.6 555.1,389.9 559.1,390.9 575.2,391.6 579.2,391.3 583.3,389.5 587.3,388.3 615.4,385.5 655.7,386.3 659.7,387.1 663.7,388.5 671.8,392.2 708,391.7 712,392.1 716,393.1 720,394.6 732.1,400.4 736.1,401.9 740.1,402.8 752.2,402.9" class="ml"/>
<path d="M108.7,411.6 165,408.3 169,407.8 173,406.4 185.1,400.2 189.1,398.9 193.1,398.3 217.3,400.7 237.4,404.5 253.5,406 273.6,404.1 285.6,403.8 289.7,404 293.7,405.6 297.7,408.2 301.7,409 309.8,406.2 317.8,404.3 325.9,403.5 333.9,403.9 342,405.3 346,406.4 350,405.5 358,401.4 362.1,399.9 366.1,398.8 390.2,397 402.3,397 406.3,397.3 414.4,398.7 418.4,399.7 426.4,402.9 430.4,404.9 450.6,397 462.6,394 474.7,393.2 478.7,392.2 518.9,390.3 555.1,392.9 559.2,393.6 567.2,396.8 571.2,397.1 579.3,396.6 583.3,395.9 587.3,393.9 591.3,392.3 595.4,391.3 615.5,389.5 643.6,389.6 647.6,390.1 651.7,390.8 655.7,392 663.7,395.6 671.8,400.1 683.8,398 691.9,397.7 699.9,398.2 708,399.8 724.1,404.8 728.1,405.8 732.1,406.3 752.2,406.2 L752.2,566 L108.7,566Z" fill="url(#r40)"/>
<path d="M108.7,411.6 165,408.3 169,407.8 173,406.4 185.1,400.2 189.1,398.9 193.1,398.3 217.3,400.7 237.4,404.5 253.5,406 273.6,404.1 285.6,403.8 289.7,404 293.7,405.6 297.7,408.2 301.7,409 309.8,406.2 317.8,404.3 325.9,403.5 333.9,403.9 342,405.3 346,406.4 350,405.5 358,401.4 362.1,399.9 366.1,398.8 390.2,397 402.3,397 406.3,397.3 414.4,398.7 418.4,399.7 426.4,402.9 430.4,404.9 450.6,397 462.6,394 474.7,393.2 478.7,392.2 518.9,390.3 555.1,392.9 559.2,393.6 567.2,396.8 571.2,397.1 579.3,396.6 583.3,395.9 587.3,393.9 591.3,392.3 595.4,391.3 615.5,389.5 643.6,389.6 647.6,390.1 651.7,390.8 655.7,392 663.7,395.6 671.8,400.1 683.8,398 691.9,397.7 699.9,398.2 708,399.8 724.1,404.8 728.1,405.8 732.1,406.3 752.2,406.2" class="ml"/>
<path d="M510,359 L519.6,396.8 L526.1,402.7 L511.8,404.5 L493.9,403.3 L500.4,396.8Z" fill="#2a80e6" class="pk"/><path d="M510,359 L519.6,396.8 L526.1,402.7 L511.8,404.5Z" fill="#236bc1" class="pk"/><path d="M510,358.5 L511.5,363.5 L508.5,363.5 Z" fill="#0a1238" fill-opacity="0.85"/>
<path d="M497,338 L508.3,390.5 L514.8,398.7 L501.2,400.5 L484.2,399.3 L490,390.5Z" fill="#33a0ee" class="pk"/><path d="M497,338 L508.3,390.5 L514.8,398.7 L501.2,400.5Z" fill="#2a86c7" class="pk"/><path d="M497,337.5 L498.1,342.5 L495.9,342.5 Z" fill="#0a1238" fill-opacity="0.85"/>
<path d="M545,347.5 L552.7,394.4 L557.6,401.7 L546.8,403.5 L533.4,402.3 L538.2,394.4Z" fill="#33a0ee" class="pk"/><path d="M545,347.5 L552.7,394.4 L557.6,401.7 L546.8,403.5Z" fill="#2a86c7" class="pk"/><path d="M545,347 L546,352 L544,352 Z" fill="#0a1238" fill-opacity="0.85"/>
<path d="M518.7,331.4 L527.8,391 L533.8,399.7 L520.2,401.5 L503.2,400.3 L509.3,391Z" fill="#33a0ee" class="pk"/><path d="M518.7,331.4 L527.8,391 L533.8,399.7 L520.2,401.5Z" fill="#2a86c7" class="pk"/><path d="M518.7,330.9 L519.7,335.9 L517.7,335.9 Z" fill="#0a1238" fill-opacity="0.85"/>
<path d="M108.7,414.8 165,411.5 169.1,410.4 173.1,408.3 181.1,403.4 185.1,401.7 189.2,401 217.3,403.4 241.4,408.4 253.5,409.7 261.6,409.2 277.6,407.6 285.7,407.6 289.7,408.9 301.8,416 305.8,416.4 317.9,414.3 325.9,413.6 346,414.3 354.1,411.6 366.1,406.8 374.2,404.4 382.2,403.1 390.3,402.6 398.3,403.2 406.3,404.9 418.4,408.7 434.5,400.5 442.5,397.4 450.6,395.2 458.6,394 482.8,394.1 490.8,394.9 519,393.6 555.2,396.2 559.2,397 567.2,400.3 579.3,401.5 583.3,402.7 587.3,402.4 595.4,398.7 603.4,396.3 611.5,394.7 619.5,394.1 631.6,394.5 639.6,395.6 647.7,397.7 671.8,407.7 675.8,409 679.8,409.1 691.9,408.5 716,409.8 752.2,409.5 L752.2,566 L108.7,566Z" fill="url(#r41)"/>
<path d="M108.7,414.8 165,411.5 169.1,410.4 173.1,408.3 181.1,403.4 185.1,401.7 189.2,401 217.3,403.4 241.4,408.4 253.5,409.7 261.6,409.2 277.6,407.6 285.7,407.6 289.7,408.9 301.8,416 305.8,416.4 317.9,414.3 325.9,413.6 346,414.3 354.1,411.6 366.1,406.8 374.2,404.4 382.2,403.1 390.3,402.6 398.3,403.2 406.3,404.9 418.4,408.7 434.5,400.5 442.5,397.4 450.6,395.2 458.6,394 482.8,394.1 490.8,394.9 519,393.6 555.2,396.2 559.2,397 567.2,400.3 579.3,401.5 583.3,402.7 587.3,402.4 595.4,398.7 603.4,396.3 611.5,394.7 619.5,394.1 631.6,394.5 639.6,395.6 647.7,397.7 671.8,407.7 675.8,409 679.8,409.1 691.9,408.5 716,409.8 752.2,409.5" class="ml"/>
<ellipse cx="242" cy="406" rx="15" ry="5" fill="#030820" opacity="0.75" filter="url(#b3)"/>
<ellipse cx="268" cy="406" rx="22" ry="4.5" fill="#030820" opacity="0.8" filter="url(#b3)"/>
<path d="M108.8,418.1 165.1,414.8 169.1,413.6 173.1,411.5 181.2,406.6 185.2,404.9 189.2,404.2 217.4,406.6 245.5,412.6 249.5,414 253.6,414.4 269.6,412.4 273.7,412.3 277.7,412.7 281.7,413.6 293.8,418.9 297.8,420.3 301.8,420.8 354.1,418 382.3,413.2 390.3,412.8 398.3,413.2 406.4,414.5 410.4,412.6 426.5,403.1 430.5,401.3 434.5,399.9 438.6,399 462.7,396.5 498.9,397.5 502.9,398 527,397.7 551.2,399.4 555.2,400 559.2,401.3 563.2,403.5 571.3,404.7 579.3,407 587.4,410.5 591.4,410.5 603.5,406.4 611.5,404.6 619.5,403.8 627.6,404 635.6,405 659.8,411.4 679.9,413.6 752.3,412.8 L752.3,566 L108.8,566Z" fill="url(#r42)"/>
<path d="M108.8,418.1 165.1,414.8 169.1,413.6 173.1,411.5 181.2,406.6 185.2,404.9 189.2,404.2 217.4,406.6 245.5,412.6 249.5,414 253.6,414.4 269.6,412.4 273.7,412.3 277.7,412.7 281.7,413.6 293.8,418.9 297.8,420.3 301.8,420.8 354.1,418 382.3,413.2 390.3,412.8 398.3,413.2 406.4,414.5 410.4,412.6 426.5,403.1 430.5,401.3 434.5,399.9 438.6,399 462.7,396.5 498.9,397.5 502.9,398 527,397.7 551.2,399.4 555.2,400 559.2,401.3 563.2,403.5 571.3,404.7 579.3,407 587.4,410.5 591.4,410.5 603.5,406.4 611.5,404.6 619.5,403.8 627.6,404 635.6,405 659.8,411.4 679.9,413.6 752.3,412.8" class="ml"/>
<path d="M218.2,362.8 L223.5,402.5 L227.1,408.7 L219.2,410.5 L209.3,409.3 L212.9,402.5Z" fill="#33a0ee" class="pk"/><path d="M218.2,362.8 L223.5,402.5 L227.1,408.7 L219.2,410.5Z" fill="#2a86c7" class="pk"/><path d="M218.2,362.3 L219.1,367.3 L217.3,367.3 Z" fill="#0a1238" fill-opacity="0.85"/>
<path d="M108.8,421.3 165.1,418.1 169.2,417.5 173.2,416 185.2,409.8 189.3,408.5 193.3,408 217.4,410.4 241.5,415.1 245.6,416.6 249.6,418.8 257.6,423.8 265.7,422.6 269.7,422.3 273.7,422.4 285.8,424.4 301.9,422.9 394.4,419.9 398.4,419.3 402.4,417.9 406.4,415.8 418.5,407.9 422.5,405.6 426.5,403.7 430.6,402.6 462.7,399.2 507,400.8 511,401.5 531.1,401.7 547.2,403 551.2,403.9 555.2,405.4 559.2,407.5 563.3,408.5 579.4,414.9 583.4,414 587.4,411.8 591.4,410.3 595.4,409.4 603.5,408.8 607.5,409 611.5,409.7 615.5,411 623.6,414.5 635.7,415.2 643.7,411.1 647.7,409.5 651.7,408.5 659.8,407.6 667.8,408.1 671.8,409 675.9,410.5 683.9,414.4 687.9,416 692,416.7 752.3,416 L752.3,566 L108.8,566Z" fill="url(#r43)"/>
<path d="M108.8,421.3 165.1,418.1 169.2,417.5 173.2,416 185.2,409.8 189.3,408.5 193.3,408 217.4,410.4 241.5,415.1 245.6,416.6 249.6,418.8 257.6,423.8 265.7,422.6 269.7,422.3 273.7,422.4 285.8,424.4 301.9,422.9 394.4,419.9 398.4,419.3 402.4,417.9 406.4,415.8 418.5,407.9 422.5,405.6 426.5,403.7 430.6,402.6 462.7,399.2 507,400.8 511,401.5 531.1,401.7 547.2,403 551.2,403.9 555.2,405.4 559.2,407.5 563.3,408.5 579.4,414.9 583.4,414 587.4,411.8 591.4,410.3 595.4,409.4 603.5,408.8 607.5,409 611.5,409.7 615.5,411 623.6,414.5 635.7,415.2 643.7,411.1 647.7,409.5 651.7,408.5 659.8,407.6 667.8,408.1 671.8,409 675.9,410.5 683.9,414.4 687.9,416 692,416.7 752.3,416" class="ml"/>
<path d="M108.9,424.6 173.2,420.7 177.2,419.7 193.3,414.2 197.4,413.3 201.4,412.9 209.4,413.2 225.5,415.6 233.5,417.5 237.6,419 241.6,420.9 253.7,428.2 257.7,429.9 261.7,430.1 277.8,423.8 285.8,421.5 293.9,420.2 301.9,419.7 310,420.2 334.1,424.6 394.4,423 398.4,422 402.4,420.2 418.5,409.6 422.5,407.5 426.6,406 430.6,405.5 446.7,404.1 462.8,402 474.8,402 511,404.2 515,405.1 531.1,405.9 539.2,407.3 547.2,409.8 555.3,413.4 563.3,417.9 567.3,419.4 571.3,420.3 579.4,414.9 583.4,413.2 595.5,411.4 615.6,410.6 619.6,411.3 623.6,413.4 627.6,416.2 631.7,416.7 635.7,413.8 639.7,411.5 643.7,410.4 675.9,409.9 679.9,410.8 683.9,412.9 692,418.3 696,419.8 752.3,419.3 L752.3,566 L108.9,566Z" fill="url(#r44)"/>
<path d="M108.9,424.6 173.2,420.7 177.2,419.7 193.3,414.2 197.4,413.3 201.4,412.9 209.4,413.2 225.5,415.6 233.5,417.5 237.6,419 241.6,420.9 253.7,428.2 257.7,429.9 261.7,430.1 277.8,423.8 285.8,421.5 293.9,420.2 301.9,419.7 310,420.2 334.1,424.6 394.4,423 398.4,422 402.4,420.2 418.5,409.6 422.5,407.5 426.6,406 430.6,405.5 446.7,404.1 462.8,402 474.8,402 511,404.2 515,405.1 531.1,405.9 539.2,407.3 547.2,409.8 555.3,413.4 563.3,417.9 567.3,419.4 571.3,420.3 579.4,414.9 583.4,413.2 595.5,411.4 615.6,410.6 619.6,411.3 623.6,413.4 627.6,416.2 631.7,416.7 635.7,413.8 639.7,411.5 643.7,410.4 675.9,409.9 679.9,410.8 683.9,412.9 692,418.3 696,419.8 752.3,419.3" class="ml"/>
<ellipse cx="385" cy="415" rx="18" ry="4" fill="#030820" opacity="0.5" filter="url(#b3)"/>
<path d="M108.9,427.8 177.3,423.9 185.3,423.8 205.4,421.1 213.5,421.1 221.5,422.2 229.6,424.5 249.7,433.2 253.7,432.5 257.7,430.9 269.8,424.2 273.8,422.4 281.8,419.9 293.9,418.2 306,417.5 314,417.9 322.1,419.6 338.1,425.9 342.2,427.1 346.2,427.8 394.4,426.2 398.5,425.2 402.5,423.4 418.6,412.8 422.6,410.7 426.6,409.3 462.8,405.3 470.8,405.1 511,407.5 515.1,408.4 519.1,410.1 523.1,412.5 527.1,413.9 535.2,415.4 563.3,425.6 567.3,424.3 575.4,418.7 579.4,417 595.5,414.2 611.6,413.5 619.6,413.8 623.6,414.7 627.7,417.2 631.7,417.7 635.7,415 639.7,413.7 659.8,412.4 679.9,413.1 684,414.1 688,416.7 692,419.8 696,422.3 700,423.2 752.3,422.6 L752.3,566 L108.9,566Z" fill="url(#r45)"/>
<path d="M108.9,427.8 177.3,423.9 185.3,423.8 205.4,421.1 213.5,421.1 221.5,422.2 229.6,424.5 249.7,433.2 253.7,432.5 257.7,430.9 269.8,424.2 273.8,422.4 281.8,419.9 293.9,418.2 306,417.5 314,417.9 322.1,419.6 338.1,425.9 342.2,427.1 346.2,427.8 394.4,426.2 398.5,425.2 402.5,423.4 418.6,412.8 422.6,410.7 426.6,409.3 462.8,405.3 470.8,405.1 511,407.5 515.1,408.4 519.1,410.1 523.1,412.5 527.1,413.9 535.2,415.4 563.3,425.6 567.3,424.3 575.4,418.7 579.4,417 595.5,414.2 611.6,413.5 619.6,413.8 623.6,414.7 627.7,417.2 631.7,417.7 635.7,415 639.7,413.7 659.8,412.4 679.9,413.1 684,414.1 688,416.7 692,419.8 696,422.3 700,423.2 752.3,422.6" class="ml"/>
<path d="M474,296 L480.6,403 L486.1,411.7 L471.8,413.5 L453.9,412.3 L460,403Z" fill="#33a0ee" class="pk"/><path d="M474,296 L480.6,403 L486.1,411.7 L471.8,413.5Z" fill="#2a86c7" class="pk"/><path d="M474,296 L473.2,301.8 L473.9,301.9 Z" fill="#e8231a" class="pk"/><path d="M474,295.5 L474.7,300.5 L473.3,300.5 Z" fill="#0a1238" fill-opacity="0.85"/>
<path d="M109,431.1 177.3,427.2 217.6,430.9 237.7,435 241.7,435.5 245.7,435 249.7,433.8 253.7,432 265.8,425.3 269.8,423.8 273.8,422.9 318.1,419.2 322.1,419.3 326.1,420 330.1,421.3 346.2,428.6 350.2,430 354.3,430.9 394.5,429.7 398.5,428.9 402.5,427.5 406.5,425.4 418.6,417.4 422.6,415.2 426.6,413.5 430.7,412.4 462.8,409.2 507.1,410.7 511.1,411.3 515.1,412.7 519.1,414.7 535.2,425.4 547.3,428.2 559.3,429.8 563.4,429.7 567.4,428.1 575.4,422.6 579.4,420.5 595.5,417.7 611.6,417 619.6,417.2 623.7,418.4 627.7,421.1 631.7,421.5 635.7,418.7 639.7,417.1 659.9,416 680,416.5 684,417.9 692,423.6 696,425.9 700.1,426.5 752.3,425.9 L752.3,566 L109,566Z" fill="url(#r46)"/>
<path d="M109,431.1 177.3,427.2 217.6,430.9 237.7,435 241.7,435.5 245.7,435 249.7,433.8 253.7,432 265.8,425.3 269.8,423.8 273.8,422.9 318.1,419.2 322.1,419.3 326.1,420 330.1,421.3 346.2,428.6 350.2,430 354.3,430.9 394.5,429.7 398.5,428.9 402.5,427.5 406.5,425.4 418.6,417.4 422.6,415.2 426.6,413.5 430.7,412.4 462.8,409.2 507.1,410.7 511.1,411.3 515.1,412.7 519.1,414.7 535.2,425.4 547.3,428.2 559.3,429.8 563.4,429.7 567.4,428.1 575.4,422.6 579.4,420.5 595.5,417.7 611.6,417 619.6,417.2 623.7,418.4 627.7,421.1 631.7,421.5 635.7,418.7 639.7,417.1 659.9,416 680,416.5 684,417.9 692,423.6 696,425.9 700.1,426.5 752.3,425.9" class="ml"/>
<path d="M109,434.4 177.4,430.4 237.7,438.1 241.7,437.6 245.7,436.4 261.8,428.4 265.9,427.1 298,423.1 326.2,421.9 330.2,422.4 342.2,426.6 354.3,432.8 358.3,433.9 398.5,432.8 402.6,432.1 406.6,430.6 426.7,419.2 430.7,417.5 434.7,416.3 462.9,413.1 499,414 503.1,414.4 507.1,415.2 511.1,416.7 519.2,421 531.2,428.4 535.2,430.4 539.3,431.8 543.3,432.3 559.4,432.8 567.4,433.4 571.4,431.7 579.5,426.4 583.5,424.1 587.5,422.7 607.6,420.9 611.6,420.7 615.6,421.2 619.7,422.6 623.7,425 627.7,426 631.7,425.8 635.8,425.3 639.8,422.8 643.8,421.1 647.8,420.4 671.9,419.9 676,420.5 680,422.1 688,427 692,429.1 696.1,429.8 752.3,429.2 L752.3,566 L109,566Z" fill="url(#r47)"/>
<path d="M109,434.4 177.4,430.4 237.7,438.1 241.7,437.6 245.7,436.4 261.8,428.4 265.9,427.1 298,423.1 326.2,421.9 330.2,422.4 342.2,426.6 354.3,432.8 358.3,433.9 398.5,432.8 402.6,432.1 406.6,430.6 426.7,419.2 430.7,417.5 434.7,416.3 462.9,413.1 499,414 503.1,414.4 507.1,415.2 511.1,416.7 519.2,421 531.2,428.4 535.2,430.4 539.3,431.8 543.3,432.3 559.4,432.8 567.4,433.4 571.4,431.7 579.5,426.4 583.5,424.1 587.5,422.7 607.6,420.9 611.6,420.7 615.6,421.2 619.7,422.6 623.7,425 627.7,426 631.7,425.8 635.8,425.3 639.8,422.8 643.8,421.1 647.8,420.4 671.9,419.9 676,420.5 680,422.1 688,427 692,429.1 696.1,429.8 752.3,429.2" class="ml"/>
<ellipse cx="279" cy="424" rx="19" ry="4" fill="#030820" opacity="0.7" filter="url(#b3)"/>
<path d="M109.1,437.6 177.4,433.7 233.7,440.9 237.8,441 241.8,440.3 245.8,438.7 257.9,432.6 261.9,431 294,426.2 326.2,425.1 330.2,425.2 342.3,428.5 346.3,430.4 354.3,435 358.4,436.7 362.4,437.3 402.6,436.2 406.6,435.8 410.6,434.7 418.7,431.1 434.8,423.1 442.8,420.3 450.8,418.4 462.9,417.1 487,417.4 495.1,418.5 503.1,420.7 511.1,424.3 527.2,432.6 531.2,433.3 547.3,431.1 555.4,430.7 559.4,430.9 575.5,434.1 579.5,434.5 583.5,433.3 587.5,431.2 591.6,429.6 595.6,428.5 599.6,427.9 603.6,427.8 615.7,423.9 623.7,422.4 631.8,421.9 639.8,422.2 647.8,423.4 659.9,426.5 663.9,426.6 667.9,427.2 676,429.7 684,432.4 696.1,431 704.1,430.9 724.2,432.7 752.4,432.5 L752.4,566 L109.1,566Z" fill="url(#r48)"/>
<path d="M109.1,437.6 177.4,433.7 233.7,440.9 237.8,441 241.8,440.3 245.8,438.7 257.9,432.6 261.9,431 294,426.2 326.2,425.1 330.2,425.2 342.3,428.5 346.3,430.4 354.3,435 358.4,436.7 362.4,437.3 402.6,436.2 406.6,435.8 410.6,434.7 418.7,431.1 434.8,423.1 442.8,420.3 450.8,418.4 462.9,417.1 487,417.4 495.1,418.5 503.1,420.7 511.1,424.3 527.2,432.6 531.2,433.3 547.3,431.1 555.4,430.7 559.4,430.9 575.5,434.1 579.5,434.5 583.5,433.3 587.5,431.2 591.6,429.6 595.6,428.5 599.6,427.9 603.6,427.8 615.7,423.9 623.7,422.4 631.8,421.9 639.8,422.2 647.8,423.4 659.9,426.5 663.9,426.6 667.9,427.2 676,429.7 684,432.4 696.1,431 704.1,430.9 724.2,432.7 752.4,432.5" class="ml"/>
<path d="M298.7,372.5 L303.1,420.2 L307.1,427.7 L297.5,429.5 L285.4,428.3 L290.1,420.2Z" fill="#33a0ee" class="pk"/><path d="M298.7,372.5 L303.1,420.2 L307.1,427.7 L297.5,429.5Z" fill="#2a86c7" class="pk"/><path d="M298.7,372.5 L297.8,412.4 L302.3,411.4 Z" fill="#e8231a" class="pk"/><path d="M298.7,372 L299.6,377 L297.8,377 Z" fill="#0a1238" fill-opacity="0.85"/>
<path d="M310,387 L314.8,425.3 L318.1,431.2 L310.9,433 L301.9,431.8 L305.2,425.3Z" fill="#33a0ee" class="pk"/><path d="M310,387 L314.8,425.3 L318.1,431.2 L310.9,433Z" fill="#2a86c7" class="pk"/><path d="M310,386.5 L310.9,391.5 L309.1,391.5 Z" fill="#0a1238" fill-opacity="0.85"/>
<path d="M109.2,440.9 177.5,436.9 237.8,444.5 241.8,443.9 245.8,442.6 261.9,434.7 265.9,433.5 298.1,429.6 326.2,428.4 330.3,428.8 334.3,430.1 338.3,430.9 342.3,432 354.4,438.6 358.4,440.1 362.4,440.6 410.7,439.6 414.7,439.2 422.7,437.1 450.9,426.2 458.9,424 462.9,423.4 471,423.1 479,423.6 487.1,424.9 503.1,427.9 511.2,430.2 519.2,433.2 523.2,433.7 531.3,430.6 539.3,428.4 547.4,427.2 555.4,426.9 559.4,427.1 587.6,432.9 591.6,432.6 599.6,427.9 603.6,426 607.7,424.5 611.7,423.4 615.7,422.7 647.9,422.5 655.9,423.4 659.9,424.4 668,427.6 676,431.7 688.1,428 696.1,426.7 704.1,426.6 712.2,427.6 720.2,429.9 732.3,434.4 736.3,435.4 740.3,435.9 752.4,435.8 L752.4,566 L109.2,566Z" fill="url(#r49)"/>
<path d="M109.2,440.9 177.5,436.9 237.8,444.5 241.8,443.9 245.8,442.6 261.9,434.7 265.9,433.5 298.1,429.6 326.2,428.4 330.3,428.8 334.3,430.1 338.3,430.9 342.3,432 354.4,438.6 358.4,440.1 362.4,440.6 410.7,439.6 414.7,439.2 422.7,437.1 450.9,426.2 458.9,424 462.9,423.4 471,423.1 479,423.6 487.1,424.9 503.1,427.9 511.2,430.2 519.2,433.2 523.2,433.7 531.3,430.6 539.3,428.4 547.4,427.2 555.4,426.9 559.4,427.1 587.6,432.9 591.6,432.6 599.6,427.9 603.6,426 607.7,424.5 611.7,423.4 615.7,422.7 647.9,422.5 655.9,423.4 659.9,424.4 668,427.6 676,431.7 688.1,428 696.1,426.7 704.1,426.6 712.2,427.6 720.2,429.9 732.3,434.4 736.3,435.4 740.3,435.9 752.4,435.8" class="ml"/>
<path d="M109.2,444.1 177.6,440.2 237.8,448 241.9,448.2 245.9,447.6 249.9,446.2 266,437.9 270,436.5 314.2,432.4 322.3,432.1 326.3,432.7 330.3,434 334.3,434.6 338.3,435.8 350.4,441.7 354.4,443.2 358.4,443.9 406.7,442.7 438.8,439.4 442.9,437.7 454.9,430.6 458.9,428.9 463,427.7 467,427 503.2,427.1 511.2,428.2 515.2,429.4 519.2,430.9 523.3,431.5 527.3,429.8 531.3,428.4 535.3,427.7 543.4,427.3 559.4,427.9 575.5,429.7 583.6,430 587.6,430.7 591.6,431.8 595.6,429.5 599.6,427.8 603.7,426.7 619.7,425.3 659.9,425.5 664,425.9 668,427.1 672,428.8 676,429.3 680,428 684.1,427.2 712.2,426.5 716.2,426.7 720.2,427.4 724.3,428.6 728.3,430.4 740.3,437 744.4,438.5 748.4,439.1 752.4,439.1 L752.4,566 L109.2,566Z" fill="url(#r50)"/>
<path d="M109.2,444.1 177.6,440.2 237.8,448 241.9,448.2 245.9,447.6 249.9,446.2 266,437.9 270,436.5 314.2,432.4 322.3,432.1 326.3,432.7 330.3,434 334.3,434.6 338.3,435.8 350.4,441.7 354.4,443.2 358.4,443.9 406.7,442.7 438.8,439.4 442.9,437.7 454.9,430.6 458.9,428.9 463,427.7 467,427 503.2,427.1 511.2,428.2 515.2,429.4 519.2,430.9 523.3,431.5 527.3,429.8 531.3,428.4 535.3,427.7 543.4,427.3 559.4,427.9 575.5,429.7 583.6,430 587.6,430.7 591.6,431.8 595.6,429.5 599.6,427.8 603.7,426.7 619.7,425.3 659.9,425.5 664,425.9 668,427.1 672,428.8 676,429.3 680,428 684.1,427.2 712.2,426.5 716.2,426.7 720.2,427.4 724.3,428.6 728.3,430.4 740.3,437 744.4,438.5 748.4,439.1 752.4,439.1" class="ml"/>
<path d="M109.3,447.4 153.5,444.8 173.6,442.1 181.6,442.2 201.7,445.8 245.9,452.5 250,452.2 254,451.3 258,449.5 270.1,442.9 274.1,441.2 282.1,439 306.2,436.8 314.3,437 318.3,437.5 334.4,441.7 346.4,446.2 350.4,447.1 390.6,446.1 398.7,444.7 418.8,438.5 426.8,436.7 446.9,434.6 450.9,432.6 455,431.1 463,430 515.3,430.3 519.3,430.9 523.3,431.2 527.3,430.2 555.5,430.3 575.6,432.5 587.6,431.5 591.6,431.8 615.8,428.4 635.8,427.7 668,428.9 672,430 676,430.4 704.2,429.1 724.3,429.7 728.3,430.3 732.3,432 744.4,439.6 748.4,441.5 752.4,442.4 L752.4,566 L109.3,566Z" fill="url(#r51)"/>
<path d="M109.3,447.4 153.5,444.8 173.6,442.1 181.6,442.2 201.7,445.8 245.9,452.5 250,452.2 254,451.3 258,449.5 270.1,442.9 274.1,441.2 282.1,439 306.2,436.8 314.3,437 318.3,437.5 334.4,441.7 346.4,446.2 350.4,447.1 390.6,446.1 398.7,444.7 418.8,438.5 426.8,436.7 446.9,434.6 450.9,432.6 455,431.1 463,430 515.3,430.3 519.3,430.9 523.3,431.2 527.3,430.2 555.5,430.3 575.6,432.5 587.6,431.5 591.6,431.8 615.8,428.4 635.8,427.7 668,428.9 672,430 676,430.4 704.2,429.1 724.3,429.7 728.3,430.3 732.3,432 744.4,439.6 748.4,441.5 752.4,442.4" class="ml"/>
<path d="M109.3,450.6 137.5,449.1 141.5,448.4 161.6,441.4 169.6,439.5 173.6,438.9 177.7,438.8 181.7,439.1 185.7,439.8 193.7,442.5 209.8,449.3 213.8,450.5 250,456.7 254,457 258,456.6 262.1,455.4 278.1,448.9 286.2,446.6 294.2,445.2 302.3,444.8 310.3,445.3 334.4,450 342.5,450.8 382.6,449.6 386.7,448.8 390.7,447.5 410.8,438.1 418.8,435.6 426.9,434.4 455,433 487.2,432.2 519.3,432.7 527.3,433.1 555.5,433.1 563.5,433.9 571.6,435.1 575.6,435.4 591.7,434.2 595.7,434.1 619.8,431.2 631.9,430.5 668,432 676.1,433.5 700.2,431.8 728.3,432.9 732.3,433.9 736.4,435.9 744.4,441.6 748.4,444 752.4,445.4 L752.4,566 L109.3,566Z" fill="url(#r52)"/>
<path d="M109.3,450.6 137.5,449.1 141.5,448.4 161.6,441.4 169.6,439.5 173.6,438.9 177.7,438.8 181.7,439.1 185.7,439.8 193.7,442.5 209.8,449.3 213.8,450.5 250,456.7 254,457 258,456.6 262.1,455.4 278.1,448.9 286.2,446.6 294.2,445.2 302.3,444.8 310.3,445.3 334.4,450 342.5,450.8 382.6,449.6 386.7,448.8 390.7,447.5 410.8,438.1 418.8,435.6 426.9,434.4 455,433 487.2,432.2 519.3,432.7 527.3,433.1 555.5,433.1 563.5,433.9 571.6,435.1 575.6,435.4 591.7,434.2 595.7,434.1 619.8,431.2 631.9,430.5 668,432 676.1,433.5 700.2,431.8 728.3,432.9 732.3,433.9 736.4,435.9 744.4,441.6 748.4,444 752.4,445.4" class="ml"/>
<ellipse cx="300" cy="440" rx="14" ry="3.5" fill="#030820" opacity="0.6" filter="url(#b3)"/>
<path d="M633.7,377 L640.9,430.3 L646.3,438.7 L633.9,440.5 L618.4,439.3 L624.2,430.3Z" fill="#33a0ee" class="pk"/><path d="M633.7,377 L640.9,430.3 L646.3,438.7 L633.9,440.5Z" fill="#2a86c7" class="pk"/><path d="M633.7,376.5 L634.7,381.5 L632.7,381.5 Z" fill="#0a1238" fill-opacity="0.85"/>
<path d="M109.4,453.9 129.5,452.8 133.5,452 137.5,450.4 149.6,443.9 153.6,442.2 157.6,440.9 165.6,439.5 177.7,438.8 185.7,439.3 193.8,440.9 197.8,442.2 201.8,444 209.9,448.8 213.9,450.1 242,458.4 254.1,460.4 258.1,460.5 270.1,459.3 290.2,455.8 302.3,454.9 326.4,454.8 338.5,454 362.6,450.1 374.6,449.4 386.7,449.7 402.8,440.3 406.8,438.5 410.8,437.3 414.8,436.7 443,436.5 463.1,435.2 475.1,435.5 487.2,435.1 527.4,435.9 555.5,436 559.5,436.2 571.6,438.3 575.6,438.7 591.7,437.5 595.7,437.5 615.8,435 639.9,434.5 668.1,435.6 672.1,436.8 676.1,436.9 700.2,435.4 728.3,436.4 732.4,437.6 736.4,439.8 744.4,445.3 748.4,447.6 752.5,448.8 L752.5,566 L109.4,566Z" fill="url(#r53)"/>
<path d="M109.4,453.9 129.5,452.8 133.5,452 137.5,450.4 149.6,443.9 153.6,442.2 157.6,440.9 165.6,439.5 177.7,438.8 185.7,439.3 193.8,440.9 197.8,442.2 201.8,444 209.9,448.8 213.9,450.1 242,458.4 254.1,460.4 258.1,460.5 270.1,459.3 290.2,455.8 302.3,454.9 326.4,454.8 338.5,454 362.6,450.1 374.6,449.4 386.7,449.7 402.8,440.3 406.8,438.5 410.8,437.3 414.8,436.7 443,436.5 463.1,435.2 475.1,435.5 487.2,435.1 527.4,435.9 555.5,436 559.5,436.2 571.6,438.3 575.6,438.7 591.7,437.5 595.7,437.5 615.8,435 639.9,434.5 668.1,435.6 672.1,436.8 676.1,436.9 700.2,435.4 728.3,436.4 732.4,437.6 736.4,439.8 744.4,445.3 748.4,447.6 752.5,448.8" class="ml"/>
<path d="M486,380 L492.7,433.3 L497.3,441.7 L487.3,443.5 L474.7,442.3 L479.3,433.3Z" fill="#2a80e6" class="pk"/><path d="M486,380 L492.7,433.3 L497.3,441.7 L487.3,443.5Z" fill="#236bc1" class="pk"/><path d="M486,379.5 L486.9,384.5 L485.1,384.5 Z" fill="#0a1238" fill-opacity="0.85"/>
<path d="M557.5,379.5 L564.7,433.2 L569.3,441.7 L559.3,443.5 L546.7,442.3 L551.2,433.2Z" fill="#33a0ee" class="pk"/><path d="M557.5,379.5 L564.7,433.2 L569.3,441.7 L559.3,443.5Z" fill="#2a86c7" class="pk"/><path d="M557.5,379 L558.4,384 L556.6,384 Z" fill="#0a1238" fill-opacity="0.85"/>
<path d="M109.4,457.1 125.5,456.3 129.5,455.2 133.5,453.2 141.6,448 145.6,445.8 149.6,444.2 173.7,441.7 181.8,441.7 201.9,444.7 209.9,445.6 217.9,447.4 226,450.2 246.1,460.6 250.1,462.4 254.1,463.5 258.1,463.8 322.4,458.2 326.5,457.5 350.6,448.8 358.6,446.8 366.6,445.7 374.7,445.3 382.7,445.9 390.8,447.4 398.8,442.5 402.8,440.8 406.8,439.8 447,439 463.1,438.1 479.2,438.6 523.4,438.7 559.6,440.1 571.6,442 575.6,442.3 591.7,440.9 595.7,441.3 599.8,441.2 603.8,440.1 619.8,438.5 660,438.8 664.1,439.4 672.1,442.2 676.1,440.8 704.2,439.3 720.3,439.6 724.3,440.1 728.4,441.4 732.4,443.4 740.4,448.5 744.4,450.6 748.5,451.9 752.5,452.3 L752.5,566 L109.4,566Z" fill="url(#r54)"/>
<path d="M109.4,457.1 125.5,456.3 129.5,455.2 133.5,453.2 141.6,448 145.6,445.8 149.6,444.2 173.7,441.7 181.8,441.7 201.9,444.7 209.9,445.6 217.9,447.4 226,450.2 246.1,460.6 250.1,462.4 254.1,463.5 258.1,463.8 322.4,458.2 326.5,457.5 350.6,448.8 358.6,446.8 366.6,445.7 374.7,445.3 382.7,445.9 390.8,447.4 398.8,442.5 402.8,440.8 406.8,439.8 447,439 463.1,438.1 479.2,438.6 523.4,438.7 559.6,440.1 571.6,442 575.6,442.3 591.7,440.9 595.7,441.3 599.8,441.2 603.8,440.1 619.8,438.5 660,438.8 664.1,439.4 672.1,442.2 676.1,440.8 704.2,439.3 720.3,439.6 724.3,440.1 728.4,441.4 732.4,443.4 740.4,448.5 744.4,450.6 748.5,451.9 752.5,452.3" class="ml"/>
<path d="M567,400 L574.7,441.3 L579.6,447.7 L568.8,449.5 L555.4,448.3 L560.2,441.3Z" fill="#33a0ee" class="pk"/><path d="M567,400 L574.7,441.3 L579.6,447.7 L568.8,449.5Z" fill="#2a86c7" class="pk"/><path d="M567,399.5 L568.1,404.5 L565.9,404.5 Z" fill="#0a1238" fill-opacity="0.85"/>
<path d="M535,398 L542.7,441.9 L547.6,448.7 L536.8,450.5 L523.4,449.3 L528.2,441.9Z" fill="#33a0ee" class="pk"/><path d="M535,398 L542.7,441.9 L547.6,448.7 L536.8,450.5Z" fill="#2a86c7" class="pk"/><path d="M535,397.5 L536.1,402.5 L533.9,402.5 Z" fill="#0a1238" fill-opacity="0.85"/>
<path d="M109.5,460.4 121.5,459.9 125.6,459.2 129.6,457.5 141.6,449.7 145.7,447.9 173.8,444.4 177.8,444.2 181.8,444.5 189.9,443.9 222,447.9 230,450.1 234.1,451.8 242.1,456.6 250.1,462.2 254.2,464.6 258.2,466.2 262.2,466.7 286.3,464.3 310.4,458.2 318.5,456.9 326.5,456.5 330.5,455.2 338.6,450.8 342.6,449.1 346.6,447.7 354.6,446 382.8,444.8 390.8,445.3 394.8,446.1 402.9,443.2 463.1,441.1 479.2,441.8 499.3,441.1 551.6,442.9 559.6,443.8 571.6,445.8 575.7,446.1 587.7,445.1 591.7,445.6 599.8,448.3 607.8,444.7 611.8,443.6 615.9,442.8 644,442.3 652,442.9 660.1,444.8 668.1,448 672.1,450 680.2,446.7 684.2,445.4 692.2,444 704.3,443.6 712.3,444.2 716.3,445 720.3,446.2 736.4,453.5 740.4,454.9 744.5,455.6 752.5,455.5 L752.5,566 L109.5,566Z" fill="url(#r55)"/>
<path d="M109.5,460.4 121.5,459.9 125.6,459.2 129.6,457.5 141.6,449.7 145.7,447.9 173.8,444.4 177.8,444.2 181.8,444.5 189.9,443.9 222,447.9 230,450.1 234.1,451.8 242.1,456.6 250.1,462.2 254.2,464.6 258.2,466.2 262.2,466.7 286.3,464.3 310.4,458.2 318.5,456.9 326.5,456.5 330.5,455.2 338.6,450.8 342.6,449.1 346.6,447.7 354.6,446 382.8,444.8 390.8,445.3 394.8,446.1 402.9,443.2 463.1,441.1 479.2,441.8 499.3,441.1 551.6,442.9 559.6,443.8 571.6,445.8 575.7,446.1 587.7,445.1 591.7,445.6 599.8,448.3 607.8,444.7 611.8,443.6 615.9,442.8 644,442.3 652,442.9 660.1,444.8 668.1,448 672.1,450 680.2,446.7 684.2,445.4 692.2,444 704.3,443.6 712.3,444.2 716.3,445 720.3,446.2 736.4,453.5 740.4,454.9 744.5,455.6 752.5,455.5" class="ml"/>
<ellipse cx="201" cy="451" rx="14" ry="4.5" fill="#030820" opacity="0.7" filter="url(#b3)"/>
<ellipse cx="228" cy="451" rx="12" ry="4" fill="#030820" opacity="0.75" filter="url(#b3)"/>
<path d="M497.5,382 L504.7,438 L509.3,446.7 L499.3,448.5 L486.7,447.3 L491.2,438Z" fill="#33a0ee" class="pk"/><path d="M497.5,382 L504.7,438 L509.3,446.7 L499.3,448.5Z" fill="#2a86c7" class="pk"/><path d="M497.5,381.5 L498.4,386.5 L496.6,386.5 Z" fill="#0a1238" fill-opacity="0.85"/>
<path d="M176.2,408 L183.2,447.6 L187.8,453.7 L177.8,455.5 L165.2,454.3 L169.7,447.6Z" fill="#33a0ee" class="pk"/><path d="M176.2,408 L183.2,447.6 L187.8,453.7 L177.8,455.5Z" fill="#36c8f3" class="pk"/><path d="M176.2,407.5 L177.3,412.5 L175.1,412.5 Z" fill="#0a1238" fill-opacity="0.85"/>
<path d="M440,381 L451.3,440 L457.5,448.7 L444.6,450.5 L428.5,449.3 L433.9,440Z" fill="#33a0ee" class="pk"/><path d="M440,381 L451.3,440 L457.5,448.7 L444.6,450.5Z" fill="#2a86c7" class="pk"/><path d="M440,380.5 L441,385.5 L439,385.5 Z" fill="#0a1238" fill-opacity="0.85"/>
<path d="M109.5,463.6 121.6,463.1 125.6,462.5 129.6,460.9 141.7,453.2 145.7,451.3 149.7,450.3 173.8,447.6 177.9,446.3 181.9,446 214,449.3 234.1,453 238.1,454.2 242.1,456.2 254.2,464.8 258.2,467.3 262.2,468.8 266.3,469.5 270.3,469.2 274.3,468.5 278.3,467.3 298.4,458.3 306.4,455.6 314.5,453.8 322.5,452.9 330.6,452.9 334.6,452 338.6,450.3 342.6,449.3 390.8,447.5 398.9,447.7 402.9,446.5 463.2,444.5 479.2,445.3 527.5,445.6 547.6,445.5 559.6,446.9 571.7,449.1 575.7,449.5 583.7,449.1 587.7,449.8 591.8,451.4 599.8,455.8 603.8,455.5 611.9,452.2 619.9,450.1 627.9,449.1 636,449.1 644,449.9 652,451.5 672.1,458 676.2,458.1 688.2,454.8 696.3,453.6 704.3,453.5 712.3,454.5 728.4,458.3 732.4,458.9 752.5,458.8 L752.5,566 L109.5,566Z" fill="url(#r56)"/>
<path d="M109.5,463.6 121.6,463.1 125.6,462.5 129.6,460.9 141.7,453.2 145.7,451.3 149.7,450.3 173.8,447.6 177.9,446.3 181.9,446 214,449.3 234.1,453 238.1,454.2 242.1,456.2 254.2,464.8 258.2,467.3 262.2,468.8 266.3,469.5 270.3,469.2 274.3,468.5 278.3,467.3 298.4,458.3 306.4,455.6 314.5,453.8 322.5,452.9 330.6,452.9 334.6,452 338.6,450.3 342.6,449.3 390.8,447.5 398.9,447.7 402.9,446.5 463.2,444.5 479.2,445.3 527.5,445.6 547.6,445.5 559.6,446.9 571.7,449.1 575.7,449.5 583.7,449.1 587.7,449.8 591.8,451.4 599.8,455.8 603.8,455.5 611.9,452.2 619.9,450.1 627.9,449.1 636,449.1 644,449.9 652,451.5 672.1,458 676.2,458.1 688.2,454.8 696.3,453.6 704.3,453.5 712.3,454.5 728.4,458.3 732.4,458.9 752.5,458.8" class="ml"/>
<ellipse cx="207" cy="452" rx="30" ry="5" fill="#030820" opacity="0.5" filter="url(#b3)"/>
<ellipse cx="147" cy="452" rx="16" ry="5" fill="#030820" opacity="0.8" filter="url(#b3)"/>
<path d="M546,389.5 L552.7,443.2 L557.3,451.7 L547.3,453.5 L534.7,452.3 L539.3,443.2Z" fill="#33a0ee" class="pk"/><path d="M546,389.5 L552.7,443.2 L557.3,451.7 L547.3,453.5Z" fill="#2a86c7" class="pk"/><path d="M546,389 L546.9,394 L545.1,394 Z" fill="#0a1238" fill-opacity="0.85"/>
<path d="M109.6,466.9 125.7,466.1 129.7,465.3 133.7,463.5 145.8,456.3 149.8,454.5 153.8,453.4 165.8,452.2 173.9,449.5 181.9,449 206,450.8 238.2,456.9 242.2,458.1 246.2,460.1 258.3,468.8 262.3,470.9 266.3,472.2 270.3,471.2 290.4,459.8 294.4,458.1 298.5,456.8 322.6,454 334.6,453.3 338.6,452.5 374.8,450.3 402.9,450.7 406.9,449.7 443.1,449.4 463.2,448.1 483.3,449.1 543.6,449.1 559.6,450.4 571.7,452.6 575.7,453 583.8,452.9 587.8,453.9 591.8,455.6 603.9,462.2 607.9,463 619.9,460.5 632,459.6 644,460.3 664.1,463.1 752.5,462.1 L752.5,566 L109.6,566Z" fill="url(#r57)"/>
<path d="M109.6,466.9 125.7,466.1 129.7,465.3 133.7,463.5 145.8,456.3 149.8,454.5 153.8,453.4 165.8,452.2 173.9,449.5 181.9,449 206,450.8 238.2,456.9 242.2,458.1 246.2,460.1 258.3,468.8 262.3,470.9 266.3,472.2 270.3,471.2 290.4,459.8 294.4,458.1 298.5,456.8 322.6,454 334.6,453.3 338.6,452.5 374.8,450.3 402.9,450.7 406.9,449.7 443.1,449.4 463.2,448.1 483.3,449.1 543.6,449.1 559.6,450.4 571.7,452.6 575.7,453 583.8,452.9 587.8,453.9 591.8,455.6 603.9,462.2 607.9,463 619.9,460.5 632,459.6 644,460.3 664.1,463.1 752.5,462.1" class="ml"/>
<ellipse cx="293" cy="458" rx="25" ry="3.5" fill="#030820" opacity="0.7" filter="url(#b3)"/>
<path d="M109.6,470.1 129.7,469.1 133.8,468.6 137.8,467.4 153.8,459.8 161.9,457.2 165.9,456.1 169.9,453.9 173.9,452.6 182,452.2 206.1,453.8 238.2,460.1 242.2,461.1 246.3,463.1 254.3,468.9 258.3,470.6 266.4,468.5 270.4,467.9 274.4,467.7 278.4,466.5 282.4,463.9 286.4,461.8 290.5,460.4 322.6,456.7 334.7,456.1 370.8,453.1 403,454.2 407,454.6 415,453.2 443.2,453.4 463.2,451.9 471.3,452.2 479.3,453.9 491.4,453 511.5,453.2 515.5,453.6 531.6,452.7 555.7,453.8 579.8,457.3 583.8,458.2 587.8,459.6 599.9,465.5 603.9,466.9 607.9,467.6 752.5,465.4 L752.5,566 L109.6,566Z" fill="url(#r58)"/>
<path d="M109.6,470.1 129.7,469.1 133.8,468.6 137.8,467.4 153.8,459.8 161.9,457.2 165.9,456.1 169.9,453.9 173.9,452.6 182,452.2 206.1,453.8 238.2,460.1 242.2,461.1 246.3,463.1 254.3,468.9 258.3,470.6 266.4,468.5 270.4,467.9 274.4,467.7 278.4,466.5 282.4,463.9 286.4,461.8 290.5,460.4 322.6,456.7 334.7,456.1 370.8,453.1 403,454.2 407,454.6 415,453.2 443.2,453.4 463.2,451.9 471.3,452.2 479.3,453.9 491.4,453 511.5,453.2 515.5,453.6 531.6,452.7 555.7,453.8 579.8,457.3 583.8,458.2 587.8,459.6 599.9,465.5 603.9,466.9 607.9,467.6 752.5,465.4" class="ml"/>
<path d="M207.5,402 L218.1,451 L225.1,458.7 L209.7,460.5 L190.4,459.3 L197.4,451Z" fill="#35aef2" class="pk"/><path d="M207.5,402 L218.1,451 L225.1,458.7 L209.7,460.5Z" fill="#36c8f3" class="pk"/><path d="M207.5,401.5 L208.8,406.5 L206.2,406.5 Z" fill="#0a1238" fill-opacity="0.85"/>
<path d="M371,398 L380.6,450.5 L387.1,458.7 L372.8,460.5 L354.9,459.3 L361.4,450.5Z" fill="#33a0ee" class="pk"/><path d="M371,398 L380.6,450.5 L387.1,458.7 L372.8,460.5Z" fill="#2a86c7" class="pk"/><path d="M371,397.5 L372.2,402.5 L369.8,402.5 Z" fill="#0a1238" fill-opacity="0.85"/>
<path d="M109.7,473.4 141.8,471.5 149.9,469.8 153.9,468.6 157.9,466.3 165.9,460.7 170,458.3 174,456.5 178,455.7 206.1,457.7 238.3,463.5 242.3,465.1 250.3,469.8 254.3,468.9 278.5,466.5 282.5,465.4 286.5,463.9 318.6,459.7 378.9,456.8 403,457.6 407,458.2 411,459.8 415.1,459.9 423.1,458.2 455.2,456.6 463.3,457 467.3,457.8 475.3,460.6 479.3,462.4 483.4,462.2 491.4,461.1 499.4,460.8 507.5,461.3 511.5,461.8 519.5,458.5 523.5,457.5 531.6,456.5 555.7,457.7 559.7,458.1 567.7,460.3 595.9,470.1 599.9,471.1 603.9,471.4 656.1,470.3 660.2,470 684.3,464.6 692.3,463.6 700.3,463.6 708.4,464.6 728.5,468.6 752.6,468.7 L752.6,566 L109.7,566Z" fill="url(#r59)"/>
<path d="M109.7,473.4 141.8,471.5 149.9,469.8 153.9,468.6 157.9,466.3 165.9,460.7 170,458.3 174,456.5 178,455.7 206.1,457.7 238.3,463.5 242.3,465.1 250.3,469.8 254.3,468.9 278.5,466.5 282.5,465.4 286.5,463.9 318.6,459.7 378.9,456.8 403,457.6 407,458.2 411,459.8 415.1,459.9 423.1,458.2 455.2,456.6 463.3,457 467.3,457.8 475.3,460.6 479.3,462.4 483.4,462.2 491.4,461.1 499.4,460.8 507.5,461.3 511.5,461.8 519.5,458.5 523.5,457.5 531.6,456.5 555.7,457.7 559.7,458.1 567.7,460.3 595.9,470.1 599.9,471.1 603.9,471.4 656.1,470.3 660.2,470 684.3,464.6 692.3,463.6 700.3,463.6 708.4,464.6 728.5,468.6 752.6,468.7" class="ml"/>
<path d="M109.8,476.6 149.9,474.3 153.9,473.4 158,471.8 174,462.2 178.1,460.5 182.1,459.6 186.1,459.4 222.2,463.9 230.3,465.4 234.3,466.7 238.3,468.6 242.3,471 250.4,470.8 258.4,471.1 278.5,469.2 282.5,468.5 286.5,467 318.7,462.8 342.8,462.3 391,460.5 399,460.9 403,461.7 407.1,463.3 419.1,464.6 423.1,465.4 427.2,466.8 447.2,465.3 455.3,465.3 463.3,466.3 467.3,467.4 479.4,467.2 487.4,468.1 499.5,471.2 507.5,471.8 511.5,470.7 523.6,466.1 531.6,464.1 539.6,463.4 547.7,463.6 555.7,464.7 559.7,465.7 575.8,472.3 583.8,474.2 591.9,475.4 595.9,475.5 620,473.9 648.1,473.6 652.1,472.7 668.2,465.6 676.2,462.9 684.3,461.6 700.4,461 708.4,461.4 716.4,462.8 724.5,465.7 736.5,470.7 740.5,471.7 744.5,472.1 752.6,472 L752.6,566 L109.8,566Z" fill="url(#r60)"/>
<path d="M109.8,476.6 149.9,474.3 153.9,473.4 158,471.8 174,462.2 178.1,460.5 182.1,459.6 186.1,459.4 222.2,463.9 230.3,465.4 234.3,466.7 238.3,468.6 242.3,471 250.4,470.8 258.4,471.1 278.5,469.2 282.5,468.5 286.5,467 318.7,462.8 342.8,462.3 391,460.5 399,460.9 403,461.7 407.1,463.3 419.1,464.6 423.1,465.4 427.2,466.8 447.2,465.3 455.3,465.3 463.3,466.3 467.3,467.4 479.4,467.2 487.4,468.1 499.5,471.2 507.5,471.8 511.5,470.7 523.6,466.1 531.6,464.1 539.6,463.4 547.7,463.6 555.7,464.7 559.7,465.7 575.8,472.3 583.8,474.2 591.9,475.4 595.9,475.5 620,473.9 648.1,473.6 652.1,472.7 668.2,465.6 676.2,462.9 684.3,461.6 700.4,461 708.4,461.4 716.4,462.8 724.5,465.7 736.5,470.7 740.5,471.7 744.5,472.1 752.6,472" class="ml"/>
<ellipse cx="275" cy="468" rx="17" ry="4.5" fill="#030820" opacity="0.8" filter="url(#b3)"/>
<path d="M318.7,407 L330.3,456.9 L337.1,464.7 L322.8,466.5 L304.9,465.3 L311,456.9Z" fill="#33a0ee" class="pk"/><path d="M318.7,407 L330.3,456.9 L337.1,464.7 L322.8,466.5Z" fill="#2a86c7" class="pk"/><path d="M318.7,407 L321.8,451.6 L328.8,450.5 Z" fill="#e8231a" class="pk"/><path d="M318.7,406.5 L319.9,411.5 L317.5,411.5 Z" fill="#0a1238" fill-opacity="0.85"/>
<path d="M109.8,479.9 158,476.9 162,475.8 170.1,472.3 178.1,468.4 182.1,466.9 186.1,465.9 194.2,465.1 206.2,465.8 214.3,467 222.3,469 230.3,472.2 238.4,476.1 242.4,474.1 246.4,473.4 254.4,474.1 258.5,474 270.5,472.4 282.6,472.1 290.6,469.9 322.7,466.3 350.9,466 358.9,465.1 383,464.3 391,464.8 395,465.6 423.2,468.2 427.2,469.7 431.2,472.5 435.2,475.8 439.2,476.6 443.3,475.6 451.3,471.3 455.3,469.5 459.3,468.2 463.3,467.5 487.4,467.3 495.5,468.1 499.5,469.2 507.5,472.4 515.6,476 519.6,476.6 531.6,474.5 539.7,474 551.7,474.6 559.8,476.1 571.8,480 575.8,480.8 579.9,480.9 616,477.3 640.1,477.1 644.1,476.5 648.1,475 660.2,468.2 664.2,466.4 668.2,465.2 700.4,463.7 720.5,464.1 724.5,464.8 728.5,466.2 740.6,472.7 744.6,474.3 748.6,475.2 752.6,475.3 L752.6,566 L109.8,566Z" fill="url(#r61)"/>
<path d="M109.8,479.9 158,476.9 162,475.8 170.1,472.3 178.1,468.4 182.1,466.9 186.1,465.9 194.2,465.1 206.2,465.8 214.3,467 222.3,469 230.3,472.2 238.4,476.1 242.4,474.1 246.4,473.4 254.4,474.1 258.5,474 270.5,472.4 282.6,472.1 290.6,469.9 322.7,466.3 350.9,466 358.9,465.1 383,464.3 391,464.8 395,465.6 423.2,468.2 427.2,469.7 431.2,472.5 435.2,475.8 439.2,476.6 443.3,475.6 451.3,471.3 455.3,469.5 459.3,468.2 463.3,467.5 487.4,467.3 495.5,468.1 499.5,469.2 507.5,472.4 515.6,476 519.6,476.6 531.6,474.5 539.7,474 551.7,474.6 559.8,476.1 571.8,480 575.8,480.8 579.9,480.9 616,477.3 640.1,477.1 644.1,476.5 648.1,475 660.2,468.2 664.2,466.4 668.2,465.2 700.4,463.7 720.5,464.1 724.5,464.8 728.5,466.2 740.6,472.7 744.6,474.3 748.6,475.2 752.6,475.3" class="ml"/>
<ellipse cx="350" cy="470" rx="14" ry="3.5" fill="#030820" opacity="0.55" filter="url(#b3)"/>
<ellipse cx="400" cy="470" rx="20" ry="4" fill="#030820" opacity="0.5" filter="url(#b3)"/>
<path d="M109.9,483.1 166.1,479.7 186.2,475.5 194.2,474.7 202.3,474.7 210.3,475.5 218.3,477.4 222.3,478.7 230.4,478.3 238.4,478.9 242.4,478.2 246.4,477.1 258.5,477.4 278.6,475.7 286.6,475.5 290.6,475 294.7,473.5 298.7,472.6 330.8,469.7 342.9,469.5 346.9,470 350.9,471 354.9,472.5 358.9,472.5 367,471.4 375,471.1 395.1,469.5 415.2,470.7 423.2,471.9 427.2,473.9 435.3,479.9 443.3,475.3 447.3,473.4 451.3,472.1 463.4,470.3 499.5,470.5 503.6,470.9 507.6,472.2 519.6,478.5 523.6,480.3 527.7,481.2 559.8,483.2 571.8,485 575.9,485.1 612,480.8 636.1,480.4 640.1,480.1 644.2,478.8 648.2,476.7 656.2,471.7 660.2,469.7 664.2,468.5 696.4,466.4 724.5,467.2 728.5,467.9 732.5,469.5 744.6,476.5 748.6,478 752.6,478.6 L752.6,566 L109.9,566Z" fill="url(#r62)"/>
<path d="M109.9,483.1 166.1,479.7 186.2,475.5 194.2,474.7 202.3,474.7 210.3,475.5 218.3,477.4 222.3,478.7 230.4,478.3 238.4,478.9 242.4,478.2 246.4,477.1 258.5,477.4 278.6,475.7 286.6,475.5 290.6,475 294.7,473.5 298.7,472.6 330.8,469.7 342.9,469.5 346.9,470 350.9,471 354.9,472.5 358.9,472.5 367,471.4 375,471.1 395.1,469.5 415.2,470.7 423.2,471.9 427.2,473.9 435.3,479.9 443.3,475.3 447.3,473.4 451.3,472.1 463.4,470.3 499.5,470.5 503.6,470.9 507.6,472.2 519.6,478.5 523.6,480.3 527.7,481.2 559.8,483.2 571.8,485 575.9,485.1 612,480.8 636.1,480.4 640.1,480.1 644.2,478.8 648.2,476.7 656.2,471.7 660.2,469.7 664.2,468.5 696.4,466.4 724.5,467.2 728.5,467.9 732.5,469.5 744.6,476.5 748.6,478 752.6,478.6" class="ml"/>
<path d="M109.9,486.4 178.2,482.4 194.3,483.1 198.3,482.3 214.4,477.3 218.4,476.5 226.4,475.9 234.4,476.5 258.5,481.2 282.6,479.3 286.7,479.5 290.7,480.5 294.7,481.1 302.7,478 310.8,476 322.8,474.5 330.9,474.4 338.9,475.3 346.9,477.5 359,482.4 367,481.9 371,481 375,478.3 379.1,476 383.1,474.5 387.1,473.8 399.1,473.4 411.2,474.1 415.2,474.6 419.2,475.9 423.2,478 431.3,483.7 443.3,477.2 447.3,475.8 463.4,473.3 475.5,472.7 503.6,473.8 507.6,474.3 511.6,475.7 523.7,482.6 527.7,484.1 531.7,484.7 559.8,486.5 571.9,488.4 575.9,488.5 612,484.1 640.2,483.5 644.2,482.4 648.2,480.4 656.2,475.4 660.2,473.3 664.3,472 696.4,469.9 724.5,470.6 728.5,471.5 732.6,473.3 744.6,480.1 748.6,481.5 752.6,481.9 L752.6,566 L109.9,566Z" fill="url(#r63)"/>
<path d="M109.9,486.4 178.2,482.4 194.3,483.1 198.3,482.3 214.4,477.3 218.4,476.5 226.4,475.9 234.4,476.5 258.5,481.2 282.6,479.3 286.7,479.5 290.7,480.5 294.7,481.1 302.7,478 310.8,476 322.8,474.5 330.9,474.4 338.9,475.3 346.9,477.5 359,482.4 367,481.9 371,481 375,478.3 379.1,476 383.1,474.5 387.1,473.8 399.1,473.4 411.2,474.1 415.2,474.6 419.2,475.9 423.2,478 431.3,483.7 443.3,477.2 447.3,475.8 463.4,473.3 475.5,472.7 503.6,473.8 507.6,474.3 511.6,475.7 523.7,482.6 527.7,484.1 531.7,484.7 559.8,486.5 571.9,488.4 575.9,488.5 612,484.1 640.2,483.5 644.2,482.4 648.2,480.4 656.2,475.4 660.2,473.3 664.3,472 696.4,469.9 724.5,470.6 728.5,471.5 732.6,473.3 744.6,480.1 748.6,481.5 752.6,481.9" class="ml"/>
<path d="M476,433 L483.7,473.4 L488.6,479.7 L477.8,481.5 L464.4,480.3 L469.2,473.4Z" fill="#33a0ee" class="pk"/><path d="M476,433 L483.7,473.4 L488.6,479.7 L477.8,481.5Z" fill="#2a86c7" class="pk"/><path d="M476,432.5 L477.1,437.5 L474.9,437.5 Z" fill="#0a1238" fill-opacity="0.85"/>
<path d="M110,489.6 178.3,485.6 186.3,485.8 190.3,485.1 194.3,483.8 206.4,478.6 210.4,477.5 214.4,477 238.5,479.7 254.6,482.5 258.6,482.9 266.6,482.8 270.6,483.4 274.7,484.6 278.7,486.3 286.7,488.3 290.7,489.7 294.7,490.4 306.8,486.6 314.8,484.8 322.9,481.8 330.9,479.8 338.9,478.9 347,479 355,480.1 363,482.2 375.1,486.3 379.1,485.1 387.1,481.7 391.1,480.5 395.2,479.8 399.2,479.6 403.2,479.8 407.2,480.5 411.2,481.6 415.2,483.1 423.3,486.7 431.3,487.1 443.4,480.7 447.4,479.3 463.4,476.7 479.5,476.2 503.6,477.1 507.6,477.7 511.6,479.2 523.7,486 527.7,487.5 559.9,489.9 571.9,491.7 575.9,491.8 612.1,487.4 644.2,486.8 648.2,485.7 664.3,477.5 668.3,476 672.3,475 712.5,473.9 716.5,474 720.5,474.6 724.5,475.8 740.6,483.5 744.6,484.8 748.6,485.2 752.7,485.2 L752.7,566 L110,566Z" fill="url(#r64)"/>
<path d="M110,489.6 178.3,485.6 186.3,485.8 190.3,485.1 194.3,483.8 206.4,478.6 210.4,477.5 214.4,477 238.5,479.7 254.6,482.5 258.6,482.9 266.6,482.8 270.6,483.4 274.7,484.6 278.7,486.3 286.7,488.3 290.7,489.7 294.7,490.4 306.8,486.6 314.8,484.8 322.9,481.8 330.9,479.8 338.9,478.9 347,479 355,480.1 363,482.2 375.1,486.3 379.1,485.1 387.1,481.7 391.1,480.5 395.2,479.8 399.2,479.6 403.2,479.8 407.2,480.5 411.2,481.6 415.2,483.1 423.3,486.7 431.3,487.1 443.4,480.7 447.4,479.3 463.4,476.7 479.5,476.2 503.6,477.1 507.6,477.7 511.6,479.2 523.7,486 527.7,487.5 559.9,489.9 571.9,491.7 575.9,491.8 612.1,487.4 644.2,486.8 648.2,485.7 664.3,477.5 668.3,476 672.3,475 712.5,473.9 716.5,474 720.5,474.6 724.5,475.8 740.6,483.5 744.6,484.8 748.6,485.2 752.7,485.2" class="ml"/>
<path d="M110,492.9 182.3,488.8 186.3,488.1 190.4,486.6 202.4,480.8 206.4,479.6 210.4,479.3 238.6,482.4 254.6,485.3 258.6,485.7 270.7,485.4 274.7,485.7 278.7,487 290.8,493.5 294.8,493.5 306.8,486.4 310.9,484.3 314.9,482.7 318.9,481.5 326.9,480.2 355,479.3 359.1,479.5 363.1,480.2 367.1,481.3 375.1,484.6 383.2,488.5 387.2,490.2 391.2,489.3 407.2,484.6 415.3,483.1 423.3,482.7 435.4,483.4 443.4,484.5 447.4,483.9 451.4,482.4 463.5,480.4 499.6,480.6 507.7,482.2 515.7,484.9 527.7,489.7 531.8,490.9 535.8,491.5 559.9,493.2 571.9,495.1 575.9,495.2 608.1,491.1 648.2,490.3 652.3,490 656.3,489.1 676.4,481.6 684.4,479.8 692.4,478.9 700.5,478.9 708.5,479.7 716.5,481.7 732.6,487.3 736.6,488.2 740.6,488.6 752.7,488.5 L752.7,566 L110,566Z" fill="url(#r65)"/>
<path d="M110,492.9 182.3,488.8 186.3,488.1 190.4,486.6 202.4,480.8 206.4,479.6 210.4,479.3 238.6,482.4 254.6,485.3 258.6,485.7 270.7,485.4 274.7,485.7 278.7,487 290.8,493.5 294.8,493.5 306.8,486.4 310.9,484.3 314.9,482.7 318.9,481.5 326.9,480.2 355,479.3 359.1,479.5 363.1,480.2 367.1,481.3 375.1,484.6 383.2,488.5 387.2,490.2 391.2,489.3 407.2,484.6 415.3,483.1 423.3,482.7 435.4,483.4 443.4,484.5 447.4,483.9 451.4,482.4 463.5,480.4 499.6,480.6 507.7,482.2 515.7,484.9 527.7,489.7 531.8,490.9 535.8,491.5 559.9,493.2 571.9,495.1 575.9,495.2 608.1,491.1 648.2,490.3 652.3,490 656.3,489.1 676.4,481.6 684.4,479.8 692.4,478.9 700.5,478.9 708.5,479.7 716.5,481.7 732.6,487.3 736.6,488.2 740.6,488.6 752.7,488.5" class="ml"/>
<path d="M110.1,496.2 182.4,491.9 186.4,490.9 190.4,489.2 198.4,485 202.5,483.3 206.5,482.4 238.6,485.1 254.7,488.4 258.7,488.8 274.7,488.6 278.8,489.6 282.8,491.4 290.8,496.1 302.9,488.2 306.9,486.2 310.9,485 335,482.3 367.1,482.2 371.1,482.8 375.2,484.1 383.2,488.3 387.2,489.3 395.2,485.2 403.3,482.4 411.3,480.8 419.3,480.4 451.5,482.6 455.5,483.3 459.5,484.3 463.5,484 467.5,483.4 507.7,483 511.7,483.2 515.7,484 519.7,485.4 535.8,493.7 539.8,494.9 559.9,496.4 572,498.5 576,498.6 580,498.2 592,496 616.1,493.8 664.3,493.3 688.4,490 696.5,489.6 708.5,490.3 724.6,492 752.7,491.8 L752.7,566 L110.1,566Z" fill="url(#r66)"/>
<path d="M110.1,496.2 182.4,491.9 186.4,490.9 190.4,489.2 198.4,485 202.5,483.3 206.5,482.4 238.6,485.1 254.7,488.4 258.7,488.8 274.7,488.6 278.8,489.6 282.8,491.4 290.8,496.1 302.9,488.2 306.9,486.2 310.9,485 335,482.3 367.1,482.2 371.1,482.8 375.2,484.1 383.2,488.3 387.2,489.3 395.2,485.2 403.3,482.4 411.3,480.8 419.3,480.4 451.5,482.6 455.5,483.3 459.5,484.3 463.5,484 467.5,483.4 507.7,483 511.7,483.2 515.7,484 519.7,485.4 535.8,493.7 539.8,494.9 559.9,496.4 572,498.5 576,498.6 580,498.2 592,496 616.1,493.8 664.3,493.3 688.4,490 696.5,489.6 708.5,490.3 724.6,492 752.7,491.8" class="ml"/>
<path d="M240.5,432 L246.3,478.9 L250,486.2 L241.8,488 L231.5,486.8 L235.2,478.9Z" fill="#33a0ee" class="pk"/><path d="M240.5,432 L246.3,478.9 L250,486.2 L241.8,488Z" fill="#36c8f3" class="pk"/><path d="M240.5,431.5 L241.4,436.5 L239.6,436.5 Z" fill="#0a1238" fill-opacity="0.85"/>
<path d="M110.1,499.4 182.4,495.3 186.4,494.6 190.5,493.2 202.5,487.4 206.5,486.2 210.5,485.9 238.6,488.9 254.7,491.8 258.7,492.2 270.8,491.9 274.8,492.3 278.8,493.7 286.8,498 290.9,497.5 298.9,491.8 302.9,489.7 306.9,488.5 335,485 371.2,485.2 375.2,485.8 379.2,487.3 383.2,489.5 391.3,485.5 395.3,483.8 399.3,482.7 403.3,482.3 443.5,484 455.5,483.2 459.5,483.4 463.6,484.2 467.6,485.8 471.6,486.1 515.8,486.2 519.8,486.7 523.8,488.1 531.8,492.9 535.8,494.8 547.9,494.2 555.9,494.6 559.9,495.2 572,498.6 576,498.2 584,495.2 588.1,494.1 592.1,493.5 596.1,493.4 604.1,494.4 616.2,496.8 752.7,495 L752.7,566 L110.1,566Z" fill="url(#r67)"/>
<path d="M110.1,499.4 182.4,495.3 186.4,494.6 190.5,493.2 202.5,487.4 206.5,486.2 210.5,485.9 238.6,488.9 254.7,491.8 258.7,492.2 270.8,491.9 274.8,492.3 278.8,493.7 286.8,498 290.9,497.5 298.9,491.8 302.9,489.7 306.9,488.5 335,485 371.2,485.2 375.2,485.8 379.2,487.3 383.2,489.5 391.3,485.5 395.3,483.8 399.3,482.7 403.3,482.3 443.5,484 455.5,483.2 459.5,483.4 463.6,484.2 467.6,485.8 471.6,486.1 515.8,486.2 519.8,486.7 523.8,488.1 531.8,492.9 535.8,494.8 547.9,494.2 555.9,494.6 559.9,495.2 572,498.6 576,498.2 584,495.2 588.1,494.1 592.1,493.5 596.1,493.4 604.1,494.4 616.2,496.8 752.7,495" class="ml"/>
<path d="M110.2,502.7 178.5,498.6 186.5,498.8 190.5,498.1 194.5,496.8 206.6,491.7 210.6,490.5 214.6,490 234.7,492.1 254.8,495.5 258.8,495.8 266.8,495.9 270.8,496.6 274.8,497.9 282.9,501.7 286.9,503.3 298.9,494.7 302.9,492.7 307,491.7 335.1,488 371.2,488.5 375.2,488.9 379.3,490.3 383.3,489.9 387.3,487.6 391.3,486 395.3,485.2 419.4,485.5 443.5,486.8 463.6,485.7 467.6,486.4 475.6,489.1 487.7,488.5 519.8,489.7 523.8,490.8 527.8,492.9 535.9,491 543.9,490.1 551.9,490 560,491 572,494.9 576,494.9 584.1,492.6 592.1,491.1 600.1,490.6 604.1,491 608.2,492 612.2,493.6 620.2,497.9 624.2,499.6 628.2,500.3 752.7,498.3 L752.7,566 L110.2,566Z" fill="url(#r68)"/>
<path d="M110.2,502.7 178.5,498.6 186.5,498.8 190.5,498.1 194.5,496.8 206.6,491.7 210.6,490.5 214.6,490 234.7,492.1 254.8,495.5 258.8,495.8 266.8,495.9 270.8,496.6 274.8,497.9 282.9,501.7 286.9,503.3 298.9,494.7 302.9,492.7 307,491.7 335.1,488 371.2,488.5 375.2,488.9 379.3,490.3 383.3,489.9 387.3,487.6 391.3,486 395.3,485.2 419.4,485.5 443.5,486.8 463.6,485.7 467.6,486.4 475.6,489.1 487.7,488.5 519.8,489.7 523.8,490.8 527.8,492.9 535.9,491 543.9,490.1 551.9,490 560,491 572,494.9 576,494.9 584.1,492.6 592.1,491.1 600.1,490.6 604.1,491 608.2,492 612.2,493.6 620.2,497.9 624.2,499.6 628.2,500.3 752.7,498.3" class="ml"/>
<path d="M339.5,434.5 L345.8,483.5 L350,491.2 L340.7,493 L329,491.8 L333.2,483.5Z" fill="#33a0ee" class="pk"/><path d="M339.5,434.5 L345.8,483.5 L350,491.2 L340.7,493Z" fill="#2a86c7" class="pk"/><path d="M339.5,434 L340.4,439 L338.6,439 Z" fill="#0a1238" fill-opacity="0.85"/>
<path d="M489,444.5 L495.8,487.1 L500.6,493.7 L489.8,495.5 L476.4,494.3 L481.3,487.1Z" fill="#33a0ee" class="pk"/><path d="M489,444.5 L495.8,487.1 L500.6,493.7 L489.8,495.5Z" fill="#2a86c7" class="pk"/><path d="M489,444 L490.1,449 L487.9,449 Z" fill="#0a1238" fill-opacity="0.85"/>
<path d="M110.2,505.9 178.5,501.9 186.5,502.1 190.6,501.7 210.6,496 218.7,495.1 234.7,496 262.8,501.7 270.9,504.1 282.9,508.5 286.9,507.5 299,499.3 303,497 307,495.3 335.1,491.8 367.2,491.8 371.3,492 379.3,494 383.3,491.4 387.3,489.6 391.3,488.5 419.4,488.3 443.5,489.8 463.6,488.8 467.6,488.9 471.7,489.9 475.7,491.7 479.7,492.5 515.8,492.9 519.8,493.1 527.9,490.1 531.9,489.2 539.9,488.5 556,489.2 560,489.7 576.1,493.5 584.1,494.5 588.1,494.4 608.2,492.6 612.2,492.9 616.2,494.6 624.2,500.1 628.3,500.9 644.3,501.4 664.4,503.1 752.7,501.6 L752.7,566 L110.2,566Z" fill="url(#r69)"/>
<path d="M110.2,505.9 178.5,501.9 186.5,502.1 190.6,501.7 210.6,496 218.7,495.1 234.7,496 262.8,501.7 270.9,504.1 282.9,508.5 286.9,507.5 299,499.3 303,497 307,495.3 335.1,491.8 367.2,491.8 371.3,492 379.3,494 383.3,491.4 387.3,489.6 391.3,488.5 419.4,488.3 443.5,489.8 463.6,488.8 467.6,488.9 471.7,489.9 475.7,491.7 479.7,492.5 515.8,492.9 519.8,493.1 527.9,490.1 531.9,489.2 539.9,488.5 556,489.2 560,489.7 576.1,493.5 584.1,494.5 588.1,494.4 608.2,492.6 612.2,492.9 616.2,494.6 624.2,500.1 628.3,500.9 644.3,501.4 664.4,503.1 752.7,501.6" class="ml"/>
<ellipse cx="312" cy="495" rx="14" ry="3" fill="#030820" opacity="0.7" filter="url(#b3)"/>
<path d="M110.3,509.2 178.6,505.1 182.6,504.5 186.6,503.4 198.6,498.3 202.7,497 206.7,496.1 210.7,495.9 234.8,498.8 262.9,503.8 266.9,505.1 278.9,510.7 283,512.2 287,512.5 291,510.6 307.1,500.9 311.1,499.1 315.1,497.8 335.2,495.7 359.3,495.3 363.3,495.5 367.3,496.2 371.3,497.4 375.3,499.2 383.3,494.5 387.4,492.7 391.4,491.7 427.5,491.9 443.6,493.1 463.7,492.1 467.7,492.2 471.7,493.1 479.7,496.4 507.8,496.4 511.8,495.7 515.9,493.7 519.9,492.2 523.9,491.2 531.9,490.7 556,492 564,493.2 572.1,494.8 576.1,495 584.1,494.3 588.1,494.5 596.2,496.2 612.2,495.6 616.2,496.2 620.3,497.6 628.3,496.8 636.3,496.9 644.3,497.8 676.5,505.5 680.5,505.2 696.5,501 704.6,500.2 712.6,500.6 732.7,504.8 752.8,504.9 L752.8,566 L110.3,566Z" fill="url(#r70)"/>
<path d="M110.3,509.2 178.6,505.1 182.6,504.5 186.6,503.4 198.6,498.3 202.7,497 206.7,496.1 210.7,495.9 234.8,498.8 262.9,503.8 266.9,505.1 278.9,510.7 283,512.2 287,512.5 291,510.6 307.1,500.9 311.1,499.1 315.1,497.8 335.2,495.7 359.3,495.3 363.3,495.5 367.3,496.2 371.3,497.4 375.3,499.2 383.3,494.5 387.4,492.7 391.4,491.7 427.5,491.9 443.6,493.1 463.7,492.1 467.7,492.2 471.7,493.1 479.7,496.4 507.8,496.4 511.8,495.7 515.9,493.7 519.9,492.2 523.9,491.2 531.9,490.7 556,492 564,493.2 572.1,494.8 576.1,495 584.1,494.3 588.1,494.5 596.2,496.2 612.2,495.6 616.2,496.2 620.3,497.6 628.3,496.8 636.3,496.9 644.3,497.8 676.5,505.5 680.5,505.2 696.5,501 704.6,500.2 712.6,500.6 732.7,504.8 752.8,504.9" class="ml"/>
<path d="M426.7,427 L439.8,486 L447.4,494.7 L431.3,496.5 L411.1,495.3 L418,486Z" fill="#33a0ee" class="pk"/><path d="M426.7,427 L439.8,486 L447.4,494.7 L431.3,496.5Z" fill="#2a86c7" class="pk"/><path d="M426.7,426.5 L427.9,431.5 L425.5,431.5 Z" fill="#0a1238" fill-opacity="0.85"/>
<path d="M110.3,512.4 174.6,508.4 178.6,507.8 182.6,506.4 194.7,500.5 198.7,499 202.7,498.3 230.8,500.8 254.9,505.3 258.9,505.7 266.9,506.2 271,507.4 283,513.6 287,515.3 291,516.1 295,514.9 315.1,505 323.2,502.1 331.2,500.5 339.2,499.8 351.3,500.1 359.3,501.4 367.3,503.9 371.3,505.5 375.4,504.5 383.4,499 387.4,496.9 391.4,495.5 395.4,494.9 419.5,495.3 443.6,496.8 463.7,495.6 467.7,496.1 471.7,497.5 479.7,501.5 487.8,501 495.8,501.2 499.8,501.6 503.8,500.7 507.9,498.2 511.9,496.2 515.9,494.8 531.9,493.6 556,494.7 560.1,495.2 572.1,497.7 576.1,497.9 580.1,497.7 588.2,496.4 592.2,496.4 596.2,497.2 600.2,498.8 604.2,498.9 612.3,496 620.3,494.4 632.3,493.8 644.4,494.5 652.4,495.8 660.4,498.1 676.5,504.8 684.5,500.8 688.5,499.4 692.6,498.4 700.6,497.5 712.6,497.4 716.6,497.8 720.7,498.6 724.7,499.8 740.7,507.1 744.8,508.1 752.8,508.2 L752.8,566 L110.3,566Z" fill="url(#r71)"/>
<path d="M110.3,512.4 174.6,508.4 178.6,507.8 182.6,506.4 194.7,500.5 198.7,499 202.7,498.3 230.8,500.8 254.9,505.3 258.9,505.7 266.9,506.2 271,507.4 283,513.6 287,515.3 291,516.1 295,514.9 315.1,505 323.2,502.1 331.2,500.5 339.2,499.8 351.3,500.1 359.3,501.4 367.3,503.9 371.3,505.5 375.4,504.5 383.4,499 387.4,496.9 391.4,495.5 395.4,494.9 419.5,495.3 443.6,496.8 463.7,495.6 467.7,496.1 471.7,497.5 479.7,501.5 487.8,501 495.8,501.2 499.8,501.6 503.8,500.7 507.9,498.2 511.9,496.2 515.9,494.8 531.9,493.6 556,494.7 560.1,495.2 572.1,497.7 576.1,497.9 580.1,497.7 588.2,496.4 592.2,496.4 596.2,497.2 600.2,498.8 604.2,498.9 612.3,496 620.3,494.4 632.3,493.8 644.4,494.5 652.4,495.8 660.4,498.1 676.5,504.8 684.5,500.8 688.5,499.4 692.6,498.4 700.6,497.5 712.6,497.4 716.6,497.8 720.7,498.6 724.7,499.8 740.7,507.1 744.8,508.1 752.8,508.2" class="ml"/>
<path d="M110.4,515.7 174.6,511.6 178.7,510.6 182.7,508.9 194.7,502.8 198.7,501.5 202.7,501.3 234.9,504.1 254.9,508.4 259,508.8 267,508.9 271,509.8 275,511.5 283,516.1 287.1,518.1 291.1,519.2 295.1,519.4 303.1,518.2 327.2,510.7 335.2,509.3 343.3,509 351.3,509.7 367.4,513 371.4,512.6 387.4,502.8 391.5,500.8 395.5,499.3 399.5,498.6 419.6,499.2 439.6,500.6 451.7,500.2 459.7,499.7 463.7,500.3 467.7,501.6 475.8,505.9 483.8,510.7 491.8,510.7 503.9,502.4 507.9,500 511.9,498.4 515.9,497.6 532,496.6 552.1,497 560.1,498 568.1,500 572.1,500.7 576.1,501 580.2,500.8 592.2,499.2 596.2,499.4 600.2,499.2 604.2,497.9 608.3,496.9 620.3,495.9 656.4,496.2 660.5,496.8 664.5,497.7 668.5,499.2 676.5,503.1 680.5,501.8 684.5,500.9 712.7,499.9 724.7,500.2 728.7,500.6 732.7,502 744.8,509.3 748.8,511 752.8,511.5 L752.8,566 L110.4,566Z" fill="url(#r72)"/>
<path d="M110.4,515.7 174.6,511.6 178.7,510.6 182.7,508.9 194.7,502.8 198.7,501.5 202.7,501.3 234.9,504.1 254.9,508.4 259,508.8 267,508.9 271,509.8 275,511.5 283,516.1 287.1,518.1 291.1,519.2 295.1,519.4 303.1,518.2 327.2,510.7 335.2,509.3 343.3,509 351.3,509.7 367.4,513 371.4,512.6 387.4,502.8 391.5,500.8 395.5,499.3 399.5,498.6 419.6,499.2 439.6,500.6 451.7,500.2 459.7,499.7 463.7,500.3 467.7,501.6 475.8,505.9 483.8,510.7 491.8,510.7 503.9,502.4 507.9,500 511.9,498.4 515.9,497.6 532,496.6 552.1,497 560.1,498 568.1,500 572.1,500.7 576.1,501 580.2,500.8 592.2,499.2 596.2,499.4 600.2,499.2 604.2,497.9 608.3,496.9 620.3,495.9 656.4,496.2 660.5,496.8 664.5,497.7 668.5,499.2 676.5,503.1 680.5,501.8 684.5,500.9 712.7,499.9 724.7,500.2 728.7,500.6 732.7,502 744.8,509.3 748.8,511 752.8,511.5" class="ml"/>
<path d="M234.5,453 L240.3,499 L244.5,506.2 L235.2,508 L223.5,506.8 L227.8,499Z" fill="#33a0ee" class="pk"/><path d="M234.5,453 L240.3,499 L244.5,506.2 L235.2,508Z" fill="#36c8f3" class="pk"/><path d="M234.5,452.5 L235.4,457.5 L233.6,457.5 Z" fill="#0a1238" fill-opacity="0.85"/>
<path d="M110.5,518.9 174.7,514.9 178.7,514.2 182.7,512.7 194.8,506.7 198.8,505.3 202.8,504.7 230.9,507.3 255,511.8 259,512.2 267,512.6 271,513.8 279.1,517.9 283.1,519.3 291.1,520.1 295.1,519.9 307.2,514.8 315.2,512.3 323.2,510.9 331.3,510.4 339.3,511.1 347.3,513 359.4,516.9 363.4,518 367.4,518.4 375.4,516.6 383.5,512.9 395.5,506.6 399.5,505.1 403.5,504 411.6,503 455.7,505.5 459.7,506.4 463.8,507.7 479.8,515.4 483.8,516.7 487.8,514.8 503.9,505.3 507.9,503.3 511.9,501.7 515.9,500.9 532,499.9 552.1,500.3 560.1,501.3 568.1,503.3 572.2,504.1 576.2,504.4 580.2,504.2 612.3,499.3 664.5,499 668.5,499.6 672.5,500.8 680.6,504.3 704.6,502.5 728.7,503.3 732.7,503.8 736.8,505.4 748.8,513.2 752.8,514.6 L752.8,566 L110.5,566Z" fill="url(#r73)"/>
<path d="M110.5,518.9 174.7,514.9 178.7,514.2 182.7,512.7 194.8,506.7 198.8,505.3 202.8,504.7 230.9,507.3 255,511.8 259,512.2 267,512.6 271,513.8 279.1,517.9 283.1,519.3 291.1,520.1 295.1,519.9 307.2,514.8 315.2,512.3 323.2,510.9 331.3,510.4 339.3,511.1 347.3,513 359.4,516.9 363.4,518 367.4,518.4 375.4,516.6 383.5,512.9 395.5,506.6 399.5,505.1 403.5,504 411.6,503 455.7,505.5 459.7,506.4 463.8,507.7 479.8,515.4 483.8,516.7 487.8,514.8 503.9,505.3 507.9,503.3 511.9,501.7 515.9,500.9 532,499.9 552.1,500.3 560.1,501.3 568.1,503.3 572.2,504.1 576.2,504.4 580.2,504.2 612.3,499.3 664.5,499 668.5,499.6 672.5,500.8 680.6,504.3 704.6,502.5 728.7,503.3 732.7,503.8 736.8,505.4 748.8,513.2 752.8,514.6" class="ml"/>
<path d="M553,434 L558.8,495 L562.2,503.7 L554.7,505.5 L545.3,504.3 L548.5,495Z" fill="#33a0ee" class="pk"/><path d="M553,434 L558.8,495 L562.2,503.7 L554.7,505.5Z" fill="#2a86c7" class="pk"/><path d="M553,433.5 L553.7,438.5 L552.3,438.5 Z" fill="#0a1238" fill-opacity="0.85"/>
<path d="M110.5,522.2 178.8,518 182.8,517.3 190.8,514.4 198.8,510.9 202.8,509.6 206.9,508.9 210.9,508.8 235,511.7 255,515.3 263.1,516.6 267.1,517.9 271.1,517.8 283.1,516.5 287.2,516.4 291.2,516.7 295.2,517.6 303.2,514.6 307.2,513.5 331.3,511 343.4,510.8 347.4,511.4 351.4,512.4 359.4,515.7 363.4,517.7 367.4,517.2 375.5,513.2 379.5,511.8 383.5,510.8 391.5,509.9 399.6,510.1 407.6,511.4 411.6,511.5 419.6,510.8 431.7,511.3 455.8,514.9 463.8,517 475.8,520.8 479.8,520.1 483.9,518.1 495.9,510.2 499.9,507.9 503.9,506.2 508,505.3 532,503.4 552.1,504.2 560.1,505.1 572.2,507.8 576.2,508 580.2,507.8 588.2,506.4 612.3,502.2 632.4,501.1 668.5,502.2 672.5,502.6 676.6,503.8 680.6,505.8 684.6,507.3 704.7,506 728.8,506.7 732.8,507.2 736.8,509 744.8,514.4 748.8,516.7 752.8,518 L752.8,566 L110.5,566Z" fill="url(#r74)"/>
<path d="M110.5,522.2 178.8,518 182.8,517.3 190.8,514.4 198.8,510.9 202.8,509.6 206.9,508.9 210.9,508.8 235,511.7 255,515.3 263.1,516.6 267.1,517.9 271.1,517.8 283.1,516.5 287.2,516.4 291.2,516.7 295.2,517.6 303.2,514.6 307.2,513.5 331.3,511 343.4,510.8 347.4,511.4 351.4,512.4 359.4,515.7 363.4,517.7 367.4,517.2 375.5,513.2 379.5,511.8 383.5,510.8 391.5,509.9 399.6,510.1 407.6,511.4 411.6,511.5 419.6,510.8 431.7,511.3 455.8,514.9 463.8,517 475.8,520.8 479.8,520.1 483.9,518.1 495.9,510.2 499.9,507.9 503.9,506.2 508,505.3 532,503.4 552.1,504.2 560.1,505.1 572.2,507.8 576.2,508 580.2,507.8 588.2,506.4 612.3,502.2 632.4,501.1 668.5,502.2 672.5,502.6 676.6,503.8 680.6,505.8 684.6,507.3 704.7,506 728.8,506.7 732.8,507.2 736.8,509 744.8,514.4 748.8,516.7 752.8,518" class="ml"/>
<path d="M110.6,525.4 154.7,522.7 162.8,521.1 174.8,517.7 178.8,516.9 182.8,516.5 186.8,516.5 198.9,518.3 206.9,515.9 214.9,514.4 223,514.2 235,515.5 247.1,518.2 259.1,522.1 263.1,521.2 283.2,519.1 291.2,518.8 295.2,518.4 299.2,517.2 327.3,514 351.4,513.7 355.4,514.2 359.5,515.6 363.5,517.6 371.5,513.9 375.5,513.2 395.6,512.3 415.7,514.1 419.7,515.4 423.7,517.6 427.7,520.4 431.7,522.2 451.8,524.3 463.8,524.9 467.8,524.6 475.9,522.2 487.9,517.5 495.9,512.1 500,510.1 504,508.8 532.1,506.7 544.1,507.1 560.2,509.1 568.2,511 572.2,511.6 576.2,511.8 584.3,510.9 588.3,510 592.3,508.6 616.4,504.8 632.4,503.9 672.6,505.6 676.6,506.6 680.6,508.4 684.6,510.8 720.7,510.1 724.8,510.2 728.8,511.1 732.8,512.8 744.8,519.8 748.8,521.1 752.9,521.4 L752.9,566 L110.6,566Z" fill="url(#r75)"/>
<path d="M110.6,525.4 154.7,522.7 162.8,521.1 174.8,517.7 178.8,516.9 182.8,516.5 186.8,516.5 198.9,518.3 206.9,515.9 214.9,514.4 223,514.2 235,515.5 247.1,518.2 259.1,522.1 263.1,521.2 283.2,519.1 291.2,518.8 295.2,518.4 299.2,517.2 327.3,514 351.4,513.7 355.4,514.2 359.5,515.6 363.5,517.6 371.5,513.9 375.5,513.2 395.6,512.3 415.7,514.1 419.7,515.4 423.7,517.6 427.7,520.4 431.7,522.2 451.8,524.3 463.8,524.9 467.8,524.6 475.9,522.2 487.9,517.5 495.9,512.1 500,510.1 504,508.8 532.1,506.7 544.1,507.1 560.2,509.1 568.2,511 572.2,511.6 576.2,511.8 584.3,510.9 588.3,510 592.3,508.6 616.4,504.8 632.4,503.9 672.6,505.6 676.6,506.6 680.6,508.4 684.6,510.8 720.7,510.1 724.8,510.2 728.8,511.1 732.8,512.8 744.8,519.8 748.8,521.1 752.9,521.4" class="ml"/>
<path d="M631,439.5 L638.3,502.5 L642.8,511.2 L631.5,513 L620.2,511.8 L624.6,502.5Z" fill="#33a0ee" class="pk"/><path d="M631,439.5 L638.3,502.5 L642.8,511.2 L631.5,513Z" fill="#2a86c7" class="pk"/><path d="M631,439.5 L631.5,505.6 L638.5,504.3 Z" fill="#a81410" class="pk"/><path d="M631,439 L631.8,444 L630.2,444 Z" fill="#0a1238" fill-opacity="0.85"/>
<path d="M543,447 L548.8,505 L552.8,513.7 L543.9,515.5 L532.7,514.3 L536.7,505Z" fill="#2a80e6" class="pk"/><path d="M543,447 L548.8,505 L552.8,513.7 L543.9,515.5Z" fill="#236bc1" class="pk"/><path d="M543,446.5 L543.8,451.5 L542.2,451.5 Z" fill="#0a1238" fill-opacity="0.85"/>
<path d="M110.6,528.7 142.7,526.8 146.7,526.2 150.8,524.9 166.8,517.4 174.8,514.7 178.9,513.9 182.9,513.6 190.9,514.2 215,518.4 223,520.6 227,522.2 231,523.3 239.1,524.7 251.1,528.1 255.1,525.8 259.1,524.6 279.2,522 291.3,521.8 295.3,520.8 327.4,516.7 355.5,516.9 359.5,517.6 363.5,518.9 367.5,517.1 391.6,515 399.6,515.2 419.7,517.7 423.7,518.9 427.7,521.4 435.8,527.6 439.8,530 443.8,531 451.8,530.3 455.8,529.5 459.8,528.3 483.9,516.3 492,513.6 500,512.1 532.1,510.1 548.2,511 560.2,512.7 568.2,514.9 572.2,515.7 576.3,516 584.3,515.5 592.3,512.1 612.4,508.8 628.4,507.8 668.6,508.8 672.6,509.2 676.6,510.5 680.6,512.4 688.6,517.3 692.7,516.1 700.7,514.8 708.7,514.6 716.7,515.5 720.8,516.5 728.8,519.5 736.8,523 740.8,524.2 744.8,524.7 752.9,524.7 L752.9,566 L110.6,566Z" fill="url(#r76)"/>
<path d="M110.6,528.7 142.7,526.8 146.7,526.2 150.8,524.9 166.8,517.4 174.8,514.7 178.9,513.9 182.9,513.6 190.9,514.2 215,518.4 223,520.6 227,522.2 231,523.3 239.1,524.7 251.1,528.1 255.1,525.8 259.1,524.6 279.2,522 291.3,521.8 295.3,520.8 327.4,516.7 355.5,516.9 359.5,517.6 363.5,518.9 367.5,517.1 391.6,515 399.6,515.2 419.7,517.7 423.7,518.9 427.7,521.4 435.8,527.6 439.8,530 443.8,531 451.8,530.3 455.8,529.5 459.8,528.3 483.9,516.3 492,513.6 500,512.1 532.1,510.1 548.2,511 560.2,512.7 568.2,514.9 572.2,515.7 576.3,516 584.3,515.5 592.3,512.1 612.4,508.8 628.4,507.8 668.6,508.8 672.6,509.2 676.6,510.5 680.6,512.4 688.6,517.3 692.7,516.1 700.7,514.8 708.7,514.6 716.7,515.5 720.8,516.5 728.8,519.5 736.8,523 740.8,524.2 744.8,524.7 752.9,524.7" class="ml"/>
<ellipse cx="279" cy="519" rx="32" ry="3.5" fill="#030820" opacity="0.7" filter="url(#b3)"/>
<ellipse cx="290" cy="520" rx="18" ry="4" fill="#030820" opacity="0.6" filter="url(#b3)"/>
<path d="M326,472 L332.3,514.6 L336.5,521.2 L327.2,523 L315.5,521.8 L319.7,514.6Z" fill="#33a0ee" class="pk"/><path d="M326,472 L332.3,514.6 L336.5,521.2 L327.2,523Z" fill="#2a86c7" class="pk"/><path d="M326,471.5 L327,476.5 L325,476.5 Z" fill="#0a1238" fill-opacity="0.85"/>
<path d="M110.7,531.9 138.8,530.2 142.8,529 146.8,527.1 158.8,519.9 162.9,518 166.9,516.8 178.9,515 186.9,515.2 215,519.2 219,520.3 223.1,521.9 231.1,523.9 235.1,525.8 247.1,534.1 251.2,532.6 255.2,530.1 259.2,528.3 279.3,525.8 291.3,525.3 295.3,524.1 327.4,520.1 355.5,520.2 363.5,522.2 367.6,520.4 391.6,518.3 399.7,518.5 419.7,521.1 423.8,522.4 427.8,524.8 435.8,531 439.8,533.4 443.8,534.4 447.8,534.1 451.9,533.3 455.9,531.5 471.9,521.4 475.9,519.1 479.9,517.3 484,515.9 488,515.2 524.1,513.7 552.2,515.2 560.2,516.4 568.3,518.6 572.3,519.3 576.3,519.6 580.3,519.2 592.3,516.6 596.4,515 612.4,512.5 664.6,512.3 668.6,512.8 672.6,514 676.6,515.8 692.7,525.3 696.7,525.9 704.7,525.2 712.8,525.6 728.8,527.9 752.9,528 L752.9,566 L110.7,566Z" fill="url(#r77)"/>
<path d="M110.7,531.9 138.8,530.2 142.8,529 146.8,527.1 158.8,519.9 162.9,518 166.9,516.8 178.9,515 186.9,515.2 215,519.2 219,520.3 223.1,521.9 231.1,523.9 235.1,525.8 247.1,534.1 251.2,532.6 255.2,530.1 259.2,528.3 279.3,525.8 291.3,525.3 295.3,524.1 327.4,520.1 355.5,520.2 363.5,522.2 367.6,520.4 391.6,518.3 399.7,518.5 419.7,521.1 423.8,522.4 427.8,524.8 435.8,531 439.8,533.4 443.8,534.4 447.8,534.1 451.9,533.3 455.9,531.5 471.9,521.4 475.9,519.1 479.9,517.3 484,515.9 488,515.2 524.1,513.7 552.2,515.2 560.2,516.4 568.3,518.6 572.3,519.3 576.3,519.6 580.3,519.2 592.3,516.6 596.4,515 612.4,512.5 664.6,512.3 668.6,512.8 672.6,514 676.6,515.8 692.7,525.3 696.7,525.9 704.7,525.2 712.8,525.6 728.8,527.9 752.9,528" class="ml"/>
<path d="M110.7,535.2 134.8,533.7 138.8,532.6 142.8,530.5 154.9,522.7 158.9,520.8 166.9,519 174.9,518 183,517.7 223.1,523.3 227.1,524.4 231.1,526.3 235.2,527.5 239.2,529.5 251.2,538.5 255.2,537.4 263.2,533 267.3,531.5 271.3,530.5 287.3,529.3 291.3,529.4 295.4,528.8 299.4,527.3 327.5,523.9 347.5,523.5 351.5,523.7 355.6,524.6 363.6,528 367.6,525.6 371.6,523.9 375.6,523.1 395.7,522.2 411.8,523.5 415.8,524.2 419.8,525.6 423.8,528 431.8,533.8 435.8,536.2 439.8,537.6 443.9,537.8 447.9,537.2 451.9,535.7 455.9,533.2 467.9,524.3 472,521.8 476,519.9 480,518.8 524.1,516.4 536.2,517.1 560.3,520.3 568.3,522.1 572.3,522.5 576.3,522.5 580.3,521.9 588.4,520.3 600.4,519.1 604.4,517.7 608.4,516.8 620.5,515.8 656.6,516.1 660.6,516.6 664.6,517.6 668.6,519 688.7,529.3 692.7,530.8 696.7,531.8 752.9,531.3 L752.9,566 L110.7,566Z" fill="url(#r78)"/>
<path d="M110.7,535.2 134.8,533.7 138.8,532.6 142.8,530.5 154.9,522.7 158.9,520.8 166.9,519 174.9,518 183,517.7 223.1,523.3 227.1,524.4 231.1,526.3 235.2,527.5 239.2,529.5 251.2,538.5 255.2,537.4 263.2,533 267.3,531.5 271.3,530.5 287.3,529.3 291.3,529.4 295.4,528.8 299.4,527.3 327.5,523.9 347.5,523.5 351.5,523.7 355.6,524.6 363.6,528 367.6,525.6 371.6,523.9 375.6,523.1 395.7,522.2 411.8,523.5 415.8,524.2 419.8,525.6 423.8,528 431.8,533.8 435.8,536.2 439.8,537.6 443.9,537.8 447.9,537.2 451.9,535.7 455.9,533.2 467.9,524.3 472,521.8 476,519.9 480,518.8 524.1,516.4 536.2,517.1 560.3,520.3 568.3,522.1 572.3,522.5 576.3,522.5 580.3,521.9 588.4,520.3 600.4,519.1 604.4,517.7 608.4,516.8 620.5,515.8 656.6,516.1 660.6,516.6 664.6,517.6 668.6,519 688.7,529.3 692.7,530.8 696.7,531.8 752.9,531.3" class="ml"/>
<path d="M110.8,538.4 130.9,537.3 134.9,536.8 138.9,535.4 142.9,533 150.9,527.4 154.9,525.1 158.9,523.6 163,522.6 175,521 183,520.6 195.1,521.5 227.2,527.1 231.2,528.3 239.2,532.6 251.3,541.5 255.3,543.7 259.3,543.9 271.3,539.8 275.3,538.8 279.3,538.2 283.4,538.1 287.4,538.3 291.4,538.1 299.4,533.8 303.4,532 307.4,530.6 315.5,528.9 347.6,526.6 359.6,526.8 367.6,528.1 375.7,530.1 379.7,528.6 387.7,526.9 395.7,526.5 403.8,527.4 407.8,528.4 411.8,529.8 415.8,531.7 427.8,538.5 431.9,539.4 455.9,534.3 459.9,532.3 468,526.2 472,524 476,522.4 480,521.8 516.1,519.3 532.2,519.7 556.3,523.1 568.3,525.4 572.3,525.7 576.3,525.6 592.4,523 616.5,521.4 624.5,520.5 636.5,520.4 648.6,521.5 656.6,523.3 676.7,530.6 684.7,533.8 688.7,534.9 692.7,535.5 752.9,534.5 L752.9,566 L110.8,566Z" fill="url(#r79)"/>
<path d="M110.8,538.4 130.9,537.3 134.9,536.8 138.9,535.4 142.9,533 150.9,527.4 154.9,525.1 158.9,523.6 163,522.6 175,521 183,520.6 195.1,521.5 227.2,527.1 231.2,528.3 239.2,532.6 251.3,541.5 255.3,543.7 259.3,543.9 271.3,539.8 275.3,538.8 279.3,538.2 283.4,538.1 287.4,538.3 291.4,538.1 299.4,533.8 303.4,532 307.4,530.6 315.5,528.9 347.6,526.6 359.6,526.8 367.6,528.1 375.7,530.1 379.7,528.6 387.7,526.9 395.7,526.5 403.8,527.4 407.8,528.4 411.8,529.8 415.8,531.7 427.8,538.5 431.9,539.4 455.9,534.3 459.9,532.3 468,526.2 472,524 476,522.4 480,521.8 516.1,519.3 532.2,519.7 556.3,523.1 568.3,525.4 572.3,525.7 576.3,525.6 592.4,523 616.5,521.4 624.5,520.5 636.5,520.4 648.6,521.5 656.6,523.3 676.7,530.6 684.7,533.8 688.7,534.9 692.7,535.5 752.9,534.5" class="ml"/>
<ellipse cx="160" cy="527" rx="24" ry="5" fill="#030820" opacity="0.8" filter="url(#b3)"/>
<ellipse cx="230" cy="527" rx="11" ry="4.5" fill="#030820" opacity="0.75" filter="url(#b3)"/>
<path d="M205.4,485 L212.6,523.7 L217.1,529.7 L207.5,531.5 L195.4,530.3 L199.6,523.7Z" fill="#35aef2" class="pk"/><path d="M205.4,485 L212.6,523.7 L217.1,529.7 L207.5,531.5Z" fill="#36c8f3" class="pk"/><path d="M205.4,484.5 L206.5,489.5 L204.3,489.5 Z" fill="#0a1238" fill-opacity="0.85"/>
<path d="M580.5,463 L587.2,517.2 L591.6,525.7 L582,527.5 L569.9,526.3 L574.2,517.2Z" fill="#33a0ee" class="pk"/><path d="M580.5,463 L587.2,517.2 L591.6,525.7 L582,527.5Z" fill="#2a86c7" class="pk"/><path d="M580.5,462.5 L581.4,467.5 L579.6,467.5 Z" fill="#0a1238" fill-opacity="0.85"/>
<path d="M190.6,480 L199.2,523 L205.2,529.7 L191.9,531.5 L175.3,530.3 L181.4,523Z" fill="#36c8f3" class="pk"/><path d="M190.6,480 L199.2,523 L205.2,529.7 L191.9,531.5Z" fill="#40d4f8" class="pk"/><path d="M190.6,479.5 L191.9,484.5 L189.3,484.5 Z" fill="#0a1238" fill-opacity="0.85"/>
<path d="M517,458 L523.8,517.5 L528.3,526.2 L518.3,528 L505.7,526.8 L510.2,517.5Z" fill="#33a0ee" class="pk"/><path d="M517,458 L523.8,517.5 L528.3,526.2 L518.3,528Z" fill="#2a86c7" class="pk"/><path d="M517,457.5 L517.8,462.5 L516.2,462.5 Z" fill="#0a1238" fill-opacity="0.85"/>
<path d="M196,476.6 L203.2,523 L207.8,530.2 L195.5,532 L185.2,530.8 L189.7,523Z" fill="#36c8f3" class="pk"/><path d="M196,476.6 L203.2,523 L207.8,530.2 L195.5,532Z" fill="#2da8cc" class="pk"/><path d="M196,476.6 L195.6,523.7 L203.1,522.4 Z" fill="#e8231a" class="pk"/><path d="M196,476.1 L197,481.1 L195,481.1 Z" fill="#0a1238" fill-opacity="0.85"/>
<path d="M110.8,541.7 134.9,540.2 138.9,539 142.9,537 155,529.1 163,525.8 175,524.2 183.1,523.9 199.1,525.4 227.2,530.3 231.2,531.6 235.2,533.8 247.3,543.3 251.3,545.9 255.3,547.5 259.3,547.9 287.4,546 291.4,545.2 303.5,541 307.5,539 315.5,534.1 319.5,532.2 323.5,531.1 343.6,529.3 371.7,529.3 375.7,530 379.7,531.4 387.7,535.5 391.8,536.9 395.8,536.9 403.8,537.9 415.8,541.2 419.9,541.9 423.9,541 435.9,537.1 460,533.5 464,532.7 468,529.8 472,527.5 476,525.9 480,525.2 520.2,522.7 532.2,523.1 552.3,525.7 568.3,529.1 572.4,529.5 576.4,529.5 580.4,528.9 588.4,527.2 612.5,525.2 616.5,525.4 620.5,526.6 624.5,528.6 628.5,529 668.7,529.1 672.7,529.5 676.7,530.6 688.7,536.2 692.7,537.7 696.8,538.6 752.9,537.8 L752.9,566 L110.8,566Z" fill="url(#r80)"/>
<path d="M110.8,541.7 134.9,540.2 138.9,539 142.9,537 155,529.1 163,525.8 175,524.2 183.1,523.9 199.1,525.4 227.2,530.3 231.2,531.6 235.2,533.8 247.3,543.3 251.3,545.9 255.3,547.5 259.3,547.9 287.4,546 291.4,545.2 303.5,541 307.5,539 315.5,534.1 319.5,532.2 323.5,531.1 343.6,529.3 371.7,529.3 375.7,530 379.7,531.4 387.7,535.5 391.8,536.9 395.8,536.9 403.8,537.9 415.8,541.2 419.9,541.9 423.9,541 435.9,537.1 460,533.5 464,532.7 468,529.8 472,527.5 476,525.9 480,525.2 520.2,522.7 532.2,523.1 552.3,525.7 568.3,529.1 572.4,529.5 576.4,529.5 580.4,528.9 588.4,527.2 612.5,525.2 616.5,525.4 620.5,526.6 624.5,528.6 628.5,529 668.7,529.1 672.7,529.5 676.7,530.6 688.7,536.2 692.7,537.7 696.8,538.6 752.9,537.8" class="ml"/>
<path d="M110.9,544.9 139,543.2 143,542.1 163.1,532.5 167.1,531.3 175.1,530.3 183.1,530.2 223.3,535.6 227.3,536.7 231.3,538.4 247.3,548.2 251.3,550 255.4,550.9 263.4,551.1 291.5,549 295.5,547.9 299.5,546 311.5,539.3 315.6,537.7 335.6,535.1 375.7,534.6 379.8,535 383.8,536.2 399.8,543.5 403.8,544.5 411.9,545.1 415.9,544.7 427.9,541.2 431.9,540.5 444,540.4 464,537.8 468,537 472.1,534.9 476.1,533.3 480.1,532.2 524.2,530 536.3,530.6 552.3,532.6 556.3,533.8 572.4,536.5 576.4,536.5 580.4,536 592.4,533.6 608.5,532.1 612.5,532.4 616.5,533.2 620.5,534.6 672.7,534.6 676.7,535.3 692.8,541 696.8,541.8 753,541.1 L753,566 L110.9,566Z" fill="url(#r81)"/>
<path d="M110.9,544.9 139,543.2 143,542.1 163.1,532.5 167.1,531.3 175.1,530.3 183.1,530.2 223.3,535.6 227.3,536.7 231.3,538.4 247.3,548.2 251.3,550 255.4,550.9 263.4,551.1 291.5,549 295.5,547.9 299.5,546 311.5,539.3 315.6,537.7 335.6,535.1 375.7,534.6 379.8,535 383.8,536.2 399.8,543.5 403.8,544.5 411.9,545.1 415.9,544.7 427.9,541.2 431.9,540.5 444,540.4 464,537.8 468,537 472.1,534.9 476.1,533.3 480.1,532.2 524.2,530 536.3,530.6 552.3,532.6 556.3,533.8 572.4,536.5 576.4,536.5 580.4,536 592.4,533.6 608.5,532.1 612.5,532.4 616.5,533.2 620.5,534.6 672.7,534.6 676.7,535.3 692.8,541 696.8,541.8 753,541.1" class="ml"/>
<path d="M110.9,548.2 143,546.2 151.1,544.9 171.1,539.9 175.1,539.2 183.2,539 215.3,543.1 227.3,546.1 243.4,551.7 251.4,553.6 259.4,554.4 287.5,552.6 291.5,552.1 311.6,546.4 315.6,545.6 347.7,542.9 379.8,542.8 387.8,544 399.9,547.1 407.9,548.1 411.9,548.3 428,547 444,547.4 464.1,544.8 472.1,544.5 484.1,542.3 528.3,540.6 544.3,541.8 556.4,544.3 560.4,544.5 572.4,546.5 576.4,546.5 580.4,546 588.5,544.1 596.5,543 608.5,542.7 612.5,543 664.7,542.1 672.7,542.6 688.8,545 753,544.4 L753,566 L110.9,566Z" fill="url(#r82)"/>
<path d="M110.9,548.2 143,546.2 151.1,544.9 171.1,539.9 175.1,539.2 183.2,539 215.3,543.1 227.3,546.1 243.4,551.7 251.4,553.6 259.4,554.4 287.5,552.6 291.5,552.1 311.6,546.4 315.6,545.6 347.7,542.9 379.8,542.8 387.8,544 399.9,547.1 407.9,548.1 411.9,548.3 428,547 444,547.4 464.1,544.8 472.1,544.5 484.1,542.3 528.3,540.6 544.3,541.8 556.4,544.3 560.4,544.5 572.4,546.5 576.4,546.5 580.4,546 588.5,544.1 596.5,543 608.5,542.7 612.5,543 664.7,542.1 672.7,542.6 688.8,545 753,544.4" class="ml"/>
<path d="M347.5,488 L353.8,531.9 L358,538.7 L348.7,540.5 L337,539.3 L341.2,531.9Z" fill="#33a0ee" class="pk"/><path d="M347.5,488 L353.8,531.9 L358,538.7 L348.7,540.5Z" fill="#2a86c7" class="pk"/><path d="M347.5,487.5 L348.5,492.5 L346.5,492.5 Z" fill="#0a1238" fill-opacity="0.85"/>
<path d="M458.4,457 L463.2,534 L467.1,542.7 L457.5,544.5 L445.4,543.3 L449.7,534Z" fill="#2a80e6" class="pk"/><path d="M458.4,457 L463.2,534 L467.1,542.7 L457.5,544.5Z" fill="#236bc1" class="pk"/><path d="M458.4,456.5 L459.1,461.5 L457.7,461.5 Z" fill="#0a1238" fill-opacity="0.85"/>
<path d="M565.2,444.2 L570,490 L573.8,542 L566,543.5 L558.6,542 Z" fill="#2a86e8" class="pk"/><path d="M563.6,468 L566,543.5 L558.6,542 Z" fill="#36c8f3" class="pk"/><path d="M567.5,486.7 L570.6,512 L572.9,542 L566.2,543.4 L566.4,500 Z" fill="#e8231a" class="pk"/><path d="M565.2,443.7 L566.1,452 L564.4,452 Z" fill="#0a1238"/>
<path d="M470.6,468.4 L480,534.1 L484.8,542.8 L474.8,544.6 L462.2,543.4 L466.3,534.1Z" fill="#33a0ee" class="pk"/><path d="M470.6,468.4 L480,534.1 L484.8,542.8 L474.8,544.6Z" fill="#2a86c7" class="pk"/><path d="M470.6,467.9 L471.4,472.9 L469.8,472.9 Z" fill="#0a1238" fill-opacity="0.85"/>
<path d="M460.2,476.5 L468.8,485.4 L472.5,512 L475.4,542 L461.2,543.2 Z" fill="#f02814" class="pk"/><path d="M460.2,476.5 L466,482.5 L467.8,542.8 L461.2,543.2 Z" fill="#cc1616"/><path d="M460,498 L461.2,543.2 L453.6,542 Z" fill="#36c8f3" class="pk"/>
<path d="M111,551.4 179.2,547.3 187.2,547.8 255.4,557.3 263.5,557.6 343.7,551.8 395.9,550.7 440,554.6 448.1,554.3 464.1,552.2 532.3,550.8 556.4,552.8 564.4,554.3 568.4,555.3 572.4,555.9 576.5,556 580.5,555.5 592.5,552.8 612.6,550.4 753,547.7 L753,566 L111,566Z" fill="url(#r83)"/>
<path d="M111,551.4 179.2,547.3 187.2,547.8 255.4,557.3 263.5,557.6 343.7,551.8 395.9,550.7 440,554.6 448.1,554.3 464.1,552.2 532.3,550.8 556.4,552.8 564.4,554.3 568.4,555.3 572.4,555.9 576.5,556 580.5,555.5 592.5,552.8 612.6,550.4 753,547.7" class="ml"/>
<path d="M340.5,498 L346.8,537.6 L351,543.7 L341.7,545.5 L330,544.3 L334.2,537.6Z" fill="#36c8f3" class="pk"/><path d="M340.5,498 L346.8,537.6 L351,543.7 L341.7,545.5Z" fill="#2da8cc" class="pk"/><path d="M340.5,497.5 L341.5,502.5 L339.5,502.5 Z" fill="#0a1238" fill-opacity="0.85"/>
<path d="M200,318 C176,322 160,336 154,360 C148,400 147,470 150,545" fill="none" stroke="#040a28" stroke-width="9" stroke-opacity="0.5" filter="url(#b4)"/>
</g>
<g clip-path="url(#sc)" stroke="#020a2a" stroke-width="0.55" fill="none">
<line x1="111.5" y1="272" x2="109" y2="560" stroke-opacity="0.5"/>
<line x1="114.1" y1="272" x2="111.6" y2="560" stroke-opacity="0.5"/>
<line x1="116.7" y1="272" x2="114.2" y2="560" stroke-opacity="0.5"/>
<line x1="119.3" y1="272" x2="116.8" y2="560" stroke-opacity="0.5"/>
<line x1="121.9" y1="272" x2="119.4" y2="560" stroke-opacity="0.5"/>
<line x1="124.5" y1="272" x2="122.1" y2="560" stroke-opacity="0.5"/>
<line x1="127.1" y1="272" x2="124.7" y2="560" stroke-opacity="0.5"/>
<line x1="129.7" y1="272" x2="127.3" y2="560" stroke-opacity="0.5"/>
<line x1="132.3" y1="272" x2="129.9" y2="560" stroke-opacity="0.5"/>
<line x1="134.9" y1="272" x2="132.5" y2="560" stroke-opacity="0.5"/>
<line x1="137.5" y1="272" x2="135.2" y2="560" stroke-opacity="0.5"/>
<line x1="140.1" y1="272" x2="137.8" y2="560" stroke-opacity="0.5"/>
<line x1="142.7" y1="272" x2="140.4" y2="560" stroke-opacity="0.5"/>
<line x1="145.3" y1="272" x2="143" y2="560" stroke-opacity="0.5"/>
<line x1="147.9" y1="272" x2="145.6" y2="560" stroke-opacity="0.5"/>
<line x1="150.5" y1="272" x2="148.3" y2="560" stroke-opacity="0.5"/>
<line x1="153.1" y1="272" x2="150.9" y2="560" stroke-opacity="0.5"/>
<line x1="155.7" y1="272" x2="153.5" y2="560" stroke-opacity="0.5"/>
<line x1="158.3" y1="272" x2="156.1" y2="560" stroke-opacity="0.5"/>
<line x1="160.9" y1="272" x2="158.7" y2="560" stroke-opacity="0.5"/>
<line x1="163.5" y1="272" x2="161.4" y2="560" stroke-opacity="0.5"/>
<line x1="166.1" y1="272" x2="164" y2="560" stroke-opacity="0.5"/>
<line x1="168.7" y1="272" x2="166.6" y2="560" stroke-opacity="0.5"/>
<line x1="171.3" y1="272" x2="169.2" y2="560" stroke-opacity="0.5"/>
<line x1="173.9" y1="272" x2="171.9" y2="560" stroke-opacity="0.5"/>
<line x1="176.5" y1="272" x2="174.5" y2="560" stroke-opacity="0.5"/>
<line x1="179.1" y1="272" x2="177.1" y2="560" stroke-opacity="0.5"/>
<line x1="181.7" y1="272" x2="179.7" y2="560" stroke-opacity="0.5"/>
<line x1="184.3" y1="272" x2="182.3" y2="560" stroke-opacity="0.5"/>
<line x1="186.9" y1="272" x2="185" y2="560" stroke-opacity="0.5"/>
<line x1="189.5" y1="272" x2="187.6" y2="560" stroke-opacity="0.5"/>
<line x1="192.1" y1="272" x2="190.2" y2="560" stroke-opacity="0.5"/>
<line x1="194.7" y1="272" x2="192.8" y2="560" stroke-opacity="0.5"/>
<line x1="197.3" y1="272" x2="195.4" y2="560" stroke-opacity="0.5"/>
<line x1="199.9" y1="272" x2="198.1" y2="560" stroke-opacity="0.5"/>
<line x1="202.5" y1="272" x2="200.7" y2="560" stroke-opacity="0.45"/>
<line x1="205.1" y1="272" x2="203.3" y2="560" stroke-opacity="0.45"/>
<line x1="207.8" y1="272" x2="206" y2="560" stroke-opacity="0.45"/>
<line x1="210.5" y1="272" x2="208.7" y2="560" stroke-opacity="0.45"/>
<line x1="213.2" y1="272" x2="211.5" y2="560" stroke-opacity="0.45"/>
<line x1="216" y1="272" x2="214.3" y2="560" stroke-opacity="0.45"/>
<line x1="218.8" y1="272" x2="217.1" y2="560" stroke-opacity="0.45"/>
<line x1="221.6" y1="272" x2="219.9" y2="560" stroke-opacity="0.45"/>
<line x1="224.5" y1="272" x2="222.8" y2="560" stroke-opacity="0.45"/>
<line x1="227.4" y1="272" x2="225.8" y2="560" stroke-opacity="0.45"/>
<line x1="230.3" y1="272" x2="228.7" y2="560" stroke-opacity="0.45"/>
<line x1="233.3" y1="272" x2="231.7" y2="560" stroke-opacity="0.45"/>
<line x1="236.3" y1="272" x2="234.7" y2="560" stroke-opacity="0.45"/>
<line x1="239.3" y1="272" x2="237.8" y2="560" stroke-opacity="0.45"/>
<line x1="242.4" y1="272" x2="240.9" y2="560" stroke-opacity="0.45"/>
<line x1="245.5" y1="272" x2="244.1" y2="560" stroke-opacity="0.45"/>
<line x1="248.7" y1="272" x2="247.3" y2="560" stroke-opacity="0.45"/>
<line x1="251.9" y1="272" x2="250.5" y2="560" stroke-opacity="0.45"/>
<line x1="255.1" y1="272" x2="253.7" y2="560" stroke-opacity="0.45"/>
<line x1="258.4" y1="272" x2="257.1" y2="560" stroke-opacity="0.45"/>
<line x1="261.7" y1="272" x2="260.4" y2="560" stroke-opacity="0.45"/>
<line x1="265.1" y1="272" x2="263.8" y2="560" stroke-opacity="0.45"/>
<line x1="268.5" y1="272" x2="267.2" y2="560" stroke-opacity="0.45"/>
<line x1="272" y1="272" x2="270.7" y2="560" stroke-opacity="0.45"/>
<line x1="275.4" y1="272" x2="274.2" y2="560" stroke-opacity="0.45"/>
<line x1="279" y1="272" x2="277.8" y2="560" stroke-opacity="0.45"/>
<line x1="282.5" y1="272" x2="281.4" y2="560" stroke-opacity="0.45"/>
<line x1="286.2" y1="272" x2="285" y2="560" stroke-opacity="0.45"/>
<line x1="289.8" y1="272" x2="288.7" y2="560" stroke-opacity="0.45"/>
<line x1="293.5" y1="272" x2="292.4" y2="560" stroke-opacity="0.45"/>
<line x1="297.3" y1="272" x2="296.2" y2="560" stroke-opacity="0.45"/>
<line x1="301.1" y1="272" x2="300" y2="560" stroke-opacity="0.45"/>
<line x1="304.9" y1="272" x2="303.9" y2="560" stroke-opacity="0.45"/>
<line x1="308.8" y1="272" x2="307.8" y2="560" stroke-opacity="0.45"/>
<line x1="312.7" y1="272" x2="311.8" y2="560" stroke-opacity="0.45"/>
<line x1="316.7" y1="272" x2="315.8" y2="560" stroke-opacity="0.45"/>
<line x1="320.8" y1="272" x2="319.9" y2="560" stroke-opacity="0.45"/>
<line x1="324.9" y1="272" x2="324" y2="560" stroke-opacity="0.45"/>
<line x1="329" y1="272" x2="328.2" y2="560" stroke-opacity="0.45"/>
<line x1="333.2" y1="272" x2="332.4" y2="560" stroke-opacity="0.44"/>
<line x1="337.4" y1="272" x2="336.7" y2="560" stroke-opacity="0.44"/>
<line x1="341.7" y1="272" x2="341" y2="560" stroke-opacity="0.44"/>
<line x1="346" y1="272" x2="345.3" y2="560" stroke-opacity="0.44"/>
<line x1="350.4" y1="272" x2="349.8" y2="560" stroke-opacity="0.44"/>
<line x1="354.8" y1="272" x2="354.2" y2="560" stroke-opacity="0.44"/>
<line x1="359.3" y1="272" x2="358.7" y2="560" stroke-opacity="0.44"/>
<line x1="363.8" y1="272" x2="363.3" y2="560" stroke-opacity="0.44"/>
<line x1="368.4" y1="272" x2="367.9" y2="560" stroke-opacity="0.44"/>
<line x1="373" y1="272" x2="372.5" y2="560" stroke-opacity="0.44"/>
<line x1="377.6" y1="272" x2="377.2" y2="560" stroke-opacity="0.44"/>
<line x1="382.4" y1="272" x2="382" y2="560" stroke-opacity="0.44"/>
<line x1="387.1" y1="272" x2="386.8" y2="560" stroke-opacity="0.44"/>
<line x1="391.9" y1="272" x2="391.6" y2="560" stroke-opacity="0.44"/>
<line x1="396.8" y1="272" x2="396.6" y2="560" stroke-opacity="0.44"/>
<line x1="401.7" y1="272" x2="401.5" y2="560" stroke-opacity="0.44"/>
<line x1="406.7" y1="272" x2="406.5" y2="560" stroke-opacity="0.44"/>
<line x1="411.7" y1="272" x2="411.6" y2="560" stroke-opacity="0.44"/>
<line x1="416.8" y1="272" x2="416.7" y2="560" stroke-opacity="0.44"/>
<line x1="422" y1="272" x2="421.9" y2="560" stroke-opacity="0.44"/>
<line x1="427.2" y1="272" x2="427.2" y2="560" stroke-opacity="0.44"/>
<line x1="432.4" y1="272" x2="432.4" y2="560" stroke-opacity="0.44"/>
<line x1="437.7" y1="272" x2="437.8" y2="560" stroke-opacity="0.44"/>
<line x1="443.1" y1="272" x2="443.2" y2="560" stroke-opacity="0.44"/>
<line x1="448.5" y1="272" x2="448.7" y2="560" stroke-opacity="0.44"/>
<line x1="454" y1="272" x2="454.2" y2="560" stroke-opacity="0.46"/>
<line x1="459.6" y1="272" x2="459.8" y2="560" stroke-opacity="0.46"/>
<line x1="465.2" y1="272" x2="465.5" y2="560" stroke-opacity="0.46"/>
<line x1="470.8" y1="272" x2="471.1" y2="560" stroke-opacity="0.46"/>
<line x1="476.4" y1="272" x2="476.8" y2="560" stroke-opacity="0.46"/>
<line x1="482" y1="272" x2="482.4" y2="560" stroke-opacity="0.46"/>
<line x1="487.6" y1="272" x2="488.1" y2="560" stroke-opacity="0.46"/>
<line x1="493.2" y1="272" x2="493.7" y2="560" stroke-opacity="0.46"/>
<line x1="498.8" y1="272" x2="499.4" y2="560" stroke-opacity="0.46"/>
<line x1="504.4" y1="272" x2="505" y2="560" stroke-opacity="0.46"/>
<line x1="510" y1="272" x2="510.7" y2="560" stroke-opacity="0.46"/>
<line x1="515.6" y1="272" x2="516.3" y2="560" stroke-opacity="0.46"/>
<line x1="521.2" y1="272" x2="521.9" y2="560" stroke-opacity="0.46"/>
<line x1="526.8" y1="272" x2="527.6" y2="560" stroke-opacity="0.46"/>
<line x1="532.4" y1="272" x2="533.2" y2="560" stroke-opacity="0.46"/>
<line x1="538" y1="272" x2="538.9" y2="560" stroke-opacity="0.46"/>
<line x1="543.6" y1="272" x2="544.5" y2="560" stroke-opacity="0.46"/>
<line x1="549.2" y1="272" x2="550.2" y2="560" stroke-opacity="0.46"/>
<line x1="554.8" y1="272" x2="555.8" y2="560" stroke-opacity="0.46"/>
<line x1="560.4" y1="272" x2="561.5" y2="560" stroke-opacity="0.46"/>
<line x1="566" y1="272" x2="567.1" y2="560" stroke-opacity="0.46"/>
<line x1="571.6" y1="272" x2="572.7" y2="560" stroke-opacity="0.46"/>
<line x1="577.2" y1="272" x2="578.4" y2="560" stroke-opacity="0.46"/>
<line x1="582.8" y1="272" x2="584" y2="560" stroke-opacity="0.46"/>
<line x1="588.4" y1="272" x2="589.7" y2="560" stroke-opacity="0.46"/>
<line x1="594" y1="272" x2="595.3" y2="560" stroke-opacity="0.46"/>
<line x1="599.6" y1="272" x2="601" y2="560" stroke-opacity="0.46"/>
<line x1="605.2" y1="272" x2="606.6" y2="560" stroke-opacity="0.46"/>
<line x1="610.8" y1="272" x2="612.3" y2="560" stroke-opacity="0.46"/>
<line x1="616.4" y1="272" x2="617.9" y2="560" stroke-opacity="0.46"/>
<line x1="622" y1="272" x2="623.5" y2="560" stroke-opacity="0.46"/>
<line x1="627.6" y1="272" x2="629.2" y2="560" stroke-opacity="0.46"/>
<line x1="633.2" y1="272" x2="634.8" y2="560" stroke-opacity="0.46"/>
<line x1="638.8" y1="272" x2="640.5" y2="560" stroke-opacity="0.46"/>
<line x1="644.4" y1="272" x2="646.1" y2="560" stroke-opacity="0.46"/>
<line x1="650" y1="272" x2="651.8" y2="560" stroke-opacity="0.46"/>
<line x1="655.6" y1="272" x2="657.4" y2="560" stroke-opacity="0.46"/>
<line x1="661.2" y1="272" x2="663.1" y2="560" stroke-opacity="0.46"/>
<line x1="666.8" y1="272" x2="668.7" y2="560" stroke-opacity="0.46"/>
<line x1="672.4" y1="272" x2="674.4" y2="560" stroke-opacity="0.46"/>
<line x1="678" y1="272" x2="680" y2="560" stroke-opacity="0.46"/>
<line x1="683.6" y1="272" x2="685.6" y2="560" stroke-opacity="0.46"/>
<line x1="689.2" y1="272" x2="691.3" y2="560" stroke-opacity="0.46"/>
<line x1="694.8" y1="272" x2="696.9" y2="560" stroke-opacity="0.46"/>
<line x1="700.4" y1="272" x2="702.6" y2="560" stroke-opacity="0.46"/>
<line x1="706" y1="272" x2="708.2" y2="560" stroke-opacity="0.46"/>
<line x1="711.6" y1="272" x2="713.9" y2="560" stroke-opacity="0.46"/>
<line x1="717.2" y1="272" x2="719.5" y2="560" stroke-opacity="0.46"/>
<line x1="722.8" y1="272" x2="725.2" y2="560" stroke-opacity="0.46"/>
<line x1="728.4" y1="272" x2="730.8" y2="560" stroke-opacity="0.46"/>
<line x1="734" y1="272" x2="736.4" y2="560" stroke-opacity="0.46"/>
<line x1="739.6" y1="272" x2="742.1" y2="560" stroke-opacity="0.46"/>
<line x1="745.2" y1="272" x2="747.7" y2="560" stroke-opacity="0.46"/>
</g>
<path d="M114,551.5 L150,549 L181,547 L235,554 L258,558 L300,555 L335,552 L396,550.5 L415,552 L430,554 L445,555 L463,552 L500,551.5 L531,550.5 L560,553 L574.5,557 L590,553 L615,550 L650,550 L700,548.5 L750,547.7 L760,547 L760,578 L104,578 L104,551 Z" fill="#fff"/>
<g stroke="#b2b2b2" stroke-width="1" stroke-dasharray="1.2,1.6" fill="none">
<line x1="114.2" y1="552.5" x2="114.2" y2="578"/>
<line x1="184.8" y1="548.5" x2="184.8" y2="578"/>
<line x1="255.4" y1="558.5" x2="255.4" y2="578"/>
<line x1="326" y1="553.8" x2="326" y2="578"/>
<line x1="396.6" y1="551.5" x2="396.6" y2="578"/>
<line x1="467.2" y1="552.9" x2="467.2" y2="578"/>
<line x1="537.8" y1="552.1" x2="537.8" y2="578"/>
<line x1="608.4" y1="551.8" x2="608.4" y2="578"/>
<line x1="679" y1="550.1" x2="679" y2="578"/>
<line x1="749.6" y1="548.7" x2="749.6" y2="578"/>
</g>
<g stroke="#333" stroke-width="1" fill="none">
<line x1="99" y1="579" x2="750" y2="578.6"/>
<line x1="114.2" y1="578" x2="114.2" y2="594"/>
<line x1="184.8" y1="578" x2="184.8" y2="594"/>
<line x1="255.4" y1="578" x2="255.4" y2="594"/>
<line x1="326" y1="578" x2="326" y2="594"/>
<line x1="396.6" y1="578" x2="396.6" y2="594"/>
<line x1="467.2" y1="578" x2="467.2" y2="594"/>
<line x1="537.8" y1="578" x2="537.8" y2="594"/>
<line x1="608.4" y1="578" x2="608.4" y2="594"/>
<line x1="679" y1="578" x2="679" y2="594"/>
<line x1="749.6" y1="578" x2="749.6" y2="594"/>
<line x1="99" y1="579.5" x2="114" y2="578.7"/>
<line x1="98.3" y1="542" x2="113.3" y2="541.2"/>
<line x1="97.6" y1="504.6" x2="112.6" y2="503.8"/>
<line x1="96.9" y1="467.1" x2="111.9" y2="466.3"/>
<line x1="96.2" y1="429.7" x2="111.2" y2="428.9"/>
<line x1="95.6" y1="392.2" x2="110.6" y2="391.4"/>
<line x1="94.9" y1="354.8" x2="109.9" y2="354"/>
<line x1="94.2" y1="317.3" x2="109.2" y2="316.5"/>
<line x1="93.5" y1="279.9" x2="108.5" y2="279.1"/>
</g>
<g class="tk">
<text x="115.7" y="611.8">0</text>
<text x="186.3" y="611.8">10</text>
<text x="256.9" y="611.8">20</text>
<text x="327.5" y="611.8">30</text>
<text x="398.1" y="611.8">40</text>
<text x="468.7" y="611.8">50</text>
<text x="539.3" y="611.8">60</text>
<text x="609.9" y="611.8">70</text>
<text x="680.5" y="611.8">80</text>
<text x="751.1" y="611.8">90</text>
<text x="96.4" y="596" text-anchor="end">0</text>
<text x="95.8" y="558.5" text-anchor="end">50</text>
<text x="95.2" y="521.1" text-anchor="end">100</text>
<text x="94.7" y="483.6" text-anchor="end">150</text>
<text x="94.1" y="446.2" text-anchor="end">200</text>
<text x="93.5" y="408.8" text-anchor="end">250</text>
<text x="93" y="371.3" text-anchor="end">300</text>
<text x="92.4" y="333.8" text-anchor="end">350</text>
<text x="91.8" y="296.4" text-anchor="end">400</text>
<text x="108" y="160.2" text-anchor="end">0</text>
<text x="108" y="196.4" text-anchor="end">-50</text>
<text x="108" y="232.6" text-anchor="end">-100</text>
<text x="108" y="268.8" text-anchor="end">-150</text>
<text x="774.2" y="174.5">0</text>
<text x="774.2" y="232.9">-20</text>
<text x="774.2" y="291.4">-40</text>
<text x="774.2" y="349.9">-60</text>
<text x="774.2" y="408.3">-80</text>
<text x="774.2" y="466.8">-100</text>
<text x="774.2" y="525.2">-120</text>
<text x="774.2" y="583.7">-140</text>
<text x="311.3" y="154.3" textLength="238.5" lengthAdjust="spacingAndGlyphs">Normalized Angle Spectrum (dB)</text>
</g>
<rect x="760.4" y="167.5" width="12.4" height="412.5" fill="url(#jet)"/>
<g stroke="#222" stroke-width="1">
<line x1="770" y1="169" x2="773" y2="169"/>
<line x1="770" y1="227.4" x2="773" y2="227.4"/>
<line x1="770" y1="285.9" x2="773" y2="285.9"/>
<line x1="770" y1="344.4" x2="773" y2="344.4"/>
<line x1="770" y1="402.8" x2="773" y2="402.8"/>
<line x1="770" y1="461.2" x2="773" y2="461.2"/>
<line x1="770" y1="519.7" x2="773" y2="519.7"/>
<line x1="770" y1="578.2" x2="773" y2="578.2"/>
</g>
<ellipse cx="210.5" cy="411" rx="42.5" ry="162.5" fill="none" stroke="#b20f12" stroke-width="3.2"/>
<ellipse cx="619" cy="327" rx="20.5" ry="76" fill="none" stroke="#b20f12" stroke-width="2.6"/>
<ellipse cx="740.6" cy="303.3" rx="19.6" ry="75.8" fill="none" stroke="#ea1414" stroke-width="2.6"/>
<g stroke="#c0504d" fill="none" stroke-linecap="butt" filter="url(#ash)">
<line x1="417.6" y1="69" x2="208.7" y2="248.6" stroke-width="3.4"/>
<line x1="696.5" y1="109.5" x2="617" y2="250.5" stroke-width="3.4"/>
<line x1="846" y1="244.5" x2="760.5" y2="303" stroke-width="3.4"/>
<path d="M883,333.3 L824,333.3" stroke-width="5.2"/>
<path d="M841.5,323 L823,333.3 L840.5,344.8" stroke-width="5.2" stroke-linejoin="miter" stroke-linecap="round"/>
<path d="M797.8,668 L749.3,668 L749.3,622" stroke-width="5.8" stroke-linejoin="miter"/>
<path d="M740,637 L749.3,620.3 L759.3,637" stroke-width="5.6" stroke-linejoin="miter" stroke-linecap="round"/>
</g>
<g class="an">
<text x="398.8" y="35.6" textLength="433.4" lengthAdjust="spacingAndGlyphs">Reflections from the positioning unit</text>
<text x="711.8" y="116.9" textLength="211" lengthAdjust="spacingAndGlyphs">Ground reflection</text>
<text x="826.2" y="225.1" textLength="106.2" lengthAdjust="spacingAndGlyphs">LOS path</text>
<text x="905.2" y="340.2" textLength="112.4" lengthAdjust="spacingAndGlyphs">Frontside</text>
<text x="802.2" y="661.7" textLength="119.2" lengthAdjust="spacingAndGlyphs">Broadside</text>
<text x="314.3" y="652.4" textLength="183.6" lengthAdjust="spacingAndGlyphs">Elevation Angle</text>
<text x="504.3" y="652.6" style="font-family:'Liberation Serif',serif;font-style:italic;font-size:29px">θ</text>
<text x="527.6" y="652.4" textLength="30.4" lengthAdjust="spacingAndGlyphs">(°)</text>
<g transform="translate(26,243.2) rotate(90)">
<text x="0" y="0" textLength="174.2" lengthAdjust="spacingAndGlyphs">Azimuth Angle</text>
<text x="179.6" y="0" style="font-family:'Liberation Serif',serif;font-style:italic;font-size:34px">ϕ</text>
<text x="207.6" y="0" textLength="29" lengthAdjust="spacingAndGlyphs">(°)</text>
</g>
</g>
</svg>
</body></html>
